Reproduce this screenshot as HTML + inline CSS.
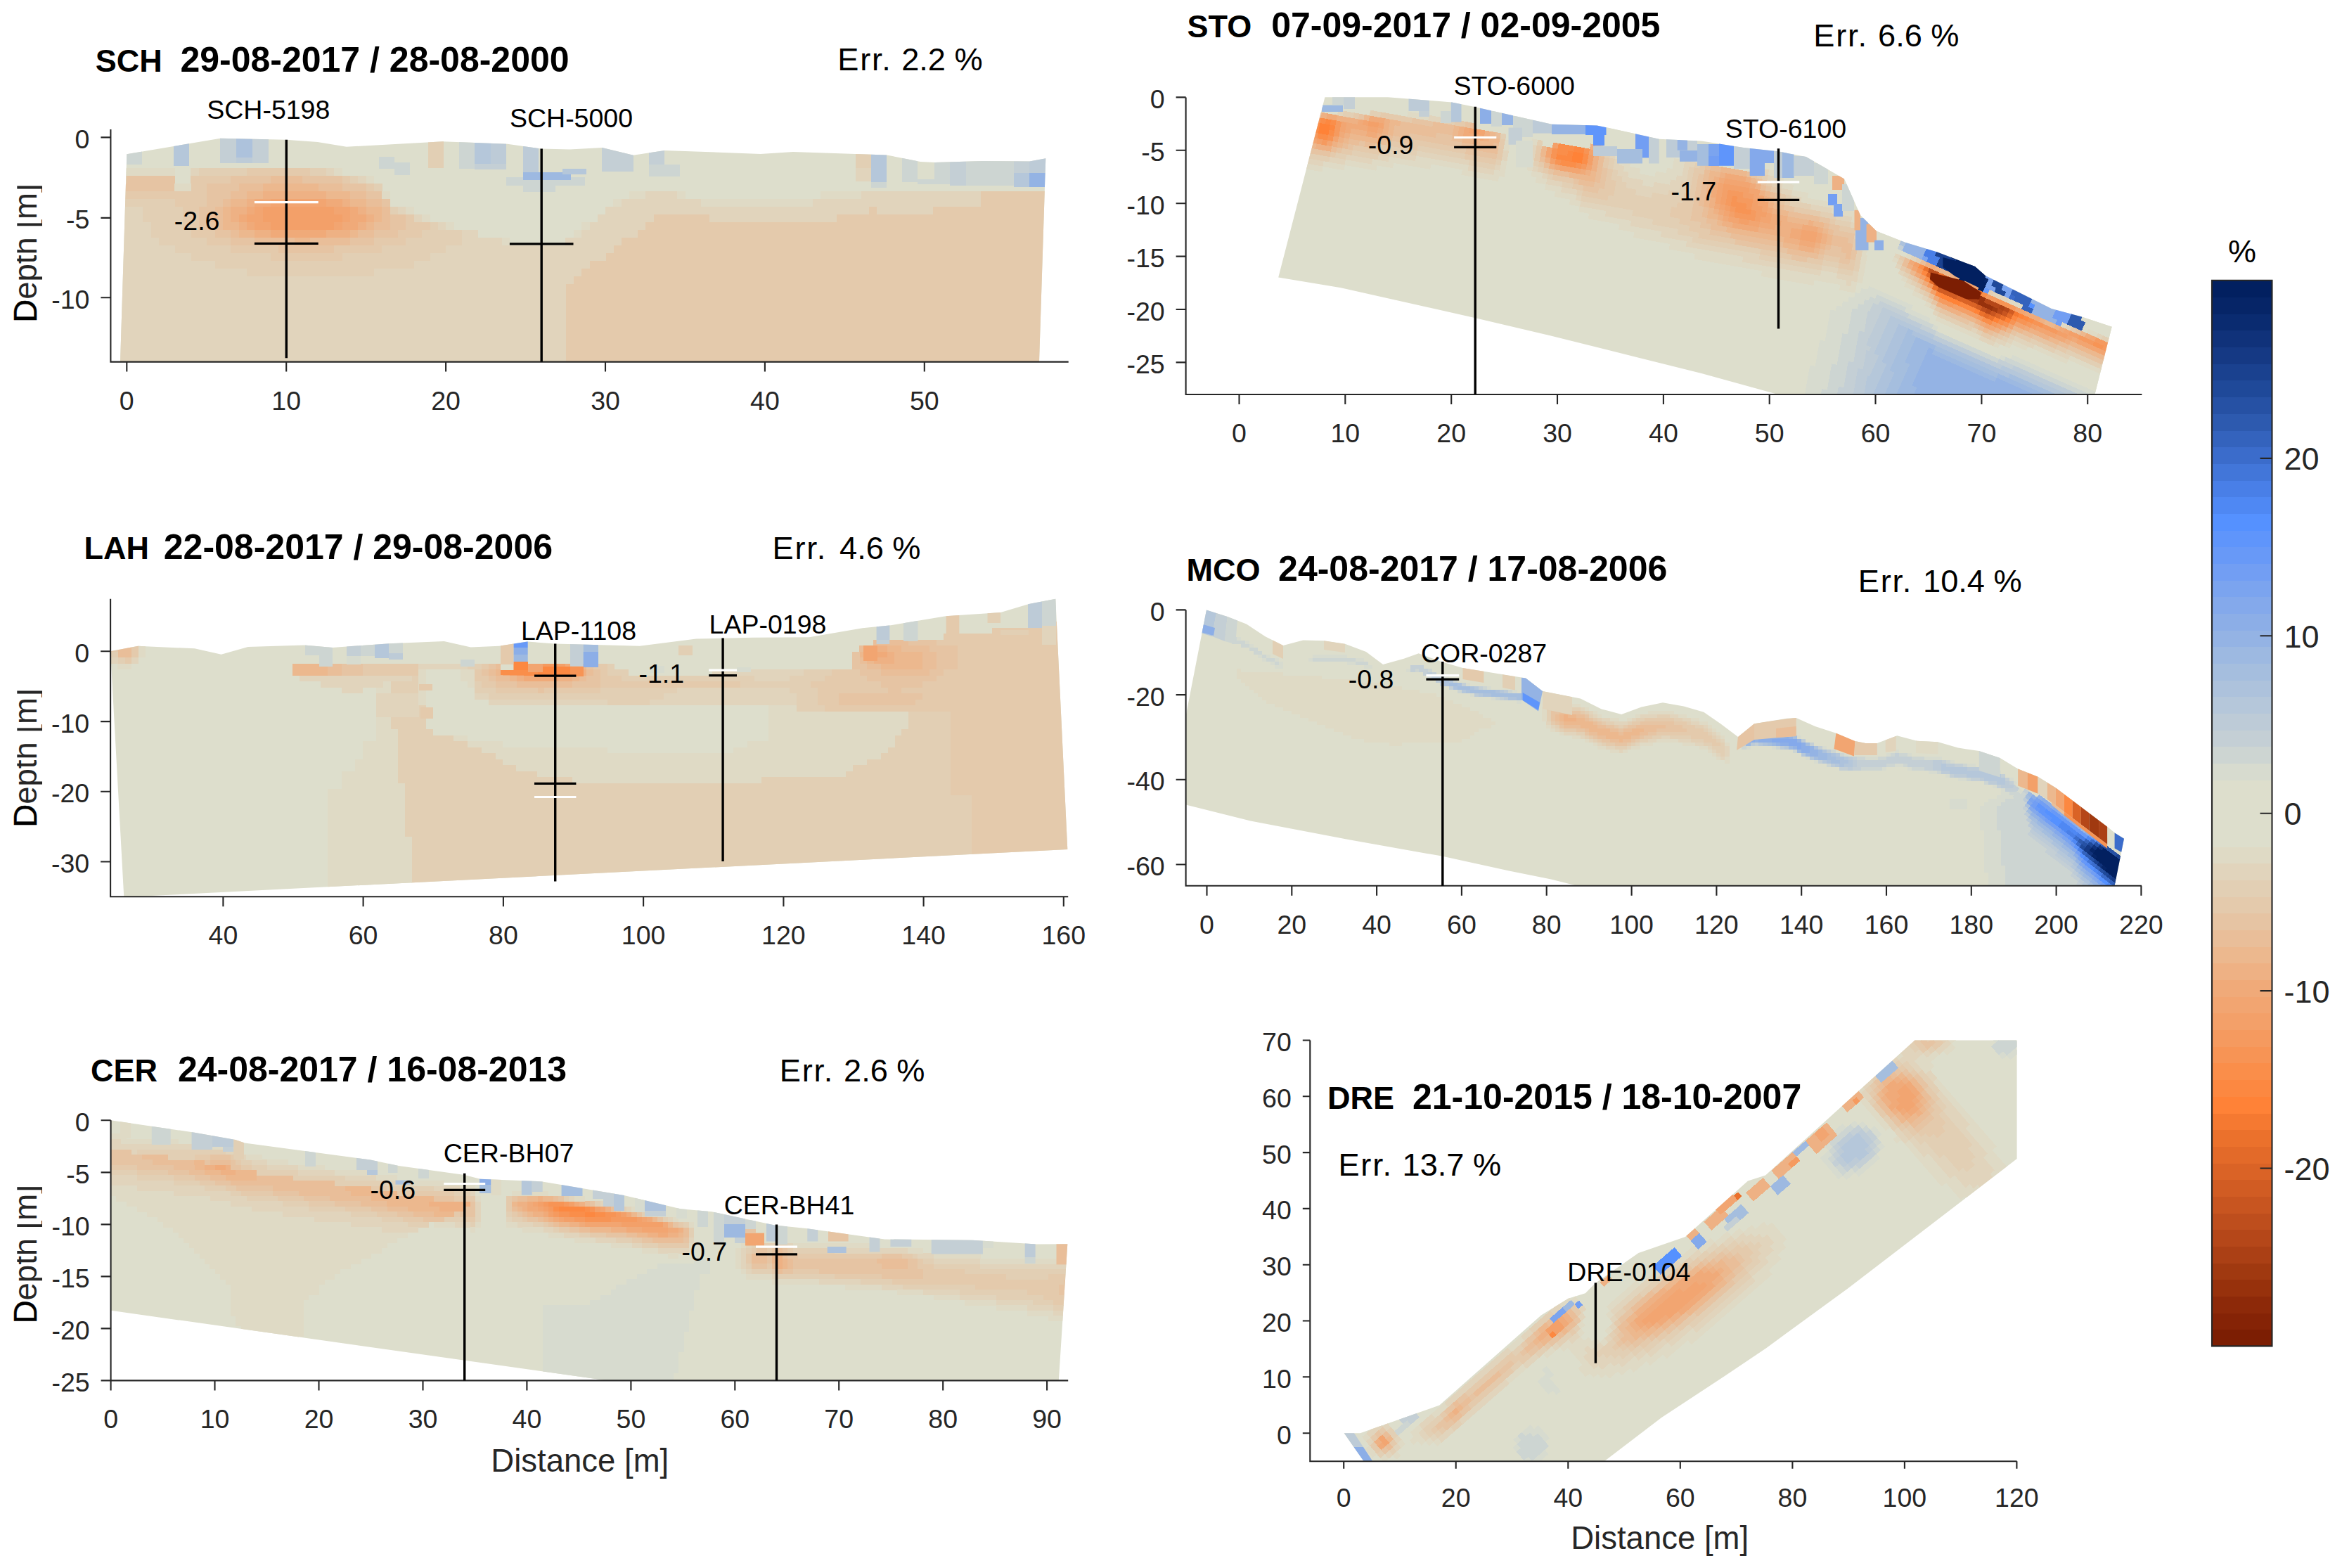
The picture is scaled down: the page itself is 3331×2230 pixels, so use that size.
<!DOCTYPE html>
<html lang="en"><head><meta charset="utf-8"><title>Resistivity change profiles</title>
<style>html,body{margin:0;padding:0;background:#fff}svg{display:block}text{font-family:"Liberation Sans", Arial, Helvetica, sans-serif}</style>
</head><body>
<svg width="3331" height="2230" viewBox="0 0 3331 2230">
<rect width="3331" height="2230" fill="#fff"/>
<defs>
<clipPath id="c0"><polygon points="180.3,219.3 313.5,196.8 407,198.8 451.8,201.9 492.8,208.8 629.5,201.2 721.7,204.7 769.5,211.5 810.5,212.5 856.5,210.1 900.8,220.7 945.2,213.9 1081.8,219 1127.9,215.9 1261.1,220.4 1309,229.9 1329.5,231 1397.8,228.9 1464.4,229.6 1487.3,225.2 1478,514.6 171,514.6"/></clipPath>
<clipPath id="c1"><polygon points="157.1,926.3 196.4,918.8 276.8,922.3 314.7,930.8 352.7,920.1 433,917.4 473.2,921 553.6,915.2 631.7,912.1 669.6,920.5 709.8,918.8 750,912.5 789.3,915.6 909.8,918.8 990.2,908.5 1070.5,906.7 1150.9,906.3 1226.8,893.3 1267,889.3 1345.1,876.3 1423.2,871 1463.4,858.9 1501.3,851.8 1518.3,1208 176.3,1276"/></clipPath>
<clipPath id="c2"><polygon points="157.6,1593.3 276.8,1610.7 334.8,1621 348,1625.4 526.8,1649.6 567,1658 660.7,1671 683,1676.8 771.4,1680.4 887.5,1700 967.9,1719.2 1012.5,1723.2 1101.8,1742.4 1146.4,1746.9 1258,1762.5 1383,1763.8 1474.6,1769.6 1518.3,1769.2 1505.8,1963.4 865,1963.4 157.6,1863.8"/></clipPath>
<clipPath id="c3"><polygon points="1884.4,138.2 1974.1,138.2 2065.1,145.4 2097.3,152.1 2207.1,176.8 2271.4,178.4 2359.7,197.7 2420,200.6 2480,210 2528.8,215.2 2568.8,223 2623.2,254.4 2646,306 2669,328.8 2709,344.5 2755.4,358.5 2809,379 2823.4,391.7 2917.8,439 2960.7,450.4 3003.7,464.7 2979.4,561 2528.8,561 2420,531.1 2205.7,477.5 2097.3,452.1 1907.1,409.2 1818.2,394.5"/></clipPath>
<clipPath id="c4"><polygon points="1715.9,867.6 1745.8,876.9 1772.7,887.4 1799.6,905.3 1825,918.1 1853.4,910.4 1883.2,911.3 1913.1,915.8 1943,927.1 1967,945 1996.8,936.7 2017.7,929.2 2050.6,941.2 2080.5,950.1 2170.2,964.5 2194.1,983 2247.9,993.5 2277.8,1008.4 2306.2,1015.9 2334.6,1005.4 2365,999.3 2394.8,1004.4 2423.2,1012.8 2447.1,1029.2 2472,1048 2495,1029.2 2541.3,1021.7 2554.7,1021.1 2581.6,1033.1 2611.5,1042.7 2638.4,1054 2653.4,1057 2669.8,1057 2698.2,1046.2 2726.6,1053.7 2756.5,1055.2 2784.9,1063.6 2814.8,1068.1 2844.7,1077.9 2870.1,1093.5 2898.5,1104.8 2923.9,1120.4 2997.1,1175.7 3007.6,1184.6 3021,1192.7 3007.6,1259.8 2242.9,1259.8 2206,1250.5 2146.3,1238.6 2050.6,1217.6 1919,1194.3 1778.6,1167.4 1686.6,1144.4 1686.6,1018"/></clipPath>
<clipPath id="c5"><polygon points="1911.5,2038.2 1934.6,2038.2 2047.3,1998.5 2192,1870.4 2230.5,1846.8 2254.8,1839.2 2268.9,1825 2330.4,1782 2397,1759 2486,1679.4 2511,1671.6 2723.4,1479.4 2868.6,1479.4 2868.6,1648.1 2628.1,1832.5 2512.5,1916.9 2453,1957 2363.3,2016 2281.7,2078.2 1939.7,2078.2"/></clipPath>
</defs>
<g clip-path="url(#c0)">
<rect x="169" y="194.8" width="1320.3" height="321.8" fill="#dddecc"/>
<g shape-rendering="crispEdges">
<path fill="#f3a069" d="M373.2 294h102.5v11.4h-102.5zM373.2 305h113.9v11.4h-113.9zM384.6 316h91.2v11.4h-91.2z"/>
<path fill="#f2a571" d="M384.6 283h79.8v11.4h-79.8zM361.9 294h11.7v11.4h-11.7zM475.3 294h23.1v11.4h-23.1zM350.5 305h23.1v11.4h-23.1zM486.7 305h11.7v11.4h-11.7zM361.9 316h23.1v11.4h-23.1zM475.3 316h11.7v11.4h-11.7z"/>
<path fill="#f0aa79" d="M361.9 283h23.1v11.4h-23.1zM464 283h23.1v11.4h-23.1zM350.5 294h11.7v11.4h-11.7zM498 294h11.7v11.4h-11.7zM339.2 305h11.7v11.4h-11.7zM498 305h23.1v11.4h-23.1zM350.5 316h11.7v11.4h-11.7zM486.7 316h23.1v11.4h-23.1zM384.6 327h79.8v11.4h-79.8z"/>
<path fill="#eeb184" d="M373.2 272h91.2v11.4h-91.2zM350.5 283h11.7v11.4h-11.7zM486.7 283h11.7v11.4h-11.7zM327.8 294h23.1v11.4h-23.1zM509.4 294h11.7v11.4h-11.7zM327.8 305h11.7v11.4h-11.7zM520.7 305h11.7v11.4h-11.7zM339.2 316h11.7v11.4h-11.7zM509.4 316h11.7v11.4h-11.7zM361.9 327h23.1v11.4h-23.1zM464 327h34.4v11.4h-34.4z"/>
<path fill="#ecb88e" d="M373.2 261h79.8v11.4h-79.8zM350.5 272h23.1v11.4h-23.1zM464 272h34.4v11.4h-34.4zM327.8 283h23.1v11.4h-23.1zM498 283h23.1v11.4h-23.1zM316.5 294h11.7v11.4h-11.7zM520.7 294h23.1v11.4h-23.1zM316.5 305h11.7v11.4h-11.7zM532 305h11.7v11.4h-11.7zM316.5 316h23.1v11.4h-23.1zM520.7 316h11.7v11.4h-11.7zM339.2 327h23.1v11.4h-23.1zM498 327h11.7v11.4h-11.7zM418.6 338h23.1v11.4h-23.1z"/>
<path fill="#e9be99" d="M384.6 250h45.8v11.4h-45.8zM339.2 261h34.4v11.4h-34.4zM452.6 261h34.4v11.4h-34.4zM327.8 272h23.1v11.4h-23.1zM498 272h23.1v11.4h-23.1zM316.5 283h11.7v11.4h-11.7zM520.7 283h23.1v11.4h-23.1zM305.1 294h11.7v11.4h-11.7zM543.4 294h11.7v11.4h-11.7zM293.8 305h23.1v11.4h-23.1zM543.4 305h11.7v11.4h-11.7zM305.1 316h11.7v11.4h-11.7zM532 316h23.1v11.4h-23.1zM327.8 327h11.7v11.4h-11.7zM509.4 327h23.1v11.4h-23.1zM361.9 338h57.1v11.4h-57.1zM441.3 338h57.1v11.4h-57.1z"/>
<path fill="#e6c4a3" d="M180.3 250h68.5v11.4h-68.5zM327.8 250h57.1v11.4h-57.1zM429.9 250h57.1v11.4h-57.1zM169 261h79.8v11.4h-79.8zM293.8 261h45.8v11.4h-45.8zM486.7 261h34.4v11.4h-34.4zM293.8 272h34.4v11.4h-34.4zM520.7 272h23.1v11.4h-23.1zM293.8 283h23.1v11.4h-23.1zM543.4 283h11.7v11.4h-11.7zM282.4 294h23.1v11.4h-23.1zM282.4 305h11.7v11.4h-11.7zM554.7 305h23.1v11.4h-23.1zM282.4 316h23.1v11.4h-23.1zM554.7 316h23.1v11.4h-23.1zM305.1 327h23.1v11.4h-23.1zM532 327h34.4v11.4h-34.4zM327.8 338h34.4v11.4h-34.4zM498 338h34.4v11.4h-34.4zM395.9 349h79.8v11.4h-79.8z"/>
<path fill="#e4caac" d="M350.5 239h91.2v11.4h-91.2zM169 250h11.7v11.4h-11.7zM271.1 250h57.1v11.4h-57.1zM486.7 250h11.7v11.4h-11.7zM271.1 261h23.1v11.4h-23.1zM520.7 261h11.7v11.4h-11.7zM169 272h125.2v11.4h-125.2zM1394.3 272h102.5v11.4h-102.5zM248.4 283h45.8v11.4h-45.8zM1394.3 283h102.5v11.4h-102.5zM259.8 294h23.1v11.4h-23.1zM1235.4 294h11.7v11.4h-11.7zM1326.2 294h170.6v11.4h-170.6zM259.8 305h23.1v11.4h-23.1zM577.4 305h11.7v11.4h-11.7zM929.1 305h79.8v11.4h-79.8zM1190.1 305h306.7v11.4h-306.7zM259.8 316h23.1v11.4h-23.1zM577.4 316h34.4v11.4h-34.4zM917.8 316h579v11.4h-579zM271.1 327h34.4v11.4h-34.4zM566.1 327h34.4v11.4h-34.4zM906.4 327h590.3v11.4h-590.3zM293.8 338h34.4v11.4h-34.4zM532 338h45.8v11.4h-45.8zM883.7 338h613v11.4h-613zM327.8 349h68.5v11.4h-68.5zM475.3 349h68.5v11.4h-68.5zM872.4 349h624.4v11.4h-624.4zM384.6 360h102.5v11.4h-102.5zM861 360h635.7v11.4h-635.7zM838.4 371h658.4v11.4h-658.4zM827 382h669.8v11.4h-669.8zM815.7 393h681.1v11.4h-681.1zM804.3 404h692.4v11.4h-692.4zM804.3 415h692.4v11.4h-692.4zM804.3 426h692.4v11.4h-692.4zM804.3 437h692.4v11.4h-692.4zM804.3 448h692.4v11.4h-692.4zM804.3 459h692.4v11.4h-692.4zM804.3 470h692.4v11.4h-692.4zM804.3 481h692.4v11.4h-692.4zM804.3 492h692.4v11.4h-692.4zM804.3 503h692.4v11.4h-692.4zM804.3 514h692.4v11.4h-692.4z"/>
<path fill="#e2cfb4" d="M282.4 239h68.5v11.4h-68.5zM441.3 239h23.1v11.4h-23.1zM498 250h11.7v11.4h-11.7zM532 261h11.7v11.4h-11.7zM169 283h79.8v11.4h-79.8zM203 294h57.1v11.4h-57.1zM554.7 294h11.7v11.4h-11.7zM203 305h57.1v11.4h-57.1zM214.4 316h45.8v11.4h-45.8zM611.5 316h11.7v11.4h-11.7zM214.4 327h57.1v11.4h-57.1zM600.1 327h57.1v11.4h-57.1zM225.7 338h68.5v11.4h-68.5zM577.4 338h79.8v11.4h-79.8zM248.4 349h79.8v11.4h-79.8zM543.4 349h91.2v11.4h-91.2zM271.1 360h113.9v11.4h-113.9zM486.7 360h125.2v11.4h-125.2zM305.1 371h284v11.4h-284zM350.5 382h181.9v11.4h-181.9z"/>
<path fill="#e1d4bc" d="M271.1 239h11.7v11.4h-11.7zM464 239h11.7v11.4h-11.7zM509.4 250h11.7v11.4h-11.7zM917.8 272h45.8v11.4h-45.8zM1224.1 272h170.6v11.4h-170.6zM883.7 283h113.9v11.4h-113.9zM1156 283h238.6v11.4h-238.6zM169 294h34.4v11.4h-34.4zM566.1 294h11.7v11.4h-11.7zM861 294h374.8v11.4h-374.8zM1246.8 294h79.8v11.4h-79.8zM169 305h34.4v11.4h-34.4zM588.8 305h11.7v11.4h-11.7zM849.7 305h79.8v11.4h-79.8zM1008.5 305h181.9v11.4h-181.9zM169 316h45.8v11.4h-45.8zM622.8 316h11.7v11.4h-11.7zM838.4 316h79.8v11.4h-79.8zM169 327h45.8v11.4h-45.8zM656.8 327h23.1v11.4h-23.1zM827 327h79.8v11.4h-79.8zM169 338h57.1v11.4h-57.1zM656.8 338h57.1v11.4h-57.1zM804.3 338h79.8v11.4h-79.8zM169 349h79.8v11.4h-79.8zM634.1 349h238.6v11.4h-238.6zM169 360h102.5v11.4h-102.5zM611.5 360h250v11.4h-250zM169 371h136.5v11.4h-136.5zM588.8 371h250v11.4h-250zM169 382h181.9v11.4h-181.9zM532 382h295.4v11.4h-295.4zM169 393h647.1v11.4h-647.1zM169 404h635.7v11.4h-635.7zM169 415h635.7v11.4h-635.7zM169 426h635.7v11.4h-635.7zM169 437h635.7v11.4h-635.7zM169 448h635.7v11.4h-635.7zM169 459h635.7v11.4h-635.7zM169 470h635.7v11.4h-635.7zM169 481h635.7v11.4h-635.7zM169 492h635.7v11.4h-635.7zM169 503h635.7v11.4h-635.7zM169 514h635.7v11.4h-635.7z"/>
<path fill="#dfdac5" d="M169 239h79.8v11.4h-79.8zM475.3 239h11.7v11.4h-11.7zM520.7 250h11.7v11.4h-11.7zM248.4 261h23.1v11.4h-23.1zM543.4 272h11.7v11.4h-11.7zM895.1 272h23.1v11.4h-23.1zM963.2 272h11.7v11.4h-11.7zM1167.4 272h57.1v11.4h-57.1zM872.4 283h11.7v11.4h-11.7zM997.2 283h159.2v11.4h-159.2zM577.4 294h11.7v11.4h-11.7zM600.1 305h11.7v11.4h-11.7zM634.1 316h11.7v11.4h-11.7zM827 316h11.7v11.4h-11.7zM815.7 327h11.7v11.4h-11.7zM713.6 338h11.7v11.4h-11.7z"/>
</g>
<rect x="180" y="215" width="22" height="19" fill="#cdd5d2"/>
<rect x="247" y="200" width="22" height="36" fill="#b5c7da"/>
<rect x="313" y="190" width="23" height="42" fill="#c4cfd5"/>
<rect x="336" y="190" width="23" height="34" fill="#adc2dc"/>
<rect x="336" y="224" width="23" height="8" fill="#bdcbd7"/>
<rect x="359" y="190" width="23" height="42" fill="#c4cfd5"/>
<rect x="539" y="223" width="22" height="17" fill="#cdd5d2"/>
<rect x="561" y="231" width="22" height="18" fill="#cdd5d2"/>
<rect x="609" y="196" width="22" height="43" fill="#e2cfb4"/>
<rect x="653" y="200" width="22" height="40" fill="#cdd5d2"/>
<rect x="675" y="200" width="23" height="33" fill="#b5c7da"/>
<rect x="698" y="200" width="22" height="33" fill="#bdcbd7"/>
<rect x="675" y="233" width="45" height="8" fill="#c4cfd5"/>
<rect x="744" y="205" width="22" height="40" fill="#bdcbd7"/>
<rect x="720" y="252" width="112" height="12" fill="#cdd5d2"/>
<rect x="744" y="245" width="68" height="11" fill="#9db9e1"/>
<rect x="744" y="256" width="46" height="17" fill="#cdd5d2"/>
<rect x="800" y="240" width="34" height="8" fill="#b5c7da"/>
<rect x="856" y="208" width="45" height="36" fill="#c4cfd5"/>
<rect x="923" y="210" width="22" height="24" fill="#c4cfd5"/>
<rect x="923" y="234" width="44" height="17" fill="#cdd5d2"/>
<rect x="1217" y="215" width="22" height="24" fill="#e2cfb4"/>
<rect x="1217" y="239" width="22" height="19" fill="#e1d4bc"/>
<rect x="1239" y="215" width="22" height="44" fill="#b5c7da"/>
<rect x="1239" y="259" width="22" height="8" fill="#cdd5d2"/>
<rect x="1283" y="222" width="22" height="37" fill="#cdd5d2"/>
<rect x="1329" y="226" width="22" height="36" fill="#cdd5d2"/>
<rect x="1351" y="226" width="23" height="38" fill="#c4cfd5"/>
<rect x="1374" y="226" width="68" height="38" fill="#cdd5d2"/>
<rect x="1305" y="255" width="24" height="7" fill="#cdd5d2"/>
<rect x="1442" y="224" width="22" height="22" fill="#c4cfd5"/>
<rect x="1464" y="220" width="24" height="26" fill="#bdcbd7"/>
<rect x="1442" y="246" width="22" height="20" fill="#b5c7da"/>
<rect x="1464" y="246" width="24" height="20" fill="#94b3e4"/>
</g>
<path d="M157.4 184L157.4 514.6L1519.7 514.6M180.3 514.6v14M407.2 514.6v14M634.1 514.6v14M861 514.6v14M1087.9 514.6v14M1314.8 514.6v14M157.4 195.4h-14M157.4 309.9h-14M157.4 423.3h-14" stroke="#262626" stroke-width="2.1" fill="none" stroke-linecap="butt"/>
<text x="180.3" y="582.6" font-size="37.5" text-anchor="middle" fill="#262626">0</text>
<text x="407.2" y="582.6" font-size="37.5" text-anchor="middle" fill="#262626">10</text>
<text x="634.1" y="582.6" font-size="37.5" text-anchor="middle" fill="#262626">20</text>
<text x="861" y="582.6" font-size="37.5" text-anchor="middle" fill="#262626">30</text>
<text x="1087.9" y="582.6" font-size="37.5" text-anchor="middle" fill="#262626">40</text>
<text x="1314.8" y="582.6" font-size="37.5" text-anchor="middle" fill="#262626">50</text>
<text x="127.4" y="210.9" font-size="37.5" text-anchor="end" fill="#262626">0</text>
<text x="127.4" y="325.4" font-size="37.5" text-anchor="end" fill="#262626">-5</text>
<text x="127.4" y="438.8" font-size="37.5" text-anchor="end" fill="#262626">-10</text>
<path d="M407.3 198.8L407.3 509.3" stroke="#000" stroke-width="3.4" fill="none"/>
<path d="M361.9 287.7L452.7 287.7" stroke="#fff" stroke-width="3.2" fill="none"/>
<path d="M361.9 346.4L452.7 346.4" stroke="#000" stroke-width="3.2" fill="none"/>
<path d="M770.2 211.5L770.2 514.6" stroke="#000" stroke-width="3.4" fill="none"/>
<path d="M724.9 346.8L815.5 346.8" stroke="#000" stroke-width="3.2" fill="none"/>
<text x="381.8" y="169.2" font-size="37.5" text-anchor="middle" fill="#000">SCH-5198</text>
<text x="812.5" y="180.8" font-size="37.5" text-anchor="middle" fill="#000">SCH-5000</text>
<text x="247.8" y="326.6" font-size="37.5" text-anchor="start" fill="#000">-2.6</text>
<text y="101.5" font-weight="bold" fill="#000"><tspan x="135.7" font-size="45">SCH </tspan><tspan x="256.4" font-size="50">29-08-2017 / 28-08-2000</tspan></text>
<text y="100.3" font-size="45.2" fill="#000"><tspan x="1191.2" letter-spacing="1.8">Err. </tspan><tspan x="1282.2">2.2 %</tspan></text>
<text transform="translate(51.5 360) rotate(-90)" font-size="45.5" text-anchor="middle" fill="#262626"><tspan fill="#000" stroke="#000" stroke-width="0.4">D</tspan>epth [m]</text>
<rect x="0" y="195" width="24.3" height="230" fill="#fff"/>
<rect x="60" y="195" width="5" height="230" fill="#fff"/>
<g clip-path="url(#c1)">
<rect x="155.1" y="849.8" width="1365.2" height="428.2" fill="#dddecc"/>
<g shape-rendering="crispEdges">
<path fill="#fc8841" d="M764.4 952h20.3v8.9h-20.3z"/>
<path fill="#fa8e4a" d="M744.4 952h20.3v8.9h-20.3zM784.3 952h10.4v8.9h-10.4z"/>
<path fill="#f79455" d="M794.2 952h10.4v8.9h-10.4z"/>
<path fill="#f59a5f" d="M754.4 943.5h40.2v8.9h-40.2zM734.5 952h10.4v8.9h-10.4z"/>
<path fill="#f3a069" d="M744.4 943.5h10.4v8.9h-10.4zM794.2 943.5h10.4v8.9h-10.4zM724.5 952h10.4v8.9h-10.4zM804.2 952h10.4v8.9h-10.4z"/>
<path fill="#f2a571" d="M734.5 943.5h10.4v8.9h-10.4zM814.1 952h10.4v8.9h-10.4z"/>
<path fill="#f0aa79" d="M1242.2 926.5h20.3v8.9h-20.3zM724.5 943.5h10.4v8.9h-10.4zM804.2 943.5h10.4v8.9h-10.4zM714.6 952h10.4v8.9h-10.4zM744.4 960.5h50.2v8.9h-50.2z"/>
<path fill="#eeb184" d="M1242.2 918h20.3v8.9h-20.3zM1232.2 926.5h10.4v8.9h-10.4zM1262.1 926.5h10.4v8.9h-10.4zM1242.2 935h30.3v8.9h-30.3zM814.1 943.5h10.4v8.9h-10.4zM824.1 952h10.4v8.9h-10.4zM734.5 960.5h10.4v8.9h-10.4zM794.2 960.5h20.3v8.9h-20.3z"/>
<path fill="#ecb88e" d="M1232.2 918h10.4v8.9h-10.4zM1262.1 918h20.3v8.9h-20.3zM1222.3 926.5h10.4v8.9h-10.4zM1272.1 926.5h40.2v8.9h-40.2zM1232.2 935h10.4v8.9h-10.4zM1272.1 935h40.2v8.9h-40.2zM415.9 943.5h50.2v8.9h-50.2zM714.6 943.5h10.4v8.9h-10.4zM824.1 943.5h10.4v8.9h-10.4zM1252.1 943.5h60.1v8.9h-60.1zM415.9 952h50.2v8.9h-50.2zM704.6 952h10.4v8.9h-10.4zM724.5 960.5h10.4v8.9h-10.4zM814.1 960.5h10.4v8.9h-10.4z"/>
<path fill="#e9be99" d="M1242.2 909.5h50.2v8.9h-50.2zM167.1 918h20.3v8.9h-20.3zM1222.3 918h10.4v8.9h-10.4zM1282 918h40.2v8.9h-40.2zM167.1 926.5h20.3v8.9h-20.3zM1311.9 926.5h20.3v8.9h-20.3zM1222.3 935h10.4v8.9h-10.4zM1311.9 935h20.3v8.9h-20.3zM465.7 943.5h20.3v8.9h-20.3zM704.6 943.5h10.4v8.9h-10.4zM1232.2 943.5h20.3v8.9h-20.3zM1311.9 943.5h20.3v8.9h-20.3zM465.7 952h20.3v8.9h-20.3zM694.7 952h10.4v8.9h-10.4zM834 952h10.4v8.9h-10.4zM1252.1 952h70.1v8.9h-70.1zM704.6 960.5h20.3v8.9h-20.3zM824.1 960.5h10.4v8.9h-10.4zM734.5 969h80v8.9h-80z"/>
<path fill="#e6c4a3" d="M1292 909.5h40.2v8.9h-40.2zM1321.8 918h40.2v8.9h-40.2zM1212.3 926.5h10.4v8.9h-10.4zM1331.8 926.5h30.3v8.9h-30.3zM1212.3 935h10.4v8.9h-10.4zM1331.8 935h30.3v8.9h-30.3zM485.6 943.5h30.3v8.9h-30.3zM694.7 943.5h10.4v8.9h-10.4zM834 943.5h10.4v8.9h-10.4zM1212.3 943.5h20.3v8.9h-20.3zM1331.8 943.5h30.3v8.9h-30.3zM485.6 952h30.3v8.9h-30.3zM684.7 952h10.4v8.9h-10.4zM844 952h10.4v8.9h-10.4zM1222.3 952h30.3v8.9h-30.3zM1321.8 952h20.3v8.9h-20.3zM694.7 960.5h10.4v8.9h-10.4zM834 960.5h20.3v8.9h-20.3zM1232.2 960.5h100v8.9h-100zM704.6 969h30.3v8.9h-30.3zM814.1 969h40.2v8.9h-40.2zM1252.1 969h60.1v8.9h-60.1zM764.4 977.5h10.4v8.9h-10.4zM1262.1 977.5h20.3v8.9h-20.3zM1192.4 986h119.9v8.9h-119.9zM1192.4 994.5h109.9v8.9h-109.9z"/>
<path fill="#e4caac" d="M1481.1 884h40.2v8.9h-40.2zM1411.4 892.5h109.9v8.9h-109.9zM1341.7 901h179.6v8.9h-179.6zM167.1 909.5h20.3v8.9h-20.3zM1331.8 909.5h189.5v8.9h-189.5zM157.1 918h10.4v8.9h-10.4zM187 918h10.4v8.9h-10.4zM1361.7 918h159.7v8.9h-159.7zM187 926.5h10.4v8.9h-10.4zM1361.7 926.5h159.7v8.9h-159.7zM177 935h10.4v8.9h-10.4zM1361.7 935h159.7v8.9h-159.7zM515.5 943.5h80v8.9h-80zM684.7 943.5h10.4v8.9h-10.4zM844 943.5h20.3v8.9h-20.3zM1361.7 943.5h159.7v8.9h-159.7zM515.5 952h80v8.9h-80zM674.8 952h10.4v8.9h-10.4zM854 952h10.4v8.9h-10.4zM1182.5 952h40.2v8.9h-40.2zM1341.7 952h179.6v8.9h-179.6zM674.8 960.5h20.3v8.9h-20.3zM854 960.5h30.3v8.9h-30.3zM1172.5 960.5h60.1v8.9h-60.1zM1331.8 960.5h189.5v8.9h-189.5zM684.7 969h20.3v8.9h-20.3zM854 969h199.5v8.9h-199.5zM1152.6 969h100v8.9h-100zM1311.9 969h209.5v8.9h-209.5zM704.6 977.5h60.1v8.9h-60.1zM774.3 977.5h80v8.9h-80zM1162.6 977.5h100v8.9h-100zM1282 977.5h239.3v8.9h-239.3zM1162.6 986h30.3v8.9h-30.3zM1311.9 986h209.5v8.9h-209.5zM1162.6 994.5h30.3v8.9h-30.3zM1301.9 994.5h219.4v8.9h-219.4zM1172.5 1003h348.8v8.9h-348.8zM1351.7 1011.5h169.6v8.9h-169.6zM1351.7 1020h169.6v8.9h-169.6zM1351.7 1028.5h169.6v8.9h-169.6zM1351.7 1037h169.6v8.9h-169.6zM1351.7 1045.5h169.6v8.9h-169.6zM1351.7 1054h169.6v8.9h-169.6zM1351.7 1062.5h169.6v8.9h-169.6zM1351.7 1071h169.6v8.9h-169.6zM1351.7 1079.5h169.6v8.9h-169.6zM1351.7 1088h169.6v8.9h-169.6zM1351.7 1096.5h169.6v8.9h-169.6zM1351.7 1105h169.6v8.9h-169.6zM1351.7 1113.5h169.6v8.9h-169.6zM1351.7 1122h169.6v8.9h-169.6zM1381.6 1130.5h139.8v8.9h-139.8zM1381.6 1139h139.8v8.9h-139.8zM1381.6 1147.5h139.8v8.9h-139.8zM1381.6 1156h139.8v8.9h-139.8zM1381.6 1164.5h139.8v8.9h-139.8zM1381.6 1173h139.8v8.9h-139.8zM1381.6 1181.5h139.8v8.9h-139.8zM1381.6 1190h139.8v8.9h-139.8zM1381.6 1198.5h139.8v8.9h-139.8zM1381.6 1207h139.8v8.9h-139.8zM1381.6 1215.5h139.8v8.9h-139.8zM1381.6 1224h139.8v8.9h-139.8zM1381.6 1232.5h139.8v8.9h-139.8zM1381.6 1241h139.8v8.9h-139.8zM1381.6 1249.5h139.8v8.9h-139.8zM1381.6 1258h139.8v8.9h-139.8zM1381.6 1266.5h139.8v8.9h-139.8zM1381.6 1275h139.8v8.9h-139.8z"/>
<path fill="#e2cfb4" d="M187 909.5h10.4v8.9h-10.4zM157.1 926.5h10.4v8.9h-10.4zM167.1 935h10.4v8.9h-10.4zM664.8 943.5h20.3v8.9h-20.3zM863.9 943.5h10.4v8.9h-10.4zM863.9 952h30.3v8.9h-30.3zM1142.6 952h40.2v8.9h-40.2zM585.2 960.5h10.4v8.9h-10.4zM883.8 960.5h189.5v8.9h-189.5zM1122.7 960.5h50.2v8.9h-50.2zM555.3 969h40.2v8.9h-40.2zM674.8 969h10.4v8.9h-10.4zM1053 969h100v8.9h-100zM555.3 977.5h40.2v8.9h-40.2zM674.8 977.5h30.3v8.9h-30.3zM854 977.5h109.9v8.9h-109.9zM1122.7 977.5h40.2v8.9h-40.2zM694.7 986h249.3v8.9h-249.3zM1132.7 986h30.3v8.9h-30.3zM863.9 994.5h60.1v8.9h-60.1zM1132.7 994.5h30.3v8.9h-30.3zM595.1 1003h10.4v8.9h-10.4zM1132.7 1003h40.2v8.9h-40.2zM595.1 1011.5h10.4v8.9h-10.4zM1292 1011.5h60.1v8.9h-60.1zM555.3 1020h50.2v8.9h-50.2zM1292 1020h60.1v8.9h-60.1zM555.3 1028.5h50.2v8.9h-50.2zM1292 1028.5h60.1v8.9h-60.1zM565.3 1037h50.2v8.9h-50.2zM1282 1037h70.1v8.9h-70.1zM565.3 1045.5h80v8.9h-80zM1272.1 1045.5h80v8.9h-80zM565.3 1054h100v8.9h-100zM1272.1 1054h80v8.9h-80zM565.3 1062.5h119.9v8.9h-119.9zM1262.1 1062.5h90v8.9h-90zM565.3 1071h139.8v8.9h-139.8zM1252.1 1071h100v8.9h-100zM565.3 1079.5h149.7v8.9h-149.7zM1232.2 1079.5h119.9v8.9h-119.9zM565.3 1088h169.6v8.9h-169.6zM1212.3 1088h139.8v8.9h-139.8zM565.3 1096.5h199.5v8.9h-199.5zM1202.4 1096.5h149.7v8.9h-149.7zM565.3 1105h249.3v8.9h-249.3zM1082.9 1105h269.2v8.9h-269.2zM575.2 1113.5h776.9v8.9h-776.9zM575.2 1122h776.9v8.9h-776.9zM575.2 1130.5h806.8v8.9h-806.8zM575.2 1139h806.8v8.9h-806.8zM575.2 1147.5h806.8v8.9h-806.8zM575.2 1156h806.8v8.9h-806.8zM575.2 1164.5h806.8v8.9h-806.8zM575.2 1173h806.8v8.9h-806.8zM575.2 1181.5h806.8v8.9h-806.8zM585.2 1190h796.8v8.9h-796.8zM585.2 1198.5h796.8v8.9h-796.8zM585.2 1207h796.8v8.9h-796.8zM585.2 1215.5h796.8v8.9h-796.8zM585.2 1224h796.8v8.9h-796.8zM585.2 1232.5h796.8v8.9h-796.8zM585.2 1241h796.8v8.9h-796.8zM585.2 1249.5h796.8v8.9h-796.8zM585.2 1258h796.8v8.9h-796.8zM585.2 1266.5h796.8v8.9h-796.8zM595.1 1275h786.8v8.9h-786.8z"/>
<path fill="#e1d4bc" d="M167.1 901h20.3v8.9h-20.3zM157.1 909.5h10.4v8.9h-10.4zM157.1 935h10.4v8.9h-10.4zM187 935h10.4v8.9h-10.4zM595.1 943.5h70.1v8.9h-70.1zM1013.2 952h129.8v8.9h-129.8zM425.9 960.5h159.7v8.9h-159.7zM1073 960.5h50.2v8.9h-50.2zM455.8 969h90v8.9h-90zM485.6 977.5h30.3v8.9h-30.3zM963.5 977.5h159.7v8.9h-159.7zM535.4 986h60.1v8.9h-60.1zM674.8 986h20.3v8.9h-20.3zM943.5 986h189.5v8.9h-189.5zM535.4 994.5h60.1v8.9h-60.1zM694.7 994.5h169.6v8.9h-169.6zM923.6 994.5h209.5v8.9h-209.5zM535.4 1003h60.1v8.9h-60.1zM535.4 1011.5h60.1v8.9h-60.1z"/>
<path fill="#dfdac5" d="M157.1 901h10.4v8.9h-10.4zM187 901h10.4v8.9h-10.4zM196.9 909.5h10.4v8.9h-10.4zM196.9 918h10.4v8.9h-10.4zM196.9 926.5h10.4v8.9h-10.4zM167.1 943.5h20.3v8.9h-20.3zM595.1 952h10.4v8.9h-10.4zM654.9 952h20.3v8.9h-20.3zM595.1 960.5h10.4v8.9h-10.4zM654.9 960.5h20.3v8.9h-20.3zM545.3 969h10.4v8.9h-10.4zM595.1 969h10.4v8.9h-10.4zM664.8 969h10.4v8.9h-10.4zM535.4 977.5h20.3v8.9h-20.3zM595.1 977.5h10.4v8.9h-10.4zM595.1 986h10.4v8.9h-10.4zM595.1 994.5h10.4v8.9h-10.4zM1092.9 1003h40.2v8.9h-40.2zM1092.9 1011.5h199.5v8.9h-199.5zM535.4 1020h20.3v8.9h-20.3zM1092.9 1020h199.5v8.9h-199.5zM535.4 1028.5h20.3v8.9h-20.3zM1092.9 1028.5h199.5v8.9h-199.5zM535.4 1037h30.3v8.9h-30.3zM1092.9 1037h189.5v8.9h-189.5zM535.4 1045.5h30.3v8.9h-30.3zM644.9 1045.5h20.3v8.9h-20.3zM1092.9 1045.5h179.6v8.9h-179.6zM515.5 1054h50.2v8.9h-50.2zM664.8 1054h50.2v8.9h-50.2zM1063 1054h209.5v8.9h-209.5zM515.5 1062.5h50.2v8.9h-50.2zM684.7 1062.5h179.6v8.9h-179.6zM1043.1 1062.5h219.4v8.9h-219.4zM515.5 1071h50.2v8.9h-50.2zM704.6 1071h547.9v8.9h-547.9zM505.5 1079.5h60.1v8.9h-60.1zM714.6 1079.5h518.1v8.9h-518.1zM505.5 1088h60.1v8.9h-60.1zM734.5 1088h478.2v8.9h-478.2zM485.6 1096.5h80v8.9h-80zM764.4 1096.5h438.4v8.9h-438.4zM485.6 1105h80v8.9h-80zM814.1 1105h269.2v8.9h-269.2zM485.6 1113.5h90v8.9h-90zM465.7 1122h109.9v8.9h-109.9zM465.7 1130.5h109.9v8.9h-109.9zM465.7 1139h109.9v8.9h-109.9zM465.7 1147.5h109.9v8.9h-109.9zM465.7 1156h109.9v8.9h-109.9zM465.7 1164.5h109.9v8.9h-109.9zM465.7 1173h109.9v8.9h-109.9zM465.7 1181.5h109.9v8.9h-109.9zM465.7 1190h119.9v8.9h-119.9zM465.7 1198.5h119.9v8.9h-119.9zM465.7 1207h119.9v8.9h-119.9zM465.7 1215.5h119.9v8.9h-119.9zM465.7 1224h119.9v8.9h-119.9zM465.7 1232.5h119.9v8.9h-119.9zM465.7 1241h119.9v8.9h-119.9zM465.7 1249.5h119.9v8.9h-119.9zM465.7 1258h119.9v8.9h-119.9zM465.7 1266.5h119.9v8.9h-119.9zM465.7 1275h129.8v8.9h-129.8z"/>
</g>
<rect x="434" y="910" width="20" height="22" fill="#cdd5d2"/>
<rect x="454" y="910" width="19" height="38" fill="#cdd5d2"/>
<rect x="493" y="910" width="20" height="23" fill="#c4cfd5"/>
<rect x="513" y="910" width="20" height="23" fill="#cdd5d2"/>
<rect x="533" y="908" width="20" height="28" fill="#b5c7da"/>
<rect x="553" y="908" width="20" height="21" fill="#cdd5d2"/>
<rect x="553" y="929" width="20" height="9" fill="#bdcbd7"/>
<rect x="493" y="933" width="20" height="12" fill="#d7dbcf"/>
<rect x="596" y="973" width="19" height="9" fill="#e4caac"/>
<rect x="598" y="1006" width="18" height="16" fill="#e4caac"/>
<rect x="655" y="938" width="20" height="10" fill="#cdd5d2"/>
<rect x="712" y="910" width="18.6" height="35" fill="#e4caac"/>
<rect x="730.6" y="905" width="20.1" height="16" fill="#6899f7"/>
<rect x="730.6" y="921" width="20.1" height="10" fill="#8caee7"/>
<rect x="730.6" y="931" width="20.1" height="10" fill="#9db9e1"/>
<rect x="811" y="910" width="18.6" height="37.6" fill="#c4cfd5"/>
<rect x="829.6" y="910" width="21.4" height="17" fill="#a5bede"/>
<rect x="829.6" y="927" width="21.4" height="22" fill="#8caee7"/>
<rect x="712" y="945" width="18.6" height="8" fill="#dddecc"/>
<rect x="730.6" y="941" width="20.4" height="15" fill="#fc8841"/>
<rect x="712" y="953" width="39" height="7" fill="#fa8e4a"/>
<rect x="772" y="948" width="39" height="14" fill="#fc8841"/>
<rect x="811" y="948" width="19" height="14" fill="#f79455"/>
<rect x="751" y="944" width="21" height="12" fill="#f2a571"/>
<rect x="925" y="947" width="20" height="10" fill="#d7dbcf"/>
<rect x="1048" y="949" width="20" height="7" fill="#d7dbcf"/>
<rect x="965" y="918" width="20" height="14" fill="#e2cfb4"/>
<rect x="1246.6" y="880" width="18.7" height="30" fill="#bdcbd7"/>
<rect x="1246.6" y="910" width="18.7" height="6" fill="#c4cfd5"/>
<rect x="1285" y="875" width="20.5" height="36.8" fill="#cdd5d2"/>
<rect x="1345.7" y="870" width="18.6" height="44.6" fill="#e4caac"/>
<rect x="1404.5" y="865" width="18.5" height="21" fill="#e2cfb4"/>
<rect x="1462" y="850" width="20" height="43" fill="#bdcbd7"/>
<rect x="1482" y="845" width="20" height="45" fill="#cdd5d2"/>
<rect x="1423" y="896" width="40" height="7" fill="#e2cfb4"/>
<rect x="1482" y="890" width="20" height="27" fill="#e1d4bc"/>
<rect x="1228" y="918" width="20" height="22" fill="#f2a571"/>
</g>
<path d="M157.1 851.8L157.1 1275.2L1519.2 1275.2M317.4 1275.2v14M516.6 1275.2v14M715.9 1275.2v14M915.1 1275.2v14M1114.4 1275.2v14M1313.6 1275.2v14M1512.8 1275.2v14M157.1 926.3h-14M157.1 1026.1h-14M157.1 1125.8h-14M157.1 1225.5h-14" stroke="#262626" stroke-width="2.1" fill="none" stroke-linecap="butt"/>
<text x="317.4" y="1343.2" font-size="37.5" text-anchor="middle" fill="#262626">40</text>
<text x="516.6" y="1343.2" font-size="37.5" text-anchor="middle" fill="#262626">60</text>
<text x="715.9" y="1343.2" font-size="37.5" text-anchor="middle" fill="#262626">80</text>
<text x="915.1" y="1343.2" font-size="37.5" text-anchor="middle" fill="#262626">100</text>
<text x="1114.4" y="1343.2" font-size="37.5" text-anchor="middle" fill="#262626">120</text>
<text x="1313.6" y="1343.2" font-size="37.5" text-anchor="middle" fill="#262626">140</text>
<text x="1512.8" y="1343.2" font-size="37.5" text-anchor="middle" fill="#262626">160</text>
<text x="127.1" y="941.8" font-size="37.5" text-anchor="end" fill="#262626">0</text>
<text x="127.1" y="1041.6" font-size="37.5" text-anchor="end" fill="#262626">-10</text>
<text x="127.1" y="1141.3" font-size="37.5" text-anchor="end" fill="#262626">-20</text>
<text x="127.1" y="1241" font-size="37.5" text-anchor="end" fill="#262626">-30</text>
<path d="M789.7 915.6L789.7 1253.6" stroke="#000" stroke-width="3.4" fill="none"/>
<path d="M760 961.2L819.4 961.2" stroke="#000" stroke-width="3.2" fill="none"/>
<path d="M760 1114.3L819.4 1114.3" stroke="#000" stroke-width="3.2" fill="none"/>
<path d="M760 1133.5L819.4 1133.5" stroke="#fff" stroke-width="3.2" fill="none"/>
<path d="M1028.1 907.6L1028.1 1225" stroke="#000" stroke-width="3.4" fill="none"/>
<path d="M1008.2 953.1L1048 953.1" stroke="#fff" stroke-width="3.2" fill="none"/>
<path d="M1008.2 960.7L1048 960.7" stroke="#000" stroke-width="3.2" fill="none"/>
<text x="823" y="909.8" font-size="37.5" text-anchor="middle" fill="#000">LAP-1108</text>
<text x="1092" y="900.5" font-size="37.5" text-anchor="middle" fill="#000">LAP-0198</text>
<text x="908.5" y="971.4" font-size="37.5" text-anchor="start" fill="#000">-1.1</text>
<text y="794.6" font-weight="bold" fill="#000"><tspan x="119.6" font-size="45">LAH </tspan><tspan x="232.8" font-size="50">22-08-2017 / 29-08-2006</tspan></text>
<text y="794.6" font-size="45.2" fill="#000"><tspan x="1098.5" letter-spacing="1.8">Err. </tspan><tspan x="1194">4.6 %</tspan></text>
<text transform="translate(51.5 1078) rotate(-90)" font-size="45.5" text-anchor="middle" fill="#262626"><tspan fill="#000" stroke="#000" stroke-width="0.4">D</tspan>epth [m]</text>
<rect x="0" y="913" width="24.3" height="230" fill="#fff"/>
<rect x="60" y="913" width="5" height="230" fill="#fff"/>
<g clip-path="url(#c2)">
<rect x="155.6" y="1591.3" width="1364.7" height="374.1" fill="#dddecc"/>
<g shape-rendering="crispEdges">
<path fill="#fc8841" d="M794.4 1715.8h37.4v7.8h-37.4zM831.5 1723.2h15.2v7.8h-15.2z"/>
<path fill="#fa8e4a" d="M787 1715.8h7.8v7.8h-7.8zM831.5 1715.8h7.8v7.8h-7.8zM809.2 1723.2h22.6v7.8h-22.6zM846.3 1723.2h15.2v7.8h-15.2z"/>
<path fill="#f79455" d="M779.6 1708.4h22.6v7.8h-22.6zM838.9 1715.8h7.8v7.8h-7.8zM794.4 1723.2h15.2v7.8h-15.2zM861.1 1723.2h15.2v7.8h-15.2zM831.5 1730.6h37.4v7.8h-37.4z"/>
<path fill="#f59a5f" d="M772.2 1708.4h7.8v7.8h-7.8zM801.8 1708.4h7.8v7.8h-7.8zM779.6 1715.8h7.8v7.8h-7.8zM787 1723.2h7.8v7.8h-7.8zM875.9 1723.2h7.8v7.8h-7.8zM816.6 1730.6h15.2v7.8h-15.2zM868.5 1730.6h37.4v7.8h-37.4z"/>
<path fill="#f3a069" d="M764.8 1708.4h7.8v7.8h-7.8zM809.2 1708.4h7.8v7.8h-7.8zM772.2 1715.8h7.8v7.8h-7.8zM846.3 1715.8h7.8v7.8h-7.8zM779.6 1723.2h7.8v7.8h-7.8zM883.3 1723.2h7.8v7.8h-7.8zM801.8 1730.6h15.2v7.8h-15.2zM905.5 1730.6h7.8v7.8h-7.8zM883.3 1738h59.6v7.8h-59.6z"/>
<path fill="#f2a571" d="M757.4 1708.4h7.8v7.8h-7.8zM764.8 1715.8h7.8v7.8h-7.8zM853.7 1715.8h7.8v7.8h-7.8zM794.4 1730.6h7.8v7.8h-7.8zM912.9 1730.6h7.8v7.8h-7.8zM831.5 1738h52.2v7.8h-52.2zM912.9 1745.4h37.4v7.8h-37.4z"/>
<path fill="#f0aa79" d="M305.7 1656.6h15.2v7.8h-15.2zM750 1708.4h7.8v7.8h-7.8zM816.6 1708.4h7.8v7.8h-7.8zM750 1715.8h15.2v7.8h-15.2zM772.2 1723.2h7.8v7.8h-7.8zM890.7 1723.2h7.8v7.8h-7.8zM787 1730.6h7.8v7.8h-7.8zM920.3 1730.6h7.8v7.8h-7.8zM824.1 1738h7.8v7.8h-7.8zM942.5 1738h7.8v7.8h-7.8zM890.7 1745.4h22.6v7.8h-22.6zM949.9 1745.4h15.2v7.8h-15.2zM935.1 1752.8h15.2v7.8h-15.2z"/>
<path fill="#eeb184" d="M290.9 1656.6h15.2v7.8h-15.2zM320.5 1656.6h7.8v7.8h-7.8zM313.1 1664h22.6v7.8h-22.6zM764.8 1701h7.8v7.8h-7.8zM609.3 1708.4h59.6v7.8h-59.6zM735.2 1708.4h15.2v7.8h-15.2zM824.1 1708.4h7.8v7.8h-7.8zM624.1 1715.8h37.4v7.8h-37.4zM742.6 1715.8h7.8v7.8h-7.8zM861.1 1715.8h7.8v7.8h-7.8zM757.4 1723.2h15.2v7.8h-15.2zM779.6 1730.6h7.8v7.8h-7.8zM809.2 1738h15.2v7.8h-15.2zM868.5 1745.4h22.6v7.8h-22.6zM964.7 1745.4h7.8v7.8h-7.8zM920.3 1752.8h15.2v7.8h-15.2zM949.9 1752.8h15.2v7.8h-15.2zM1105.4 1782.4h7.8v7.8h-7.8zM1105.4 1789.8h7.8v7.8h-7.8zM1105.4 1797.2h7.8v7.8h-7.8z"/>
<path fill="#ecb88e" d="M276.1 1649.2h15.2v7.8h-15.2zM276.1 1656.6h15.2v7.8h-15.2zM290.9 1664h22.6v7.8h-22.6zM335.3 1664h30v7.8h-30zM320.5 1671.4h44.8v7.8h-44.8zM490.8 1686.2h37.4v7.8h-37.4zM498.2 1693.6h67v7.8h-67zM527.9 1701h89.3v7.8h-89.3zM750 1701h15.2v7.8h-15.2zM772.2 1701h15.2v7.8h-15.2zM550.1 1708.4h59.6v7.8h-59.6zM727.8 1708.4h7.8v7.8h-7.8zM579.7 1715.8h44.8v7.8h-44.8zM735.2 1715.8h7.8v7.8h-7.8zM616.7 1723.2h30v7.8h-30zM750 1723.2h7.8v7.8h-7.8zM898.1 1723.2h7.8v7.8h-7.8zM772.2 1730.6h7.8v7.8h-7.8zM927.7 1730.6h7.8v7.8h-7.8zM794.4 1738h15.2v7.8h-15.2zM949.9 1738h7.8v7.8h-7.8zM838.9 1745.4h30v7.8h-30zM905.5 1752.8h15.2v7.8h-15.2zM964.7 1752.8h7.8v7.8h-7.8zM1098 1782.4h7.8v7.8h-7.8zM1098 1789.8h7.8v7.8h-7.8zM1112.8 1789.8h7.8v7.8h-7.8zM1112.8 1797.2h7.8v7.8h-7.8z"/>
<path fill="#e9be99" d="M202 1641.8h37.4v7.8h-37.4zM216.8 1649.2h59.6v7.8h-59.6zM298.3 1649.2h30v7.8h-30zM246.5 1656.6h30v7.8h-30zM268.7 1664h22.6v7.8h-22.6zM298.3 1671.4h22.6v7.8h-22.6zM364.9 1671.4h52.2v7.8h-52.2zM327.9 1678.8h148.5v7.8h-148.5zM387.2 1686.2h104.1v7.8h-104.1zM424.2 1693.6h74.5v7.8h-74.5zM468.6 1701h59.6v7.8h-59.6zM735.2 1701h15.2v7.8h-15.2zM787 1701h7.8v7.8h-7.8zM513 1708.4h37.4v7.8h-37.4zM831.5 1708.4h7.8v7.8h-7.8zM550.1 1715.8h30v7.8h-30zM727.8 1715.8h7.8v7.8h-7.8zM868.5 1715.8h7.8v7.8h-7.8zM587.1 1723.2h30v7.8h-30zM742.6 1723.2h7.8v7.8h-7.8zM764.8 1730.6h7.8v7.8h-7.8zM787 1738h7.8v7.8h-7.8zM824.1 1745.4h15.2v7.8h-15.2zM972.2 1745.4h7.8v7.8h-7.8zM890.7 1752.8h15.2v7.8h-15.2zM972.2 1752.8h7.8v7.8h-7.8zM927.7 1760.2h44.8v7.8h-44.8zM1105.4 1775h7.8v7.8h-7.8zM1068.4 1782.4h22.6v7.8h-22.6zM1112.8 1782.4h7.8v7.8h-7.8zM1068.4 1789.8h22.6v7.8h-22.6zM1120.2 1789.8h7.8v7.8h-7.8zM1246.1 1789.8h44.8v7.8h-44.8zM1098 1797.2h7.8v7.8h-7.8zM1120.2 1797.2h7.8v7.8h-7.8zM1253.5 1797.2h37.4v7.8h-37.4zM1105.4 1804.6h7.8v7.8h-7.8z"/>
<path fill="#e6c4a3" d="M157.6 1634.4h30v7.8h-30zM157.6 1641.8h44.8v7.8h-44.8zM298.3 1641.8h30v7.8h-30zM157.6 1649.2h59.6v7.8h-59.6zM290.9 1649.2h7.8v7.8h-7.8zM327.9 1649.2h7.8v7.8h-7.8zM194.6 1656.6h52.2v7.8h-52.2zM327.9 1656.6h15.2v7.8h-15.2zM239.1 1664h30v7.8h-30zM276.1 1671.4h22.6v7.8h-22.6zM305.7 1678.8h22.6v7.8h-22.6zM335.3 1686.2h52.2v7.8h-52.2zM387.2 1693.6h37.4v7.8h-37.4zM431.6 1701h37.4v7.8h-37.4zM616.7 1701h30v7.8h-30zM727.8 1701h7.8v7.8h-7.8zM794.4 1701h7.8v7.8h-7.8zM476 1708.4h37.4v7.8h-37.4zM668.5 1708.4h7.8v7.8h-7.8zM838.9 1708.4h7.8v7.8h-7.8zM527.9 1715.8h22.6v7.8h-22.6zM661.1 1715.8h15.2v7.8h-15.2zM875.9 1715.8h7.8v7.8h-7.8zM564.9 1723.2h22.6v7.8h-22.6zM653.7 1723.2h22.6v7.8h-22.6zM735.2 1723.2h7.8v7.8h-7.8zM905.5 1723.2h7.8v7.8h-7.8zM601.9 1730.6h30v7.8h-30zM750 1730.6h15.2v7.8h-15.2zM935.1 1730.6h7.8v7.8h-7.8zM779.6 1738h7.8v7.8h-7.8zM957.3 1738h7.8v7.8h-7.8zM809.2 1745.4h15.2v7.8h-15.2zM861.1 1752.8h30v7.8h-30zM912.9 1760.2h15.2v7.8h-15.2zM972.2 1760.2h7.8v7.8h-7.8zM1075.8 1775h15.2v7.8h-15.2zM1098 1775h7.8v7.8h-7.8zM1112.8 1775h7.8v7.8h-7.8zM1090.6 1782.4h7.8v7.8h-7.8zM1120.2 1782.4h15.2v7.8h-15.2zM1253.5 1782.4h30v7.8h-30zM1090.6 1789.8h7.8v7.8h-7.8zM1127.7 1789.8h118.9v7.8h-118.9zM1290.6 1789.8h15.2v7.8h-15.2zM1068.4 1797.2h22.6v7.8h-22.6zM1127.7 1797.2h126.3v7.8h-126.3zM1290.6 1797.2h15.2v7.8h-15.2zM1112.8 1804.6h15.2v7.8h-15.2zM1164.7 1804.6h148.5v7.8h-148.5zM1253.5 1812h59.6v7.8h-59.6zM1512.7 1819.4h7.8v7.8h-7.8zM1505.3 1826.8h15.2v7.8h-15.2zM1505.3 1834.2h15.2v7.8h-15.2zM1512.7 1841.6h7.8v7.8h-7.8z"/>
<path fill="#e4caac" d="M276.1 1641.8h22.6v7.8h-22.6zM327.9 1641.8h7.8v7.8h-7.8zM335.3 1649.2h7.8v7.8h-7.8zM157.6 1656.6h37.4v7.8h-37.4zM342.7 1656.6h15.2v7.8h-15.2zM194.6 1664h44.8v7.8h-44.8zM246.5 1671.4h30v7.8h-30zM283.5 1678.8h22.6v7.8h-22.6zM320.5 1686.2h15.2v7.8h-15.2zM527.9 1686.2h22.6v7.8h-22.6zM342.7 1693.6h44.8v7.8h-44.8zM564.9 1693.6h81.9v7.8h-81.9zM394.6 1701h37.4v7.8h-37.4zM646.3 1701h30v7.8h-30zM720.4 1701h7.8v7.8h-7.8zM439 1708.4h37.4v7.8h-37.4zM720.4 1708.4h7.8v7.8h-7.8zM490.8 1715.8h37.4v7.8h-37.4zM720.4 1715.8h7.8v7.8h-7.8zM535.3 1723.2h30v7.8h-30zM646.3 1723.2h7.8v7.8h-7.8zM727.8 1723.2h7.8v7.8h-7.8zM572.3 1730.6h30v7.8h-30zM661.1 1730.6h15.2v7.8h-15.2zM742.6 1730.6h7.8v7.8h-7.8zM772.2 1738h7.8v7.8h-7.8zM964.7 1738h7.8v7.8h-7.8zM794.4 1745.4h15.2v7.8h-15.2zM838.9 1752.8h22.6v7.8h-22.6zM898.1 1760.2h15.2v7.8h-15.2zM935.1 1767.6h44.8v7.8h-44.8zM1068.4 1775h7.8v7.8h-7.8zM1090.6 1775h7.8v7.8h-7.8zM1120.2 1775h7.8v7.8h-7.8zM1061 1782.4h7.8v7.8h-7.8zM1135.1 1782.4h118.9v7.8h-118.9zM1283.2 1782.4h15.2v7.8h-15.2zM1061 1789.8h7.8v7.8h-7.8zM1305.4 1789.8h7.8v7.8h-7.8zM1090.6 1797.2h7.8v7.8h-7.8zM1305.4 1797.2h22.6v7.8h-22.6zM1098 1804.6h7.8v7.8h-7.8zM1127.7 1804.6h37.4v7.8h-37.4zM1312.8 1804.6h59.6v7.8h-59.6zM1186.9 1812h67v7.8h-67zM1312.8 1812h118.9v7.8h-118.9zM1490.5 1812h30v7.8h-30zM1268.3 1819.4h244.8v7.8h-244.8zM1386.8 1826.8h118.9v7.8h-118.9zM1460.9 1834.2h44.8v7.8h-44.8zM1483.1 1841.6h30v7.8h-30zM1497.9 1849h22.6v7.8h-22.6z"/>
<path fill="#e2cfb4" d="M194.6 1634.4h126.3v7.8h-126.3zM239.1 1641.8h37.4v7.8h-37.4zM335.3 1641.8h7.8v7.8h-7.8zM342.7 1649.2h15.2v7.8h-15.2zM357.5 1656.6h22.6v7.8h-22.6zM157.6 1664h37.4v7.8h-37.4zM364.9 1664h59.6v7.8h-59.6zM194.6 1671.4h52.2v7.8h-52.2zM416.8 1671.4h74.5v7.8h-74.5zM246.5 1678.8h37.4v7.8h-37.4zM476 1678.8h74.5v7.8h-74.5zM290.9 1686.2h30v7.8h-30zM550.1 1686.2h67v7.8h-67zM327.9 1693.6h15.2v7.8h-15.2zM646.3 1693.6h22.6v7.8h-22.6zM350.1 1701h44.8v7.8h-44.8zM801.8 1701h7.8v7.8h-7.8zM402 1708.4h37.4v7.8h-37.4zM846.3 1708.4h7.8v7.8h-7.8zM439 1715.8h52.2v7.8h-52.2zM883.3 1715.8h7.8v7.8h-7.8zM498.2 1723.2h37.4v7.8h-37.4zM720.4 1723.2h7.8v7.8h-7.8zM912.9 1723.2h7.8v7.8h-7.8zM542.7 1730.6h30v7.8h-30zM631.5 1730.6h30v7.8h-30zM727.8 1730.6h15.2v7.8h-15.2zM942.5 1730.6h7.8v7.8h-7.8zM579.7 1738h30v7.8h-30zM668.5 1738h7.8v7.8h-7.8zM757.4 1738h15.2v7.8h-15.2zM972.2 1738h7.8v7.8h-7.8zM787 1745.4h7.8v7.8h-7.8zM979.6 1745.4h7.8v7.8h-7.8zM824.1 1752.8h15.2v7.8h-15.2zM979.6 1752.8h7.8v7.8h-7.8zM875.9 1760.2h22.6v7.8h-22.6zM912.9 1767.6h22.6v7.8h-22.6zM1068.4 1767.6h52.2v7.8h-52.2zM1061 1775h7.8v7.8h-7.8zM1127.7 1775h59.6v7.8h-59.6zM1298 1782.4h7.8v7.8h-7.8zM1312.8 1789.8h15.2v7.8h-15.2zM1061 1797.2h7.8v7.8h-7.8zM1327.6 1797.2h67v7.8h-67zM1068.4 1804.6h30v7.8h-30zM1372 1804.6h148.5v7.8h-148.5zM1105.4 1812h81.9v7.8h-81.9zM1431.3 1812h59.6v7.8h-59.6zM1223.9 1819.4h44.8v7.8h-44.8zM1283.2 1826.8h104.1v7.8h-104.1zM1364.6 1834.2h96.7v7.8h-96.7zM1416.5 1841.6h67v7.8h-67zM1468.3 1849h30v7.8h-30zM1497.9 1856.4h22.6v7.8h-22.6z"/>
<path fill="#e1d4bc" d="M157.6 1619.6h15.2v7.8h-15.2zM157.6 1627h118.9v7.8h-118.9zM187.2 1634.4h7.8v7.8h-7.8zM320.5 1634.4h15.2v7.8h-15.2zM342.7 1641.8h7.8v7.8h-7.8zM357.5 1649.2h22.6v7.8h-22.6zM379.8 1656.6h44.8v7.8h-44.8zM424.2 1664h52.2v7.8h-52.2zM157.6 1671.4h37.4v7.8h-37.4zM490.8 1671.4h44.8v7.8h-44.8zM157.6 1678.8h89.3v7.8h-89.3zM550.1 1678.8h37.4v7.8h-37.4zM194.6 1686.2h96.7v7.8h-96.7zM616.7 1686.2h37.4v7.8h-37.4zM246.5 1693.6h81.9v7.8h-81.9zM668.5 1693.6h7.8v7.8h-7.8zM298.3 1701h52.2v7.8h-52.2zM809.2 1701h7.8v7.8h-7.8zM327.9 1708.4h74.5v7.8h-74.5zM676 1708.4h7.8v7.8h-7.8zM853.7 1708.4h7.8v7.8h-7.8zM357.5 1715.8h81.9v7.8h-81.9zM676 1715.8h7.8v7.8h-7.8zM890.7 1715.8h7.8v7.8h-7.8zM402 1723.2h96.7v7.8h-96.7zM676 1723.2h7.8v7.8h-7.8zM920.3 1723.2h7.8v7.8h-7.8zM446.4 1730.6h96.7v7.8h-96.7zM676 1730.6h7.8v7.8h-7.8zM720.4 1730.6h7.8v7.8h-7.8zM949.9 1730.6h7.8v7.8h-7.8zM498.2 1738h81.9v7.8h-81.9zM646.3 1738h22.6v7.8h-22.6zM735.2 1738h22.6v7.8h-22.6zM542.7 1745.4h52.2v7.8h-52.2zM772.2 1745.4h15.2v7.8h-15.2zM801.8 1752.8h22.6v7.8h-22.6zM846.3 1760.2h30v7.8h-30zM979.6 1760.2h7.8v7.8h-7.8zM898.1 1767.6h15.2v7.8h-15.2zM1061 1767.6h7.8v7.8h-7.8zM1120.2 1767.6h7.8v7.8h-7.8zM935.1 1775h44.8v7.8h-44.8zM1053.6 1775h7.8v7.8h-7.8zM1186.9 1775h104.1v7.8h-104.1zM1053.6 1782.4h7.8v7.8h-7.8zM1305.4 1782.4h22.6v7.8h-22.6zM1053.6 1789.8h7.8v7.8h-7.8zM1327.6 1789.8h67v7.8h-67zM1053.6 1797.2h7.8v7.8h-7.8zM1394.2 1797.2h126.3v7.8h-126.3zM1061 1804.6h7.8v7.8h-7.8zM1098 1812h7.8v7.8h-7.8zM1164.7 1819.4h59.6v7.8h-59.6zM1253.5 1826.8h30v7.8h-30zM1312.8 1834.2h52.2v7.8h-52.2zM1364.6 1841.6h52.2v7.8h-52.2zM1416.5 1849h52.2v7.8h-52.2zM1460.9 1856.4h37.4v7.8h-37.4zM1497.9 1863.8h22.6v7.8h-22.6z"/>
<path fill="#dfdac5" d="M157.6 1612.2h22.6v7.8h-22.6zM172.4 1619.6h81.9v7.8h-81.9zM276.1 1627h44.8v7.8h-44.8zM335.3 1634.4h7.8v7.8h-7.8zM350.1 1641.8h22.6v7.8h-22.6zM379.8 1649.2h30v7.8h-30zM424.2 1656.6h37.4v7.8h-37.4zM476 1664h52.2v7.8h-52.2zM535.3 1671.4h30v7.8h-30zM587.1 1678.8h44.8v7.8h-44.8zM157.6 1686.2h37.4v7.8h-37.4zM653.7 1686.2h22.6v7.8h-22.6zM157.6 1693.6h89.3v7.8h-89.3zM727.8 1693.6h52.2v7.8h-52.2zM165 1701h133.7v7.8h-133.7zM676 1701h7.8v7.8h-7.8zM816.6 1701h15.2v7.8h-15.2zM179.8 1708.4h148.5v7.8h-148.5zM861.1 1708.4h7.8v7.8h-7.8zM194.6 1715.8h163.3v7.8h-163.3zM898.1 1715.8h7.8v7.8h-7.8zM209.4 1723.2h192.9v7.8h-192.9zM927.7 1723.2h7.8v7.8h-7.8zM224.2 1730.6h222.6v7.8h-222.6zM957.3 1730.6h7.8v7.8h-7.8zM231.6 1738h267v7.8h-267zM616.7 1738h30v7.8h-30zM676 1738h7.8v7.8h-7.8zM720.4 1738h15.2v7.8h-15.2zM979.6 1738h7.8v7.8h-7.8zM246.5 1745.4h296.6v7.8h-296.6zM668.5 1745.4h7.8v7.8h-7.8zM742.6 1745.4h30v7.8h-30zM253.9 1752.8h326.2v7.8h-326.2zM779.6 1752.8h22.6v7.8h-22.6zM261.3 1760.2h304v7.8h-304zM816.6 1760.2h30v7.8h-30zM268.7 1767.6h281.8v7.8h-281.8zM868.5 1767.6h30v7.8h-30zM979.6 1767.6h7.8v7.8h-7.8zM1053.6 1767.6h7.8v7.8h-7.8zM1127.7 1767.6h111.5v7.8h-111.5zM276.1 1775h267v7.8h-267zM912.9 1775h22.6v7.8h-22.6zM979.6 1775h7.8v7.8h-7.8zM1046.2 1775h7.8v7.8h-7.8zM1290.6 1775h22.6v7.8h-22.6zM283.5 1782.4h244.8v7.8h-244.8zM949.9 1782.4h15.2v7.8h-15.2zM1046.2 1782.4h7.8v7.8h-7.8zM1327.6 1782.4h67v7.8h-67zM290.9 1789.8h222.6v7.8h-222.6zM1046.2 1789.8h7.8v7.8h-7.8zM1394.2 1789.8h126.3v7.8h-126.3zM298.3 1797.2h200.3v7.8h-200.3zM1046.2 1797.2h7.8v7.8h-7.8zM305.7 1804.6h178.1v7.8h-178.1zM1053.6 1804.6h7.8v7.8h-7.8zM313.1 1812h163.3v7.8h-163.3zM1061 1812h37.4v7.8h-37.4zM320.5 1819.4h141.1v7.8h-141.1zM1098 1819.4h67v7.8h-67zM327.9 1826.8h126.3v7.8h-126.3zM1201.7 1826.8h52.2v7.8h-52.2zM327.9 1834.2h126.3v7.8h-126.3zM1275.8 1834.2h37.4v7.8h-37.4zM327.9 1841.6h111.5v7.8h-111.5zM1327.6 1841.6h37.4v7.8h-37.4zM327.9 1849h104.1v7.8h-104.1zM1372 1849h44.8v7.8h-44.8zM327.9 1856.4h104.1v7.8h-104.1zM1416.5 1856.4h44.8v7.8h-44.8zM327.9 1863.8h104.1v7.8h-104.1zM1460.9 1863.8h37.4v7.8h-37.4zM335.3 1871.2h96.7v7.8h-96.7zM1490.5 1871.2h30v7.8h-30zM335.3 1878.6h96.7v7.8h-96.7zM342.7 1886h89.3v7.8h-89.3zM342.7 1893.4h89.3v7.8h-89.3zM342.7 1900.8h81.9v7.8h-81.9zM342.7 1908.2h81.9v7.8h-81.9zM342.7 1915.6h81.9v7.8h-81.9zM342.7 1923h81.9v7.8h-81.9zM342.7 1930.4h81.9v7.8h-81.9zM342.7 1937.8h81.9v7.8h-81.9zM342.7 1945.2h81.9v7.8h-81.9zM342.7 1952.6h81.9v7.8h-81.9zM342.7 1960h81.9v7.8h-81.9z"/>
<path fill="#d7dbcf" d="M987 1789.8h22.6v7.8h-22.6zM935.1 1797.2h74.5v7.8h-74.5zM920.3 1804.6h89.3v7.8h-89.3zM905.5 1812h89.3v7.8h-89.3zM890.7 1819.4h104.1v7.8h-104.1zM875.9 1826.8h118.9v7.8h-118.9zM868.5 1834.2h118.9v7.8h-118.9zM853.7 1841.6h133.7v7.8h-133.7zM838.9 1849h148.5v7.8h-148.5zM772.2 1856.4h215.1v7.8h-215.1zM772.2 1863.8h207.7v7.8h-207.7zM772.2 1871.2h207.7v7.8h-207.7zM772.2 1878.6h207.7v7.8h-207.7zM772.2 1886h207.7v7.8h-207.7zM772.2 1893.4h200.3v7.8h-200.3zM772.2 1900.8h200.3v7.8h-200.3zM772.2 1908.2h200.3v7.8h-200.3zM772.2 1915.6h200.3v7.8h-200.3zM772.2 1923h192.9v7.8h-192.9zM772.2 1930.4h192.9v7.8h-192.9zM772.2 1937.8h192.9v7.8h-192.9zM772.2 1945.2h192.9v7.8h-192.9zM772.2 1952.6h185.5v7.8h-185.5zM772.2 1960h185.5v7.8h-185.5z"/>
</g>
<rect x="171" y="1590" width="15" height="29" fill="#dfdac5"/>
<rect x="215.8" y="1595" width="26.9" height="33" fill="#cdd5d2"/>
<rect x="272.6" y="1600" width="29.4" height="35" fill="#c4cfd5"/>
<rect x="302" y="1605" width="30.3" height="26" fill="#bdcbd7"/>
<rect x="317" y="1631" width="15.3" height="7" fill="#c4cfd5"/>
<rect x="332.3" y="1615" width="14.7" height="34" fill="#e2cfb4"/>
<rect x="434" y="1630" width="15" height="29" fill="#cdd5d2"/>
<rect x="507" y="1640" width="30" height="24" fill="#c4cfd5"/>
<rect x="522" y="1664" width="15" height="7" fill="#b5c7da"/>
<rect x="552" y="1650" width="13.5" height="18" fill="#cdd5d2"/>
<rect x="595" y="1655" width="15" height="21" fill="#cdd5d2"/>
<rect x="562.5" y="1678.6" width="20.9" height="6" fill="#adc2dc"/>
<rect x="682" y="1673" width="16.5" height="12" fill="#8caee7"/>
<rect x="682" y="1685" width="16.5" height="12" fill="#a5bede"/>
<rect x="698.5" y="1677" width="14.5" height="23" fill="#dfdac5"/>
<rect x="741.8" y="1675" width="14.9" height="24.6" fill="#b5c7da"/>
<rect x="756.7" y="1675" width="15" height="20" fill="#c4cfd5"/>
<rect x="798.6" y="1680" width="29.9" height="21" fill="#a5bede"/>
<rect x="843" y="1690" width="15" height="15" fill="#c4cfd5"/>
<rect x="858" y="1692" width="15" height="24" fill="#c4cfd5"/>
<rect x="873" y="1695" width="15" height="27" fill="#b5c7da"/>
<rect x="903" y="1700" width="14" height="24" fill="#d7dbcf"/>
<rect x="917" y="1703" width="30" height="19" fill="#adc2dc"/>
<rect x="917" y="1722" width="30" height="8" fill="#c4cfd5"/>
<rect x="962" y="1715" width="15" height="18" fill="#d7dbcf"/>
<rect x="992" y="1718" width="15" height="27" fill="#cdd5d2"/>
<rect x="1015" y="1722" width="15" height="46" fill="#cdd5d2"/>
<rect x="1030" y="1726" width="30" height="15" fill="#c4cfd5"/>
<rect x="1030" y="1741" width="30" height="19" fill="#9db9e1"/>
<rect x="1045" y="1760" width="15" height="8" fill="#c4cfd5"/>
<rect x="1060" y="1735" width="15" height="18" fill="#cdd5d2"/>
<rect x="1090" y="1738" width="15" height="27.5" fill="#bdcbd7"/>
<rect x="1105" y="1742" width="15" height="28" fill="#cdd5d2"/>
<rect x="1060" y="1753.6" width="27" height="17.9" fill="#f2a571"/>
<rect x="1060" y="1748" width="15" height="5.6" fill="#e6c4a3"/>
<rect x="1148.3" y="1745" width="15" height="20.5" fill="#c4cfd5"/>
<rect x="1178" y="1750" width="28.6" height="15.5" fill="#e6c4a3"/>
<rect x="1176.7" y="1773" width="26.9" height="9" fill="#adc2dc"/>
<rect x="1236.5" y="1758" width="14.9" height="22.5" fill="#c4cfd5"/>
<rect x="1266.4" y="1760" width="29.9" height="13" fill="#c4cfd5"/>
<rect x="1324.7" y="1760" width="29.3" height="23.5" fill="#c4cfd5"/>
<rect x="1354" y="1760" width="43.9" height="23.5" fill="#c4cfd5"/>
<rect x="1397.9" y="1760" width="15.1" height="15" fill="#d7dbcf"/>
<rect x="1457.7" y="1765" width="14.9" height="23" fill="#bdcbd7"/>
<rect x="1457.7" y="1788" width="14.9" height="9" fill="#cdd5d2"/>
<rect x="1502.5" y="1765" width="17.5" height="33.4" fill="#e9be99"/>
</g>
<path d="M157.6 1593.3L157.6 1963.4L1519.2 1963.4M157.6 1963.4v14M305.5 1963.4v14M453.5 1963.4v14M601.5 1963.4v14M749.4 1963.4v14M897.4 1963.4v14M1045.3 1963.4v14M1193.2 1963.4v14M1341.2 1963.4v14M1489.1 1963.4v14M157.6 1593.3h-14M157.6 1667.4h-14M157.6 1741.4h-14M157.6 1815.4h-14M157.6 1889.4h-14M157.6 1963.4h-14" stroke="#262626" stroke-width="2.1" fill="none" stroke-linecap="butt"/>
<text x="157.6" y="2031.4" font-size="37.5" text-anchor="middle" fill="#262626">0</text>
<text x="305.5" y="2031.4" font-size="37.5" text-anchor="middle" fill="#262626">10</text>
<text x="453.5" y="2031.4" font-size="37.5" text-anchor="middle" fill="#262626">20</text>
<text x="601.5" y="2031.4" font-size="37.5" text-anchor="middle" fill="#262626">30</text>
<text x="749.4" y="2031.4" font-size="37.5" text-anchor="middle" fill="#262626">40</text>
<text x="897.4" y="2031.4" font-size="37.5" text-anchor="middle" fill="#262626">50</text>
<text x="1045.3" y="2031.4" font-size="37.5" text-anchor="middle" fill="#262626">60</text>
<text x="1193.2" y="2031.4" font-size="37.5" text-anchor="middle" fill="#262626">70</text>
<text x="1341.2" y="2031.4" font-size="37.5" text-anchor="middle" fill="#262626">80</text>
<text x="1489.1" y="2031.4" font-size="37.5" text-anchor="middle" fill="#262626">90</text>
<text x="127.6" y="1608.8" font-size="37.5" text-anchor="end" fill="#262626">0</text>
<text x="127.6" y="1682.9" font-size="37.5" text-anchor="end" fill="#262626">-5</text>
<text x="127.6" y="1756.9" font-size="37.5" text-anchor="end" fill="#262626">-10</text>
<text x="127.6" y="1830.9" font-size="37.5" text-anchor="end" fill="#262626">-15</text>
<text x="127.6" y="1904.9" font-size="37.5" text-anchor="end" fill="#262626">-20</text>
<text x="127.6" y="1978.9" font-size="37.5" text-anchor="end" fill="#262626">-25</text>
<path d="M660.7 1668.8L660.7 1963.4" stroke="#000" stroke-width="3.4" fill="none"/>
<path d="M631.2 1683.5L690.2 1683.5" stroke="#fff" stroke-width="3.2" fill="none"/>
<path d="M631.2 1692.4L690.2 1692.4" stroke="#000" stroke-width="3.2" fill="none"/>
<path d="M1104.5 1741.5L1104.5 1963.4" stroke="#000" stroke-width="3.4" fill="none"/>
<path d="M1075 1773.2L1134 1773.2" stroke="#fff" stroke-width="3.2" fill="none"/>
<path d="M1075 1783.9L1134 1783.9" stroke="#000" stroke-width="3.2" fill="none"/>
<text x="723.5" y="1653" font-size="37.5" text-anchor="middle" fill="#000">CER-BH07</text>
<text x="1122.5" y="1726.8" font-size="37.5" text-anchor="middle" fill="#000">CER-BH41</text>
<text x="526.5" y="1705.4" font-size="37.5" text-anchor="start" fill="#000">-0.6</text>
<text x="969.5" y="1792.9" font-size="37.5" text-anchor="start" fill="#000">-0.7</text>
<text x="824.8" y="2092.9" font-size="45.5" text-anchor="middle" fill="#262626">Distance [m]</text>
<text y="1538" font-weight="bold" fill="#000"><tspan x="129" font-size="45">CER </tspan><tspan x="252.9" font-size="50">24-08-2017 / 16-08-2013</tspan></text>
<text y="1538" font-size="45.2" fill="#000"><tspan x="1108.7" letter-spacing="1.8">Err. </tspan><tspan x="1200">2.6 %</tspan></text>
<text transform="translate(51.5 1783.7) rotate(-90)" font-size="45.5" text-anchor="middle" fill="#262626"><tspan fill="#000" stroke="#000" stroke-width="0.4">D</tspan>epth [m]</text>
<rect x="0" y="1619" width="24.3" height="230" fill="#fff"/>
<rect x="60" y="1619" width="5" height="230" fill="#fff"/>
<g clip-path="url(#c3)">
<rect x="1816.2" y="136.2" width="1189.5" height="426.8" fill="#dddecc"/>
<g transform="translate(2100 150) rotate(10)" shape-rendering="crispEdges">
<path fill="#ff8237" d="M146.7 40.4h15.5v7.9h-15.5zM146.7 47.9h15.5v7.9h-15.5zM-215.2 63h15.5v7.9h-15.5zM-215.2 70.5h15.5v7.9h-15.5z"/>
<path fill="#fc8841" d="M146.7 32.8h15.5v7.9h-15.5zM139.1 40.4h7.9v7.9h-7.9zM124.1 47.9h23v7.9h-23zM-207.7 55.4h7.9v7.9h-7.9zM-200.2 63h7.9v7.9h-7.9z"/>
<path fill="#fa8e4a" d="M124.1 32.8h23v7.9h-23zM124.1 40.4h15.5v7.9h-15.5zM161.8 40.4h7.9v7.9h-7.9zM161.8 47.9h7.9v7.9h-7.9zM-215.2 55.4h7.9v7.9h-7.9zM-200.2 55.4h7.9v7.9h-7.9zM131.6 55.4h23v7.9h-23zM-222.8 63h7.9v7.9h-7.9zM-222.8 70.5h7.9v7.9h-7.9zM-200.2 70.5h7.9v7.9h-7.9zM-215.2 78.1h15.5v7.9h-15.5z"/>
<path fill="#f79455" d="M161.8 32.8h7.9v7.9h-7.9zM116.5 40.4h7.9v7.9h-7.9zM116.5 47.9h7.9v7.9h-7.9zM124.1 55.4h7.9v7.9h-7.9zM154.2 55.4h7.9v7.9h-7.9zM380.4 63h7.9v7.9h-7.9zM380.4 70.5h23v7.9h-23zM-200.2 78.1h7.9v7.9h-7.9zM388 78.1h23v7.9h-23z"/>
<path fill="#f59a5f" d="M-222.8 55.4h7.9v7.9h-7.9zM-192.6 55.4h7.9v7.9h-7.9zM161.8 55.4h7.9v7.9h-7.9zM372.9 55.4h23v7.9h-23zM-230.3 63h7.9v7.9h-7.9zM-192.6 63h7.9v7.9h-7.9zM372.9 63h7.9v7.9h-7.9zM388 63h23v7.9h-23zM-230.3 70.5h7.9v7.9h-7.9zM-192.6 70.5h7.9v7.9h-7.9zM372.9 70.5h7.9v7.9h-7.9zM403 70.5h7.9v7.9h-7.9zM-222.8 78.1h7.9v7.9h-7.9zM380.4 78.1h7.9v7.9h-7.9zM410.6 78.1h7.9v7.9h-7.9zM-207.7 85.6h7.9v7.9h-7.9zM388 85.6h30.6v7.9h-30.6z"/>
<path fill="#f3a069" d="M3.4 32.8h7.9v7.9h-7.9zM116.5 32.8h7.9v7.9h-7.9zM169.3 40.4h7.9v7.9h-7.9zM-147.4 47.9h15.5v7.9h-15.5zM169.3 47.9h7.9v7.9h-7.9zM365.3 47.9h38.1v7.9h-38.1zM116.5 55.4h7.9v7.9h-7.9zM365.3 55.4h7.9v7.9h-7.9zM395.5 55.4h15.5v7.9h-15.5zM365.3 63h7.9v7.9h-7.9zM410.6 63h7.9v7.9h-7.9zM365.3 70.5h7.9v7.9h-7.9zM410.6 70.5h15.5v7.9h-15.5zM372.9 78.1h7.9v7.9h-7.9zM418.1 78.1h15.5v7.9h-15.5zM-215.2 85.6h7.9v7.9h-7.9zM380.4 85.6h7.9v7.9h-7.9zM418.1 85.6h7.9v7.9h-7.9zM395.5 93.1h15.5v7.9h-15.5z"/>
<path fill="#f2a571" d="M-4.1 32.8h7.9v7.9h-7.9zM11 32.8h7.9v7.9h-7.9zM169.3 32.8h7.9v7.9h-7.9zM109 40.4h7.9v7.9h-7.9zM365.3 40.4h38.1v7.9h-38.1zM-154.9 47.9h7.9v7.9h-7.9zM-132.3 47.9h7.9v7.9h-7.9zM109 47.9h7.9v7.9h-7.9zM357.8 47.9h7.9v7.9h-7.9zM403 47.9h15.5v7.9h-15.5zM-230.3 55.4h7.9v7.9h-7.9zM-185.1 55.4h7.9v7.9h-7.9zM-147.4 55.4h15.5v7.9h-15.5zM169.3 55.4h7.9v7.9h-7.9zM357.8 55.4h7.9v7.9h-7.9zM410.6 55.4h15.5v7.9h-15.5zM-245.4 63h15.5v7.9h-15.5zM-185.1 63h7.9v7.9h-7.9zM131.6 63h30.6v7.9h-30.6zM357.8 63h7.9v7.9h-7.9zM418.1 63h15.5v7.9h-15.5zM-237.9 70.5h7.9v7.9h-7.9zM357.8 70.5h7.9v7.9h-7.9zM425.7 70.5h7.9v7.9h-7.9zM-230.3 78.1h7.9v7.9h-7.9zM-192.6 78.1h7.9v7.9h-7.9zM365.3 78.1h7.9v7.9h-7.9zM433.2 78.1h7.9v7.9h-7.9zM-222.8 85.6h7.9v7.9h-7.9zM-200.2 85.6h7.9v7.9h-7.9zM372.9 85.6h7.9v7.9h-7.9zM425.7 85.6h15.5v7.9h-15.5zM380.4 93.1h15.5v7.9h-15.5zM410.6 93.1h15.5v7.9h-15.5zM486 93.1h23v7.9h-23zM486 100.7h23v7.9h-23z"/>
<path fill="#f0aa79" d="M-11.7 32.8h7.9v7.9h-7.9zM365.3 32.8h30.6v7.9h-30.6zM-147.4 40.4h23v7.9h-23zM-11.7 40.4h30.6v7.9h-30.6zM357.8 40.4h7.9v7.9h-7.9zM403 40.4h7.9v7.9h-7.9zM-207.7 47.9h15.5v7.9h-15.5zM-162.5 47.9h7.9v7.9h-7.9zM350.3 47.9h7.9v7.9h-7.9zM-177.5 55.4h30.6v7.9h-30.6zM-132.3 55.4h7.9v7.9h-7.9zM350.3 55.4h7.9v7.9h-7.9zM-252.9 63h7.9v7.9h-7.9zM-177.5 63h7.9v7.9h-7.9zM-147.4 63h15.5v7.9h-15.5zM124.1 63h7.9v7.9h-7.9zM161.8 63h7.9v7.9h-7.9zM350.3 63h7.9v7.9h-7.9zM-283.1 70.5h45.6v7.9h-45.6zM-185.1 70.5h7.9v7.9h-7.9zM433.2 70.5h7.9v7.9h-7.9zM-283.1 78.1h15.5v7.9h-15.5zM-245.4 78.1h15.5v7.9h-15.5zM357.8 78.1h7.9v7.9h-7.9zM440.7 78.1h7.9v7.9h-7.9zM-230.3 85.6h7.9v7.9h-7.9zM365.3 85.6h7.9v7.9h-7.9zM440.7 85.6h15.5v7.9h-15.5zM486 85.6h23v7.9h-23zM372.9 93.1h7.9v7.9h-7.9zM425.7 93.1h23v7.9h-23zM470.9 93.1h15.5v7.9h-15.5zM508.6 93.1h7.9v7.9h-7.9zM388 100.7h38.1v7.9h-38.1zM470.9 100.7h15.5v7.9h-15.5zM508.6 100.7h7.9v7.9h-7.9zM486 108.2h23v7.9h-23z"/>
<path fill="#eeb184" d="M169.3 25.3h7.9v7.9h-7.9zM-19.2 32.8h7.9v7.9h-7.9zM18.5 32.8h7.9v7.9h-7.9zM176.8 32.8h7.9v7.9h-7.9zM357.8 32.8h7.9v7.9h-7.9zM395.5 32.8h7.9v7.9h-7.9zM-124.8 40.4h7.9v7.9h-7.9zM-19.2 40.4h7.9v7.9h-7.9zM18.5 40.4h7.9v7.9h-7.9zM176.8 40.4h7.9v7.9h-7.9zM350.3 40.4h7.9v7.9h-7.9zM410.6 40.4h7.9v7.9h-7.9zM-215.2 47.9h7.9v7.9h-7.9zM-192.6 47.9h30.6v7.9h-30.6zM-124.8 47.9h7.9v7.9h-7.9zM3.4 47.9h7.9v7.9h-7.9zM176.8 47.9h7.9v7.9h-7.9zM418.1 47.9h7.9v7.9h-7.9zM-237.9 55.4h7.9v7.9h-7.9zM-124.8 55.4h7.9v7.9h-7.9zM109 55.4h7.9v7.9h-7.9zM176.8 55.4h7.9v7.9h-7.9zM425.7 55.4h7.9v7.9h-7.9zM-268 63h15.5v7.9h-15.5zM-170 63h23v7.9h-23zM-132.3 63h7.9v7.9h-7.9zM116.5 63h7.9v7.9h-7.9zM169.3 63h7.9v7.9h-7.9zM433.2 63h7.9v7.9h-7.9zM-177.5 70.5h7.9v7.9h-7.9zM350.3 70.5h7.9v7.9h-7.9zM440.7 70.5h7.9v7.9h-7.9zM-268 78.1h23v7.9h-23zM-185.1 78.1h7.9v7.9h-7.9zM350.3 78.1h7.9v7.9h-7.9zM448.3 78.1h15.5v7.9h-15.5zM493.5 78.1h7.9v7.9h-7.9zM-283.1 85.6h30.6v7.9h-30.6zM-245.4 85.6h15.5v7.9h-15.5zM-192.6 85.6h7.9v7.9h-7.9zM357.8 85.6h7.9v7.9h-7.9zM455.8 85.6h30.6v7.9h-30.6zM508.6 85.6h7.9v7.9h-7.9zM-215.2 93.1h23v7.9h-23zM365.3 93.1h7.9v7.9h-7.9zM448.3 93.1h23v7.9h-23zM516.1 93.1h7.9v7.9h-7.9zM372.9 100.7h15.5v7.9h-15.5zM425.7 100.7h45.6v7.9h-45.6zM516.1 100.7h7.9v7.9h-7.9zM463.4 108.2h23v7.9h-23zM508.6 108.2h7.9v7.9h-7.9zM486 115.8h23v7.9h-23z"/>
<path fill="#ecb88e" d="M357.8 25.3h38.1v7.9h-38.1zM-26.7 32.8h7.9v7.9h-7.9zM26 32.8h7.9v7.9h-7.9zM342.7 32.8h15.5v7.9h-15.5zM403 32.8h7.9v7.9h-7.9zM-154.9 40.4h7.9v7.9h-7.9zM-117.2 40.4h15.5v7.9h-15.5zM-26.7 40.4h7.9v7.9h-7.9zM26 40.4h15.5v7.9h-15.5zM101.4 40.4h7.9v7.9h-7.9zM342.7 40.4h7.9v7.9h-7.9zM-117.2 47.9h7.9v7.9h-7.9zM-11.7 47.9h15.5v7.9h-15.5zM11 47.9h23v7.9h-23zM101.4 47.9h7.9v7.9h-7.9zM342.7 47.9h7.9v7.9h-7.9zM425.7 47.9h7.9v7.9h-7.9zM-117.2 55.4h7.9v7.9h-7.9zM342.7 55.4h7.9v7.9h-7.9zM433.2 55.4h7.9v7.9h-7.9zM-275.6 63h7.9v7.9h-7.9zM-124.8 63h7.9v7.9h-7.9zM176.8 63h7.9v7.9h-7.9zM342.7 63h7.9v7.9h-7.9zM440.7 63h7.9v7.9h-7.9zM-170 70.5h45.6v7.9h-45.6zM146.7 70.5h38.1v7.9h-38.1zM342.7 70.5h7.9v7.9h-7.9zM448.3 70.5h15.5v7.9h-15.5zM-177.5 78.1h7.9v7.9h-7.9zM342.7 78.1h7.9v7.9h-7.9zM463.4 78.1h30.6v7.9h-30.6zM501.1 78.1h15.5v7.9h-15.5zM-252.9 85.6h7.9v7.9h-7.9zM-185.1 85.6h7.9v7.9h-7.9zM350.3 85.6h7.9v7.9h-7.9zM516.1 85.6h7.9v7.9h-7.9zM-283.1 93.1h23v7.9h-23zM-230.3 93.1h15.5v7.9h-15.5zM350.3 93.1h15.5v7.9h-15.5zM523.7 93.1h7.9v7.9h-7.9zM365.3 100.7h7.9v7.9h-7.9zM523.7 100.7h7.9v7.9h-7.9zM380.4 108.2h83.3v7.9h-83.3zM516.1 108.2h7.9v7.9h-7.9zM463.4 115.8h23v7.9h-23zM508.6 115.8h7.9v7.9h-7.9z"/>
<path fill="#e9be99" d="M-4.1 25.3h7.9v7.9h-7.9zM176.8 25.3h7.9v7.9h-7.9zM342.7 25.3h15.5v7.9h-15.5zM395.5 25.3h7.9v7.9h-7.9zM-56.9 32.8h30.6v7.9h-30.6zM33.6 32.8h7.9v7.9h-7.9zM335.2 32.8h7.9v7.9h-7.9zM410.6 32.8h7.9v7.9h-7.9zM-102.1 40.4h75.8v7.9h-75.8zM184.4 40.4h7.9v7.9h-7.9zM335.2 40.4h7.9v7.9h-7.9zM418.1 40.4h7.9v7.9h-7.9zM-222.8 47.9h7.9v7.9h-7.9zM-109.7 47.9h60.7v7.9h-60.7zM-26.7 47.9h15.5v7.9h-15.5zM33.6 47.9h7.9v7.9h-7.9zM184.4 47.9h7.9v7.9h-7.9zM335.2 47.9h7.9v7.9h-7.9zM433.2 47.9h7.9v7.9h-7.9zM-245.4 55.4h7.9v7.9h-7.9zM-109.7 55.4h23v7.9h-23zM-11.7 55.4h53.2v7.9h-53.2zM101.4 55.4h7.9v7.9h-7.9zM184.4 55.4h7.9v7.9h-7.9zM335.2 55.4h7.9v7.9h-7.9zM440.7 55.4h7.9v7.9h-7.9zM-283.1 63h7.9v7.9h-7.9zM-117.2 63h7.9v7.9h-7.9zM109 63h7.9v7.9h-7.9zM184.4 63h7.9v7.9h-7.9zM335.2 63h7.9v7.9h-7.9zM448.3 63h7.9v7.9h-7.9zM-124.8 70.5h7.9v7.9h-7.9zM124.1 70.5h23v7.9h-23zM184.4 70.5h7.9v7.9h-7.9zM335.2 70.5h7.9v7.9h-7.9zM463.4 70.5h45.6v7.9h-45.6zM-170 78.1h15.5v7.9h-15.5zM-147.4 78.1h15.5v7.9h-15.5zM161.8 78.1h23v7.9h-23zM335.2 78.1h7.9v7.9h-7.9zM516.1 78.1h7.9v7.9h-7.9zM-177.5 85.6h7.9v7.9h-7.9zM342.7 85.6h7.9v7.9h-7.9zM523.7 85.6h7.9v7.9h-7.9zM-260.5 93.1h30.6v7.9h-30.6zM-192.6 93.1h7.9v7.9h-7.9zM342.7 93.1h7.9v7.9h-7.9zM531.2 93.1h23v7.9h-23zM350.3 100.7h15.5v7.9h-15.5zM531.2 100.7h30.6v7.9h-30.6zM357.8 108.2h23v7.9h-23zM523.7 108.2h7.9v7.9h-7.9zM546.3 108.2h15.5v7.9h-15.5zM388 115.8h75.8v7.9h-75.8zM516.1 115.8h7.9v7.9h-7.9zM553.8 115.8h7.9v7.9h-7.9zM470.9 123.3h45.6v7.9h-45.6z"/>
<path fill="#e6c4a3" d="M-11.7 25.3h7.9v7.9h-7.9zM335.2 25.3h7.9v7.9h-7.9zM403 25.3h7.9v7.9h-7.9zM-87.1 32.8h30.6v7.9h-30.6zM184.4 32.8h7.9v7.9h-7.9zM418.1 32.8h7.9v7.9h-7.9zM-162.5 40.4h7.9v7.9h-7.9zM327.6 40.4h7.9v7.9h-7.9zM425.7 40.4h7.9v7.9h-7.9zM-49.4 47.9h23v7.9h-23zM327.6 47.9h7.9v7.9h-7.9zM440.7 47.9h7.9v7.9h-7.9zM-252.9 55.4h7.9v7.9h-7.9zM-87.1 55.4h75.8v7.9h-75.8zM191.9 55.4h7.9v7.9h-7.9zM327.6 55.4h7.9v7.9h-7.9zM448.3 55.4h7.9v7.9h-7.9zM-109.7 63h30.6v7.9h-30.6zM-4.1 63h45.6v7.9h-45.6zM191.9 63h7.9v7.9h-7.9zM327.6 63h7.9v7.9h-7.9zM455.8 63h15.5v7.9h-15.5zM-117.2 70.5h7.9v7.9h-7.9zM116.5 70.5h7.9v7.9h-7.9zM191.9 70.5h7.9v7.9h-7.9zM327.6 70.5h7.9v7.9h-7.9zM508.6 70.5h15.5v7.9h-15.5zM-154.9 78.1h7.9v7.9h-7.9zM-132.3 78.1h7.9v7.9h-7.9zM154.2 78.1h7.9v7.9h-7.9zM184.4 78.1h15.5v7.9h-15.5zM327.6 78.1h7.9v7.9h-7.9zM523.7 78.1h15.5v7.9h-15.5zM-170 85.6h7.9v7.9h-7.9zM169.3 85.6h23v7.9h-23zM327.6 85.6h15.5v7.9h-15.5zM531.2 85.6h30.6v7.9h-30.6zM-185.1 93.1h7.9v7.9h-7.9zM327.6 93.1h15.5v7.9h-15.5zM553.8 93.1h7.9v7.9h-7.9zM-275.6 100.7h83.3v7.9h-83.3zM327.6 100.7h23v7.9h-23zM342.7 108.2h15.5v7.9h-15.5zM531.2 108.2h15.5v7.9h-15.5zM561.4 108.2h7.9v7.9h-7.9zM357.8 115.8h30.6v7.9h-30.6zM523.7 115.8h30.6v7.9h-30.6zM561.4 115.8h7.9v7.9h-7.9zM395.5 123.3h75.8v7.9h-75.8zM516.1 123.3h7.9v7.9h-7.9zM546.3 123.3h15.5v7.9h-15.5zM478.4 130.8h23v7.9h-23z"/>
<path fill="#e4caac" d="M-26.7 25.3h15.5v7.9h-15.5zM184.4 25.3h7.9v7.9h-7.9zM327.6 25.3h7.9v7.9h-7.9zM410.6 25.3h7.9v7.9h-7.9zM-132.3 32.8h45.6v7.9h-45.6zM320.1 32.8h15.5v7.9h-15.5zM425.7 32.8h7.9v7.9h-7.9zM-170 40.4h7.9v7.9h-7.9zM41.1 40.4h7.9v7.9h-7.9zM93.9 40.4h7.9v7.9h-7.9zM191.9 40.4h7.9v7.9h-7.9zM320.1 40.4h7.9v7.9h-7.9zM433.2 40.4h7.9v7.9h-7.9zM-230.3 47.9h7.9v7.9h-7.9zM41.1 47.9h7.9v7.9h-7.9zM93.9 47.9h7.9v7.9h-7.9zM191.9 47.9h7.9v7.9h-7.9zM320.1 47.9h7.9v7.9h-7.9zM448.3 47.9h7.9v7.9h-7.9zM41.1 55.4h7.9v7.9h-7.9zM93.9 55.4h7.9v7.9h-7.9zM199.5 55.4h7.9v7.9h-7.9zM320.1 55.4h7.9v7.9h-7.9zM455.8 55.4h7.9v7.9h-7.9zM-79.5 63h75.8v7.9h-75.8zM41.1 63h7.9v7.9h-7.9zM101.4 63h7.9v7.9h-7.9zM199.5 63h7.9v7.9h-7.9zM320.1 63h7.9v7.9h-7.9zM470.9 63h38.1v7.9h-38.1zM-109.7 70.5h38.1v7.9h-38.1zM-4.1 70.5h45.6v7.9h-45.6zM109 70.5h7.9v7.9h-7.9zM199.5 70.5h15.5v7.9h-15.5zM312.6 70.5h15.5v7.9h-15.5zM523.7 70.5h7.9v7.9h-7.9zM-124.8 78.1h15.5v7.9h-15.5zM124.1 78.1h30.6v7.9h-30.6zM199.5 78.1h15.5v7.9h-15.5zM312.6 78.1h15.5v7.9h-15.5zM538.8 78.1h23v7.9h-23zM-162.5 85.6h38.1v7.9h-38.1zM154.2 85.6h15.5v7.9h-15.5zM191.9 85.6h23v7.9h-23zM305 85.6h23v7.9h-23zM-177.5 93.1h15.5v7.9h-15.5zM169.3 93.1h38.1v7.9h-38.1zM297.5 93.1h30.6v7.9h-30.6zM561.4 93.1h7.9v7.9h-7.9zM-192.6 100.7h7.9v7.9h-7.9zM297.5 100.7h30.6v7.9h-30.6zM561.4 100.7h7.9v7.9h-7.9zM-275.6 108.2h30.6v7.9h-30.6zM312.6 108.2h30.6v7.9h-30.6zM327.6 115.8h30.6v7.9h-30.6zM342.7 123.3h53.2v7.9h-53.2zM523.7 123.3h23v7.9h-23zM561.4 123.3h7.9v7.9h-7.9zM433.2 130.8h45.6v7.9h-45.6zM501.1 130.8h23v7.9h-23zM546.3 130.8h23v7.9h-23z"/>
<path fill="#e2cfb4" d="M403 17.7h7.9v7.9h-7.9zM-41.8 25.3h15.5v7.9h-15.5zM320.1 25.3h7.9v7.9h-7.9zM418.1 25.3h7.9v7.9h-7.9zM-147.4 32.8h15.5v7.9h-15.5zM41.1 32.8h7.9v7.9h-7.9zM93.9 32.8h7.9v7.9h-7.9zM191.9 32.8h7.9v7.9h-7.9zM312.6 32.8h7.9v7.9h-7.9zM433.2 32.8h7.9v7.9h-7.9zM-185.1 40.4h15.5v7.9h-15.5zM199.5 40.4h7.9v7.9h-7.9zM312.6 40.4h7.9v7.9h-7.9zM440.7 40.4h7.9v7.9h-7.9zM199.5 47.9h7.9v7.9h-7.9zM312.6 47.9h7.9v7.9h-7.9zM455.8 47.9h7.9v7.9h-7.9zM-268 55.4h15.5v7.9h-15.5zM207 55.4h7.9v7.9h-7.9zM305 55.4h15.5v7.9h-15.5zM463.4 55.4h30.6v7.9h-30.6zM93.9 63h7.9v7.9h-7.9zM207 63h15.5v7.9h-15.5zM305 63h15.5v7.9h-15.5zM508.6 63h23v7.9h-23zM-72 70.5h68.3v7.9h-68.3zM41.1 70.5h7.9v7.9h-7.9zM101.4 70.5h7.9v7.9h-7.9zM214.5 70.5h15.5v7.9h-15.5zM289.9 70.5h23v7.9h-23zM531.2 70.5h23v7.9h-23zM-109.7 78.1h38.1v7.9h-38.1zM3.4 78.1h38.1v7.9h-38.1zM116.5 78.1h7.9v7.9h-7.9zM214.5 78.1h30.6v7.9h-30.6zM267.3 78.1h45.6v7.9h-45.6zM-124.8 85.6h15.5v7.9h-15.5zM139.1 85.6h15.5v7.9h-15.5zM214.5 85.6h90.9v7.9h-90.9zM561.4 85.6h7.9v7.9h-7.9zM-162.5 93.1h38.1v7.9h-38.1zM161.8 93.1h7.9v7.9h-7.9zM207 93.1h90.9v7.9h-90.9zM-185.1 100.7h15.5v7.9h-15.5zM169.3 100.7h128.6v7.9h-128.6zM-245.4 108.2h53.2v7.9h-53.2zM244.7 108.2h68.3v7.9h-68.3zM568.9 108.2h7.9v7.9h-7.9zM-275.6 115.8h23v7.9h-23zM274.9 115.8h53.2v7.9h-53.2zM568.9 115.8h7.9v7.9h-7.9zM312.6 123.3h30.6v7.9h-30.6zM568.9 123.3h7.9v7.9h-7.9zM335.2 130.8h98.4v7.9h-98.4zM523.7 130.8h23v7.9h-23zM568.9 130.8h7.9v7.9h-7.9zM433.2 138.4h90.9v7.9h-90.9zM546.3 138.4h23v7.9h-23z"/>
<path fill="#e1d4bc" d="M410.6 17.7h15.5v7.9h-15.5zM-64.4 25.3h23v7.9h-23zM191.9 25.3h7.9v7.9h-7.9zM305 25.3h15.5v7.9h-15.5zM425.7 25.3h15.5v7.9h-15.5zM199.5 32.8h7.9v7.9h-7.9zM305 32.8h7.9v7.9h-7.9zM440.7 32.8h7.9v7.9h-7.9zM-192.6 40.4h7.9v7.9h-7.9zM86.4 40.4h7.9v7.9h-7.9zM207 40.4h7.9v7.9h-7.9zM305 40.4h7.9v7.9h-7.9zM448.3 40.4h15.5v7.9h-15.5zM-237.9 47.9h7.9v7.9h-7.9zM86.4 47.9h7.9v7.9h-7.9zM207 47.9h15.5v7.9h-15.5zM297.5 47.9h15.5v7.9h-15.5zM463.4 47.9h15.5v7.9h-15.5zM-275.6 55.4h7.9v7.9h-7.9zM48.7 55.4h7.9v7.9h-7.9zM86.4 55.4h7.9v7.9h-7.9zM214.5 55.4h15.5v7.9h-15.5zM289.9 55.4h15.5v7.9h-15.5zM493.5 55.4h30.6v7.9h-30.6zM48.7 63h7.9v7.9h-7.9zM222.1 63h30.6v7.9h-30.6zM267.3 63h38.1v7.9h-38.1zM531.2 63h23v7.9h-23zM93.9 70.5h7.9v7.9h-7.9zM229.6 70.5h60.7v7.9h-60.7zM553.8 70.5h7.9v7.9h-7.9zM-72 78.1h75.8v7.9h-75.8zM41.1 78.1h7.9v7.9h-7.9zM109 78.1h7.9v7.9h-7.9zM244.7 78.1h23v7.9h-23zM561.4 78.1h7.9v7.9h-7.9zM-109.7 85.6h38.1v7.9h-38.1zM3.4 85.6h38.1v7.9h-38.1zM116.5 85.6h23v7.9h-23zM-124.8 93.1h15.5v7.9h-15.5zM139.1 93.1h23v7.9h-23zM568.9 93.1h7.9v7.9h-7.9zM-170 100.7h38.1v7.9h-38.1zM161.8 100.7h7.9v7.9h-7.9zM568.9 100.7h7.9v7.9h-7.9zM-192.6 108.2h23v7.9h-23zM169.3 108.2h75.8v7.9h-75.8zM-252.9 115.8h53.2v7.9h-53.2zM207 115.8h68.3v7.9h-68.3zM-275.6 123.3h15.5v7.9h-15.5zM244.7 123.3h68.3v7.9h-68.3zM289.9 130.8h45.6v7.9h-45.6zM327.6 138.4h106v7.9h-106zM523.7 138.4h23v7.9h-23zM568.9 138.4h7.9v7.9h-7.9zM410.6 145.9h113.5v7.9h-113.5zM546.3 145.9h30.6v7.9h-30.6zM561.4 153.5h7.9v7.9h-7.9z"/>
<path fill="#dfdac5" d="M425.7 17.7h15.5v7.9h-15.5zM-94.6 25.3h30.6v7.9h-30.6zM199.5 25.3h7.9v7.9h-7.9zM289.9 25.3h15.5v7.9h-15.5zM440.7 25.3h7.9v7.9h-7.9zM86.4 32.8h7.9v7.9h-7.9zM207 32.8h7.9v7.9h-7.9zM289.9 32.8h15.5v7.9h-15.5zM448.3 32.8h15.5v7.9h-15.5zM48.7 40.4h7.9v7.9h-7.9zM78.8 40.4h7.9v7.9h-7.9zM214.5 40.4h15.5v7.9h-15.5zM282.4 40.4h23v7.9h-23zM463.4 40.4h23v7.9h-23zM48.7 47.9h7.9v7.9h-7.9zM78.8 47.9h7.9v7.9h-7.9zM222.1 47.9h23v7.9h-23zM267.3 47.9h30.6v7.9h-30.6zM478.4 47.9h45.6v7.9h-45.6zM78.8 55.4h7.9v7.9h-7.9zM229.6 55.4h60.7v7.9h-60.7zM523.7 55.4h38.1v7.9h-38.1zM86.4 63h7.9v7.9h-7.9zM252.2 63h15.5v7.9h-15.5zM553.8 63h7.9v7.9h-7.9zM48.7 70.5h7.9v7.9h-7.9zM86.4 70.5h7.9v7.9h-7.9zM561.4 70.5h7.9v7.9h-7.9zM48.7 78.1h7.9v7.9h-7.9zM93.9 78.1h15.5v7.9h-15.5zM568.9 78.1h7.9v7.9h-7.9zM-72 85.6h75.8v7.9h-75.8zM41.1 85.6h15.5v7.9h-15.5zM101.4 85.6h15.5v7.9h-15.5zM568.9 85.6h7.9v7.9h-7.9zM-109.7 93.1h60.7v7.9h-60.7zM-4.1 93.1h53.2v7.9h-53.2zM116.5 93.1h23v7.9h-23zM-132.3 100.7h30.6v7.9h-30.6zM131.6 100.7h30.6v7.9h-30.6zM576.5 100.7h7.9v7.9h-7.9zM-170 108.2h45.6v7.9h-45.6zM154.2 108.2h15.5v7.9h-15.5zM576.5 108.2h7.9v7.9h-7.9zM-200.2 115.8h30.6v7.9h-30.6zM169.3 115.8h38.1v7.9h-38.1zM576.5 115.8h7.9v7.9h-7.9zM-260.5 123.3h60.7v7.9h-60.7zM184.4 123.3h60.7v7.9h-60.7zM576.5 123.3h7.9v7.9h-7.9zM-275.6 130.8h23v7.9h-23zM229.6 130.8h60.7v7.9h-60.7zM576.5 130.8h7.9v7.9h-7.9zM252.2 138.4h75.8v7.9h-75.8zM576.5 138.4h7.9v7.9h-7.9zM305 145.9h106v7.9h-106zM523.7 145.9h23v7.9h-23zM576.5 145.9h7.9v7.9h-7.9zM342.7 153.5h219.1v7.9h-219.1zM568.9 153.5h7.9v7.9h-7.9zM440.7 161h75.8v7.9h-75.8zM553.8 161h23v7.9h-23z"/>
<path fill="#d7dbcf" d="M584 161h15.5v7.9h-15.5zM576.5 168.5h23v7.9h-23zM568.9 176.1h23v7.9h-23zM561.4 183.6h23v7.9h-23zM553.8 191.2h23v7.9h-23zM546.3 198.7h30.6v7.9h-30.6zM546.3 206.2h30.6v7.9h-30.6zM546.3 213.8h30.6v7.9h-30.6zM546.3 221.3h30.6v7.9h-30.6zM546.3 228.9h23v7.9h-23zM546.3 236.4h23v7.9h-23zM538.8 243.9h30.6v7.9h-30.6zM538.8 251.5h30.6v7.9h-30.6zM538.8 259h30.6v7.9h-30.6zM538.8 266.6h30.6v7.9h-30.6zM538.8 274.1h23v7.9h-23zM531.2 281.6h30.6v7.9h-30.6zM531.2 289.2h30.6v7.9h-30.6zM531.2 296.7h30.6v7.9h-30.6zM531.2 304.3h30.6v7.9h-30.6zM531.2 311.8h23v7.9h-23zM531.2 319.3h23v7.9h-23zM531.2 326.9h15.5v7.9h-15.5z"/>
<path fill="#cdd5d2" d="M599.1 168.5h7.9v7.9h-7.9zM591.5 176.1h15.5v7.9h-15.5zM584 183.6h15.5v7.9h-15.5zM576.5 191.2h23v7.9h-23zM576.5 198.7h23v7.9h-23zM576.5 206.2h23v7.9h-23zM576.5 213.8h23v7.9h-23zM576.5 221.3h15.5v7.9h-15.5zM568.9 228.9h23v7.9h-23zM568.9 236.4h23v7.9h-23zM568.9 243.9h23v7.9h-23zM568.9 251.5h23v7.9h-23zM568.9 259h23v7.9h-23zM568.9 266.6h15.5v7.9h-15.5zM561.4 274.1h23v7.9h-23zM561.4 281.6h23v7.9h-23zM561.4 289.2h23v7.9h-23zM561.4 296.7h23v7.9h-23zM561.4 304.3h15.5v7.9h-15.5zM553.8 311.8h23v7.9h-23zM553.8 319.3h23v7.9h-23z"/>
<path fill="#c4cfd5" d="M599.1 183.6h7.9v7.9h-7.9zM599.1 191.2h7.9v7.9h-7.9zM599.1 198.7h7.9v7.9h-7.9zM599.1 206.2h7.9v7.9h-7.9zM599.1 213.8h15.5v7.9h-15.5zM591.5 221.3h23v7.9h-23zM591.5 228.9h15.5v7.9h-15.5zM591.5 236.4h15.5v7.9h-15.5zM591.5 243.9h15.5v7.9h-15.5zM591.5 251.5h15.5v7.9h-15.5zM591.5 259h15.5v7.9h-15.5zM584 266.6h23v7.9h-23zM584 274.1h15.5v7.9h-15.5zM584 281.6h15.5v7.9h-15.5zM584 289.2h15.5v7.9h-15.5zM584 296.7h15.5v7.9h-15.5zM576.5 304.3h23v7.9h-23zM576.5 311.8h23v7.9h-23zM576.5 319.3h15.5v7.9h-15.5z"/>
<path fill="#bdcbd7" d="M606.6 228.9h7.9v7.9h-7.9zM606.6 236.4h7.9v7.9h-7.9zM606.6 243.9h7.9v7.9h-7.9zM606.6 251.5h7.9v7.9h-7.9zM606.6 259h15.5v7.9h-15.5zM606.6 266.6h15.5v7.9h-15.5zM599.1 274.1h15.5v7.9h-15.5zM599.1 281.6h15.5v7.9h-15.5zM599.1 289.2h15.5v7.9h-15.5zM599.1 296.7h15.5v7.9h-15.5zM599.1 304.3h15.5v7.9h-15.5zM599.1 311.8h15.5v7.9h-15.5z"/>
<path fill="#b5c7da" d="M614.2 274.1h7.9v7.9h-7.9zM614.2 281.6h7.9v7.9h-7.9zM614.2 289.2h7.9v7.9h-7.9zM614.2 296.7h15.5v7.9h-15.5zM614.2 304.3h15.5v7.9h-15.5zM614.2 311.8h15.5v7.9h-15.5z"/>
</g>
<g transform="translate(2709 344.5) rotate(24)" shape-rendering="crispEdges">
<path fill="#8d2909" d="M84.7 25.4h45.6v6.9h-45.6z"/>
<path fill="#97310c" d="M62.1 25.4h23v6.9h-23zM130 25.4h7.9v6.9h-7.9zM130 31.9h23v6.9h-23z"/>
<path fill="#a03910" d="M152.6 31.9h7.9v6.9h-7.9z"/>
<path fill="#ab4015" d="M54.6 25.4h7.9v6.9h-7.9zM160.1 25.4h7.9v6.9h-7.9zM69.7 31.9h60.7v6.9h-60.7z"/>
<path fill="#b54719" d="M114.9 18.9h7.9v6.9h-7.9zM137.5 25.4h23v6.9h-23zM167.7 25.4h7.9v6.9h-7.9zM62.1 31.9h7.9v6.9h-7.9zM160.1 31.9h7.9v6.9h-7.9zM145.1 38.4h7.9v6.9h-7.9z"/>
<path fill="#be4e1d" d="M47 18.9h15.5v6.9h-15.5zM107.4 18.9h7.9v6.9h-7.9zM137.5 38.4h7.9v6.9h-7.9z"/>
<path fill="#c85520" d="M99.8 18.9h7.9v6.9h-7.9zM167.7 31.9h7.9v6.9h-7.9zM152.6 38.4h7.9v6.9h-7.9z"/>
<path fill="#d15c23" d="M84.7 18.9h15.5v6.9h-15.5zM175.2 25.4h7.9v6.9h-7.9zM69.7 38.4h30.6v6.9h-30.6zM130 38.4h7.9v6.9h-7.9z"/>
<path fill="#da6326" d="M77.2 18.9h7.9v6.9h-7.9zM99.8 38.4h30.6v6.9h-30.6zM160.1 38.4h7.9v6.9h-7.9z"/>
<path fill="#e36a29" d="M69.7 18.9h7.9v6.9h-7.9zM122.4 18.9h7.9v6.9h-7.9zM47 25.4h7.9v6.9h-7.9zM54.6 31.9h7.9v6.9h-7.9zM175.2 31.9h7.9v6.9h-7.9zM145.1 44.9h7.9v6.9h-7.9z"/>
<path fill="#eb712c" d="M39.5 18.9h7.9v6.9h-7.9zM62.1 18.9h7.9v6.9h-7.9zM62.1 38.4h7.9v6.9h-7.9zM167.7 38.4h7.9v6.9h-7.9zM137.5 44.9h7.9v6.9h-7.9zM152.6 44.9h7.9v6.9h-7.9z"/>
<path fill="#f57931" d="M182.8 25.4h7.9v6.9h-7.9z"/>
<path fill="#ff8237" d="M190.3 25.4h7.9v6.9h-7.9zM175.2 38.4h7.9v6.9h-7.9zM77.2 44.9h30.6v6.9h-30.6zM130 44.9h7.9v6.9h-7.9zM160.1 44.9h7.9v6.9h-7.9z"/>
<path fill="#fc8841" d="M39.5 25.4h7.9v6.9h-7.9zM197.8 25.4h7.9v6.9h-7.9zM182.8 31.9h7.9v6.9h-7.9zM69.7 44.9h7.9v6.9h-7.9zM107.4 44.9h23v6.9h-23z"/>
<path fill="#fa8e4a" d="M32 18.9h7.9v6.9h-7.9zM130 18.9h7.9v6.9h-7.9zM205.4 25.4h7.9v6.9h-7.9zM47 31.9h7.9v6.9h-7.9zM167.7 44.9h7.9v6.9h-7.9zM145.1 51.4h15.5v6.9h-15.5z"/>
<path fill="#f79455" d="M152.6 18.9h23v6.9h-23zM303.4 18.9h15.5v6.9h-15.5zM212.9 25.4h15.5v6.9h-15.5zM190.3 31.9h15.5v6.9h-15.5zM182.8 38.4h7.9v6.9h-7.9zM175.2 44.9h7.9v6.9h-7.9z"/>
<path fill="#f59a5f" d="M303.4 12.4h38.1v6.9h-38.1zM137.5 18.9h15.5v6.9h-15.5zM175.2 18.9h7.9v6.9h-7.9zM280.8 18.9h23v6.9h-23zM318.5 18.9h7.9v6.9h-7.9zM32 25.4h7.9v6.9h-7.9zM228 25.4h23v6.9h-23zM205.4 31.9h7.9v6.9h-7.9zM54.6 38.4h7.9v6.9h-7.9zM77.2 51.4h23v6.9h-23zM137.5 51.4h7.9v6.9h-7.9zM160.1 51.4h7.9v6.9h-7.9z"/>
<path fill="#f3a069" d="M107.4 12.4h7.9v6.9h-7.9zM24.4 18.9h7.9v6.9h-7.9zM265.7 18.9h15.5v6.9h-15.5zM326 18.9h7.9v6.9h-7.9zM250.6 25.4h15.5v6.9h-15.5zM39.5 31.9h7.9v6.9h-7.9zM212.9 31.9h7.9v6.9h-7.9zM62.1 44.9h7.9v6.9h-7.9zM99.8 51.4h38.1v6.9h-38.1zM167.7 51.4h7.9v6.9h-7.9z"/>
<path fill="#f2a571" d="M333.6 5.9h7.9v6.9h-7.9zM99.8 12.4h7.9v6.9h-7.9zM114.9 12.4h7.9v6.9h-7.9zM295.9 12.4h7.9v6.9h-7.9zM182.8 18.9h15.5v6.9h-15.5zM258.2 18.9h7.9v6.9h-7.9zM333.6 18.9h7.9v6.9h-7.9zM24.4 25.4h7.9v6.9h-7.9zM265.7 25.4h7.9v6.9h-7.9zM280.8 25.4h45.6v6.9h-45.6zM220.5 31.9h30.6v6.9h-30.6zM190.3 38.4h15.5v6.9h-15.5zM182.8 44.9h7.9v6.9h-7.9zM152.6 57.9h7.9v6.9h-7.9z"/>
<path fill="#f0aa79" d="M47 12.4h7.9v6.9h-7.9zM84.7 12.4h7.9v6.9h-7.9zM288.3 12.4h7.9v6.9h-7.9zM16.9 18.9h7.9v6.9h-7.9zM197.8 18.9h23v6.9h-23zM250.6 18.9h7.9v6.9h-7.9zM341.1 18.9h7.9v6.9h-7.9zM273.2 25.4h7.9v6.9h-7.9zM326 25.4h7.9v6.9h-7.9zM32 31.9h7.9v6.9h-7.9zM250.6 31.9h15.5v6.9h-15.5zM47 38.4h7.9v6.9h-7.9zM205.4 38.4h7.9v6.9h-7.9zM69.7 51.4h7.9v6.9h-7.9zM175.2 51.4h7.9v6.9h-7.9zM145.1 57.9h7.9v6.9h-7.9zM160.1 57.9h7.9v6.9h-7.9z"/>
<path fill="#eeb184" d="M39.5 12.4h7.9v6.9h-7.9zM54.6 12.4h7.9v6.9h-7.9zM77.2 12.4h7.9v6.9h-7.9zM220.5 18.9h7.9v6.9h-7.9zM243.1 18.9h7.9v6.9h-7.9zM16.9 25.4h7.9v6.9h-7.9zM333.6 25.4h7.9v6.9h-7.9zM265.7 31.9h7.9v6.9h-7.9zM212.9 38.4h30.6v6.9h-30.6zM77.2 57.9h38.1v6.9h-38.1zM137.5 57.9h7.9v6.9h-7.9zM167.7 57.9h7.9v6.9h-7.9z"/>
<path fill="#ecb88e" d="M62.1 12.4h15.5v6.9h-15.5zM280.8 12.4h7.9v6.9h-7.9zM228 18.9h15.5v6.9h-15.5zM341.1 25.4h7.9v6.9h-7.9zM24.4 31.9h7.9v6.9h-7.9zM273.2 31.9h53.2v6.9h-53.2zM39.5 38.4h7.9v6.9h-7.9zM243.1 38.4h15.5v6.9h-15.5zM54.6 44.9h7.9v6.9h-7.9zM190.3 44.9h15.5v6.9h-15.5zM182.8 51.4h7.9v6.9h-7.9zM114.9 57.9h23v6.9h-23zM152.6 64.4h7.9v6.9h-7.9z"/>
<path fill="#e9be99" d="M32 12.4h7.9v6.9h-7.9zM9.3 18.9h7.9v6.9h-7.9zM9.3 25.4h7.9v6.9h-7.9zM326 31.9h15.5v6.9h-15.5zM258.2 38.4h15.5v6.9h-15.5zM47 44.9h7.9v6.9h-7.9zM205.4 44.9h15.5v6.9h-15.5zM62.1 51.4h7.9v6.9h-7.9zM175.2 57.9h7.9v6.9h-7.9zM145.1 64.4h7.9v6.9h-7.9zM160.1 64.4h7.9v6.9h-7.9z"/>
<path fill="#e6c4a3" d="M326 5.9h7.9v6.9h-7.9zM273.2 12.4h7.9v6.9h-7.9zM16.9 31.9h7.9v6.9h-7.9zM341.1 31.9h7.9v6.9h-7.9zM32 38.4h7.9v6.9h-7.9zM273.2 38.4h53.2v6.9h-53.2zM220.5 44.9h38.1v6.9h-38.1zM190.3 51.4h7.9v6.9h-7.9zM69.7 57.9h7.9v6.9h-7.9zM182.8 57.9h7.9v6.9h-7.9zM84.7 64.4h45.6v6.9h-45.6zM137.5 64.4h7.9v6.9h-7.9zM167.7 64.4h7.9v6.9h-7.9z"/>
<path fill="#e4caac" d="M265.7 12.4h7.9v6.9h-7.9zM1.8 18.9h7.9v6.9h-7.9zM9.3 31.9h7.9v6.9h-7.9zM348.6 31.9h7.9v6.9h-7.9zM24.4 38.4h7.9v6.9h-7.9zM326 38.4h15.5v6.9h-15.5zM39.5 44.9h7.9v6.9h-7.9zM258.2 44.9h15.5v6.9h-15.5zM54.6 51.4h7.9v6.9h-7.9zM197.8 51.4h23v6.9h-23zM77.2 64.4h7.9v6.9h-7.9zM130 64.4h7.9v6.9h-7.9zM175.2 64.4h7.9v6.9h-7.9zM152.6 70.9h15.5v6.9h-15.5z"/>
<path fill="#e2cfb4" d="M310.9 5.9h15.5v6.9h-15.5zM24.4 12.4h7.9v6.9h-7.9zM137.5 12.4h7.9v6.9h-7.9zM1.8 25.4h7.9v6.9h-7.9zM16.9 38.4h7.9v6.9h-7.9zM341.1 38.4h7.9v6.9h-7.9zM32 44.9h7.9v6.9h-7.9zM273.2 44.9h53.2v6.9h-53.2zM47 51.4h7.9v6.9h-7.9zM220.5 51.4h38.1v6.9h-38.1zM62.1 57.9h7.9v6.9h-7.9zM190.3 57.9h7.9v6.9h-7.9zM182.8 64.4h7.9v6.9h-7.9zM84.7 70.9h53.2v6.9h-53.2zM145.1 70.9h7.9v6.9h-7.9zM167.7 70.9h7.9v6.9h-7.9z"/>
<path fill="#e1d4bc" d="M333.6 -0.6h7.9v6.9h-7.9zM303.4 5.9h7.9v6.9h-7.9zM16.9 12.4h7.9v6.9h-7.9zM145.1 12.4h23v6.9h-23zM258.2 12.4h7.9v6.9h-7.9zM-5.7 18.9h7.9v6.9h-7.9zM1.8 31.9h7.9v6.9h-7.9zM9.3 38.4h7.9v6.9h-7.9zM348.6 38.4h7.9v6.9h-7.9zM24.4 44.9h7.9v6.9h-7.9zM326 44.9h23v6.9h-23zM39.5 51.4h7.9v6.9h-7.9zM258.2 51.4h23v6.9h-23zM54.6 57.9h7.9v6.9h-7.9zM197.8 57.9h30.6v6.9h-30.6zM69.7 64.4h7.9v6.9h-7.9zM190.3 64.4h7.9v6.9h-7.9zM77.2 70.9h7.9v6.9h-7.9zM137.5 70.9h7.9v6.9h-7.9zM175.2 70.9h15.5v6.9h-15.5zM152.6 77.4h23v6.9h-23z"/>
<path fill="#dfdac5" d="M288.3 5.9h15.5v6.9h-15.5zM9.3 12.4h7.9v6.9h-7.9zM167.7 12.4h23v6.9h-23zM250.6 12.4h7.9v6.9h-7.9zM-5.7 25.4h7.9v6.9h-7.9zM16.9 44.9h7.9v6.9h-7.9zM348.6 44.9h7.9v6.9h-7.9zM24.4 51.4h15.5v6.9h-15.5zM280.8 51.4h68.3v6.9h-68.3zM39.5 57.9h15.5v6.9h-15.5zM228 57.9h53.2v6.9h-53.2zM62.1 64.4h7.9v6.9h-7.9zM197.8 64.4h23v6.9h-23zM190.3 70.9h7.9v6.9h-7.9zM84.7 77.4h68.3v6.9h-68.3zM175.2 77.4h7.9v6.9h-7.9z"/>
<path fill="#dddecc" d="M-58.5 -0.6h7.9v6.9h-7.9zM326 -0.6h7.9v6.9h-7.9zM280.8 5.9h7.9v6.9h-7.9zM-51 12.4h7.9v6.9h-7.9zM-5.7 12.4h15.5v6.9h-15.5zM-51 18.9h15.5v6.9h-15.5zM-43.4 25.4h15.5v6.9h-15.5zM-43.4 31.9h15.5v6.9h-15.5zM-5.7 31.9h7.9v6.9h-7.9zM-35.9 38.4h7.9v6.9h-7.9zM1.8 38.4h7.9v6.9h-7.9zM-35.9 44.9h15.5v6.9h-15.5zM1.8 44.9h15.5v6.9h-15.5zM-35.9 51.4h15.5v6.9h-15.5zM9.3 51.4h15.5v6.9h-15.5zM348.6 51.4h15.5v6.9h-15.5zM-28.4 57.9h7.9v6.9h-7.9zM24.4 57.9h15.5v6.9h-15.5zM280.8 57.9h75.8v6.9h-75.8zM-28.4 64.4h7.9v6.9h-7.9zM39.5 64.4h23v6.9h-23zM220.5 64.4h83.3v6.9h-83.3zM-28.4 70.9h7.9v6.9h-7.9zM54.6 70.9h23v6.9h-23zM197.8 70.9h68.3v6.9h-68.3zM182.8 77.4h7.9v6.9h-7.9zM160.1 83.9h15.5v6.9h-15.5z"/>
<path fill="#dddecc" d="M235.5 -163.1h30.6v6.9h-30.6zM220.5 -156.6h45.6v6.9h-45.6zM212.9 -150.1h60.7v6.9h-60.7zM212.9 -143.6h60.7v6.9h-60.7zM220.5 -137.1h60.7v6.9h-60.7zM220.5 -130.6h60.7v6.9h-60.7zM220.5 -124.1h60.7v6.9h-60.7zM228 -117.6h60.7v6.9h-60.7zM228 -111.1h60.7v6.9h-60.7zM235.5 -104.6h60.7v6.9h-60.7zM235.5 -98.1h60.7v6.9h-60.7zM235.5 -91.6h60.7v6.9h-60.7zM243.1 -85.1h60.7v6.9h-60.7zM243.1 -78.6h60.7v6.9h-60.7zM243.1 -72.1h60.7v6.9h-60.7zM250.6 -65.6h60.7v6.9h-60.7zM250.6 -59.1h60.7v6.9h-60.7zM258.2 -52.6h60.7v6.9h-60.7zM258.2 -46.1h60.7v6.9h-60.7zM-43.4 -39.6h15.5v6.9h-15.5zM258.2 -39.6h60.7v6.9h-60.7zM-58.5 -33.1h38.1v6.9h-38.1zM265.7 -33.1h60.7v6.9h-60.7zM-66.1 -26.6h45.6v6.9h-45.6zM265.7 -26.6h60.7v6.9h-60.7zM-66.1 -20.1h45.6v6.9h-45.6zM265.7 -20.1h68.3v6.9h-68.3zM-66.1 -13.6h53.2v6.9h-53.2zM273.2 -13.6h60.7v6.9h-60.7zM-58.5 -7.1h45.6v6.9h-45.6zM273.2 -7.1h60.7v6.9h-60.7zM-51 -0.6h45.6v6.9h-45.6zM280.8 -0.6h45.6v6.9h-45.6zM-51 5.9h45.6v6.9h-45.6zM-43.4 12.4h38.1v6.9h-38.1zM-35.9 18.9h30.6v6.9h-30.6zM-28.4 25.4h23v6.9h-23zM-28.4 31.9h23v6.9h-23zM-28.4 38.4h30.6v6.9h-30.6zM-20.8 44.9h23v6.9h-23zM-20.8 51.4h30.6v6.9h-30.6zM-20.8 57.9h45.6v6.9h-45.6zM356.2 57.9h7.9v6.9h-7.9zM-20.8 64.4h60.7v6.9h-60.7zM303.4 64.4h68.3v6.9h-68.3zM-20.8 70.9h75.8v6.9h-75.8zM265.7 70.9h106v6.9h-106zM77.2 77.4h7.9v6.9h-7.9zM190.3 77.4h7.9v6.9h-7.9zM318.5 77.4h53.2v6.9h-53.2zM92.3 83.9h68.3v6.9h-68.3zM175.2 83.9h7.9v6.9h-7.9zM348.6 83.9h7.9v6.9h-7.9z"/>
<path fill="#dddecc" d="M-81.1 -163.1h317.1v6.9h-317.1zM265.7 -163.1h106v6.9h-106zM-81.1 -156.6h302v6.9h-302zM265.7 -156.6h106v6.9h-106zM-81.1 -150.1h286.9v6.9h-286.9zM273.2 -150.1h98.4v6.9h-98.4zM-81.1 -143.6h271.8v6.9h-271.8zM273.2 -143.6h98.4v6.9h-98.4zM-81.1 -137.1h256.8v6.9h-256.8zM280.8 -137.1h90.9v6.9h-90.9zM-81.1 -130.6h241.7v6.9h-241.7zM280.8 -130.6h90.9v6.9h-90.9zM-81.1 -124.1h226.6v6.9h-226.6zM280.8 -124.1h90.9v6.9h-90.9zM-81.1 -117.6h211.5v6.9h-211.5zM288.3 -117.6h83.3v6.9h-83.3zM-81.1 -111.1h196.4v6.9h-196.4zM288.3 -111.1h83.3v6.9h-83.3zM-81.1 -104.6h181.4v6.9h-181.4zM295.9 -104.6h75.8v6.9h-75.8zM-81.1 -98.1h166.3v6.9h-166.3zM295.9 -98.1h75.8v6.9h-75.8zM-81.1 -91.6h151.2v6.9h-151.2zM295.9 -91.6h75.8v6.9h-75.8zM-81.1 -85.1h143.7v6.9h-143.7zM303.4 -85.1h68.3v6.9h-68.3zM-81.1 -78.6h128.6v6.9h-128.6zM303.4 -78.6h68.3v6.9h-68.3zM-81.1 -72.1h113.5v6.9h-113.5zM303.4 -72.1h68.3v6.9h-68.3zM-81.1 -65.6h98.4v6.9h-98.4zM310.9 -65.6h60.7v6.9h-60.7zM-81.1 -59.1h83.3v6.9h-83.3zM310.9 -59.1h60.7v6.9h-60.7zM-81.1 -52.6h68.3v6.9h-68.3zM318.5 -52.6h53.2v6.9h-53.2zM-73.6 -46.1h45.6v6.9h-45.6zM318.5 -46.1h53.2v6.9h-53.2zM-73.6 -39.6h30.6v6.9h-30.6zM318.5 -39.6h53.2v6.9h-53.2zM-73.6 -33.1h15.5v6.9h-15.5zM326 -33.1h45.6v6.9h-45.6zM326 -26.6h45.6v6.9h-45.6zM-20.8 -20.1h7.9v6.9h-7.9zM333.6 -20.1h38.1v6.9h-38.1zM333.6 -13.6h38.1v6.9h-38.1zM333.6 -7.1h38.1v6.9h-38.1zM341.1 -0.6h30.6v6.9h-30.6zM341.1 5.9h30.6v6.9h-30.6zM341.1 12.4h30.6v6.9h-30.6zM348.6 18.9h23v6.9h-23zM348.6 25.4h23v6.9h-23zM356.2 31.9h15.5v6.9h-15.5zM356.2 38.4h15.5v6.9h-15.5zM356.2 44.9h15.5v6.9h-15.5zM363.7 51.4h7.9v6.9h-7.9zM363.7 57.9h7.9v6.9h-7.9zM69.7 77.4h7.9v6.9h-7.9zM197.8 77.4h7.9v6.9h-7.9zM84.7 83.9h7.9v6.9h-7.9zM182.8 83.9h15.5v6.9h-15.5zM356.2 83.9h15.5v6.9h-15.5zM160.1 90.4h15.5v6.9h-15.5zM341.1 90.4h30.6v6.9h-30.6zM326 96.9h45.6v6.9h-45.6zM310.9 103.4h60.7v6.9h-60.7zM295.9 109.9h75.8v6.9h-75.8zM280.8 116.4h90.9v6.9h-90.9zM273.2 122.9h98.4v6.9h-98.4zM258.2 129.4h113.5v6.9h-113.5zM243.1 135.9h128.6v6.9h-128.6zM228 142.4h143.7v6.9h-143.7zM212.9 148.9h158.7v6.9h-158.7zM197.8 155.4h173.8v6.9h-173.8zM182.8 161.9h188.9v6.9h-188.9zM167.7 168.4h204v6.9h-204zM152.6 174.9h219.1v6.9h-219.1zM137.5 181.4h234.1v6.9h-234.1zM122.4 187.9h249.2v6.9h-249.2zM107.4 194.4h264.3v6.9h-264.3zM92.3 200.9h279.4v6.9h-279.4zM77.2 207.4h294.5v6.9h-294.5zM62.1 213.9h309.5v6.9h-309.5zM47 220.4h324.6v6.9h-324.6zM47 226.9h324.6v6.9h-324.6z"/>
<path fill="#dddecc" d="M228 -104.6h7.9v6.9h-7.9zM-28.4 -39.6h7.9v6.9h-7.9zM47 77.4h23v6.9h-23zM205.4 77.4h113.5v6.9h-113.5zM77.2 83.9h7.9v6.9h-7.9zM197.8 83.9h7.9v6.9h-7.9zM92.3 90.4h68.3v6.9h-68.3zM175.2 90.4h15.5v6.9h-15.5z"/>
<path fill="#d7dbcf" d="M-13.3 -7.1h7.9v6.9h-7.9zM-20.8 77.4h68.3v6.9h-68.3zM-20.8 83.9h15.5v6.9h-15.5zM39.5 83.9h38.1v6.9h-38.1zM205.4 83.9h143.7v6.9h-143.7zM84.7 90.4h7.9v6.9h-7.9zM190.3 90.4h7.9v6.9h-7.9zM333.6 90.4h7.9v6.9h-7.9z"/>
<path fill="#cdd5d2" d="M-20.8 -26.6h7.9v6.9h-7.9zM-5.7 83.9h45.6v6.9h-45.6zM-13.3 90.4h15.5v6.9h-15.5zM47 90.4h38.1v6.9h-38.1zM197.8 90.4h136.1v6.9h-136.1zM-13.3 96.9h7.9v6.9h-7.9zM92.3 96.9h98.4v6.9h-98.4zM-13.3 103.4h7.9v6.9h-7.9z"/>
<path fill="#c4cfd5" d="M-28.4 -46.1h7.9v6.9h-7.9zM-5.7 5.9h7.9v6.9h-7.9zM1.8 90.4h45.6v6.9h-45.6zM-5.7 96.9h15.5v6.9h-15.5zM69.7 96.9h23v6.9h-23zM190.3 96.9h23v6.9h-23zM318.5 96.9h7.9v6.9h-7.9zM-5.7 103.4h15.5v6.9h-15.5zM-5.7 109.9h15.5v6.9h-15.5zM-5.7 116.4h15.5v6.9h-15.5zM1.8 122.9h7.9v6.9h-7.9zM1.8 129.4h7.9v6.9h-7.9zM1.8 135.9h7.9v6.9h-7.9zM9.3 155.4h7.9v6.9h-7.9z"/>
<path fill="#bdcbd7" d="M-13.3 -13.6h7.9v6.9h-7.9zM9.3 96.9h60.7v6.9h-60.7zM212.9 96.9h106v6.9h-106zM9.3 103.4h15.5v6.9h-15.5zM92.3 103.4h106v6.9h-106zM9.3 109.9h15.5v6.9h-15.5zM9.3 116.4h15.5v6.9h-15.5zM9.3 122.9h15.5v6.9h-15.5zM9.3 129.4h15.5v6.9h-15.5zM9.3 135.9h15.5v6.9h-15.5zM9.3 142.4h15.5v6.9h-15.5zM9.3 148.9h15.5v6.9h-15.5zM16.9 155.4h7.9v6.9h-7.9zM16.9 161.9h15.5v6.9h-15.5zM16.9 168.4h15.5v6.9h-15.5zM24.4 174.9h7.9v6.9h-7.9zM24.4 181.4h7.9v6.9h-7.9zM24.4 187.9h7.9v6.9h-7.9z"/>
<path fill="#b5c7da" d="M-20.8 -33.1h7.9v6.9h-7.9zM24.4 103.4h68.3v6.9h-68.3zM197.8 103.4h113.5v6.9h-113.5zM24.4 109.9h15.5v6.9h-15.5zM24.4 116.4h15.5v6.9h-15.5zM24.4 122.9h15.5v6.9h-15.5zM24.4 129.4h15.5v6.9h-15.5zM24.4 135.9h15.5v6.9h-15.5zM24.4 142.4h15.5v6.9h-15.5zM24.4 148.9h15.5v6.9h-15.5zM24.4 155.4h15.5v6.9h-15.5zM32 161.9h7.9v6.9h-7.9zM32 168.4h15.5v6.9h-15.5zM32 174.9h15.5v6.9h-15.5zM32 181.4h15.5v6.9h-15.5zM32 187.9h15.5v6.9h-15.5zM32 194.4h15.5v6.9h-15.5zM32 200.9h15.5v6.9h-15.5zM39.5 207.4h7.9v6.9h-7.9zM39.5 213.9h7.9v6.9h-7.9zM39.5 220.4h7.9v6.9h-7.9z"/>
<path fill="#adc2dc" d="M-5.7 -0.6h7.9v6.9h-7.9zM39.5 109.9h15.5v6.9h-15.5zM62.1 109.9h151.2v6.9h-151.2zM39.5 116.4h15.5v6.9h-15.5zM39.5 122.9h15.5v6.9h-15.5zM39.5 129.4h15.5v6.9h-15.5zM39.5 135.9h15.5v6.9h-15.5zM39.5 142.4h15.5v6.9h-15.5zM39.5 148.9h15.5v6.9h-15.5zM39.5 155.4h15.5v6.9h-15.5zM39.5 161.9h15.5v6.9h-15.5zM47 168.4h7.9v6.9h-7.9zM47 174.9h15.5v6.9h-15.5zM47 181.4h15.5v6.9h-15.5zM47 187.9h15.5v6.9h-15.5zM47 194.4h15.5v6.9h-15.5zM47 200.9h15.5v6.9h-15.5zM47 207.4h15.5v6.9h-15.5zM47 213.9h15.5v6.9h-15.5z"/>
<path fill="#a5bede" d="M-13.3 -20.1h7.9v6.9h-7.9zM54.6 109.9h7.9v6.9h-7.9zM212.9 109.9h83.3v6.9h-83.3zM54.6 116.4h15.5v6.9h-15.5zM99.8 116.4h98.4v6.9h-98.4zM54.6 122.9h15.5v6.9h-15.5zM54.6 129.4h15.5v6.9h-15.5zM54.6 135.9h15.5v6.9h-15.5zM54.6 142.4h15.5v6.9h-15.5zM54.6 148.9h15.5v6.9h-15.5zM54.6 155.4h23v6.9h-23zM54.6 161.9h23v6.9h-23zM54.6 168.4h23v6.9h-23zM62.1 174.9h15.5v6.9h-15.5zM62.1 181.4h15.5v6.9h-15.5zM62.1 187.9h15.5v6.9h-15.5zM62.1 194.4h15.5v6.9h-15.5zM62.1 200.9h15.5v6.9h-15.5zM62.1 207.4h15.5v6.9h-15.5z"/>
<path fill="#9db9e1" d="M-20.8 -39.6h7.9v6.9h-7.9zM69.7 116.4h30.6v6.9h-30.6zM197.8 116.4h83.3v6.9h-83.3zM69.7 122.9h23v6.9h-23zM99.8 122.9h98.4v6.9h-98.4zM69.7 129.4h23v6.9h-23zM69.7 135.9h23v6.9h-23zM69.7 142.4h23v6.9h-23zM69.7 148.9h23v6.9h-23zM77.2 155.4h15.5v6.9h-15.5zM77.2 161.9h15.5v6.9h-15.5zM77.2 168.4h15.5v6.9h-15.5zM77.2 174.9h15.5v6.9h-15.5zM77.2 181.4h23v6.9h-23zM77.2 187.9h23v6.9h-23zM77.2 194.4h23v6.9h-23zM77.2 200.9h15.5v6.9h-15.5z"/>
<path fill="#94b3e4" d="M160.1 -130.6h15.5v6.9h-15.5zM145.1 -124.1h38.1v6.9h-38.1zM145.1 -117.6h38.1v6.9h-38.1zM152.6 -111.1h30.6v6.9h-30.6zM152.6 -104.6h38.1v6.9h-38.1zM152.6 -98.1h38.1v6.9h-38.1zM160.1 -91.6h38.1v6.9h-38.1zM160.1 -85.1h38.1v6.9h-38.1zM167.7 -78.6h30.6v6.9h-30.6zM167.7 -72.1h38.1v6.9h-38.1zM167.7 -65.6h38.1v6.9h-38.1zM1.8 -59.1h7.9v6.9h-7.9zM175.2 -59.1h38.1v6.9h-38.1zM-13.3 -52.6h23v6.9h-23zM175.2 -52.6h38.1v6.9h-38.1zM-20.8 -46.1h30.6v6.9h-30.6zM182.8 -46.1h30.6v6.9h-30.6zM-13.3 -39.6h30.6v6.9h-30.6zM182.8 -39.6h38.1v6.9h-38.1zM-13.3 -33.1h30.6v6.9h-30.6zM182.8 -33.1h38.1v6.9h-38.1zM-13.3 -26.6h30.6v6.9h-30.6zM190.3 -26.6h30.6v6.9h-30.6zM-5.7 -20.1h30.6v6.9h-30.6zM190.3 -20.1h38.1v6.9h-38.1zM-5.7 -13.6h30.6v6.9h-30.6zM190.3 -13.6h38.1v6.9h-38.1zM-5.7 -7.1h38.1v6.9h-38.1zM197.8 -7.1h38.1v6.9h-38.1zM1.8 -0.6h30.6v6.9h-30.6zM197.8 -0.6h38.1v6.9h-38.1zM1.8 5.9h30.6v6.9h-30.6zM205.4 5.9h30.6v6.9h-30.6zM205.4 12.4h38.1v6.9h-38.1zM92.3 122.9h7.9v6.9h-7.9zM197.8 122.9h75.8v6.9h-75.8zM92.3 129.4h166.3v6.9h-166.3zM92.3 135.9h151.2v6.9h-151.2zM92.3 142.4h136.1v6.9h-136.1zM92.3 148.9h121v6.9h-121zM92.3 155.4h106v6.9h-106zM92.3 161.9h90.9v6.9h-90.9zM92.3 168.4h75.8v6.9h-75.8zM92.3 174.9h60.7v6.9h-60.7zM99.8 181.4h38.1v6.9h-38.1zM99.8 187.9h23v6.9h-23zM99.8 194.4h7.9v6.9h-7.9z"/>
<path fill="#8caee7" d="M182.8 -111.1h7.9v6.9h-7.9zM175.2 -46.1h7.9v6.9h-7.9zM16.9 -26.6h7.9v6.9h-7.9z"/>
<path fill="#84a9eb" d="M250.6 -52.6h7.9v6.9h-7.9zM220.5 -26.6h7.9v6.9h-7.9z"/>
<path fill="#7ba4ef" d="M107.4 -104.6h15.5v6.9h-15.5zM84.7 -98.1h7.9v6.9h-7.9zM114.9 -98.1h7.9v6.9h-7.9zM84.7 -91.6h15.5v6.9h-15.5zM114.9 -91.6h15.5v6.9h-15.5zM92.3 -85.1h7.9v6.9h-7.9zM114.9 -85.1h15.5v6.9h-15.5zM92.3 -78.6h15.5v6.9h-15.5zM122.4 -78.6h7.9v6.9h-7.9zM99.8 -72.1h7.9v6.9h-7.9zM122.4 -72.1h15.5v6.9h-15.5zM99.8 -65.6h7.9v6.9h-7.9zM130 -65.6h7.9v6.9h-7.9zM99.8 -59.1h15.5v6.9h-15.5zM130 -59.1h15.5v6.9h-15.5zM107.4 -52.6h7.9v6.9h-7.9zM130 -52.6h15.5v6.9h-15.5zM107.4 -46.1h15.5v6.9h-15.5zM137.5 -46.1h7.9v6.9h-7.9zM107.4 -39.6h15.5v6.9h-15.5zM137.5 -39.6h15.5v6.9h-15.5zM114.9 -33.1h7.9v6.9h-7.9zM137.5 -33.1h15.5v6.9h-15.5zM114.9 -26.6h15.5v6.9h-15.5zM145.1 -26.6h7.9v6.9h-7.9zM122.4 -20.1h7.9v6.9h-7.9zM145.1 -20.1h15.5v6.9h-15.5zM122.4 -13.6h7.9v6.9h-7.9zM152.6 -13.6h7.9v6.9h-7.9zM122.4 -7.1h15.5v6.9h-15.5zM152.6 -7.1h15.5v6.9h-15.5zM130 -0.6h7.9v6.9h-7.9zM152.6 -0.6h15.5v6.9h-15.5zM32 5.9h7.9v6.9h-7.9zM130 5.9h15.5v6.9h-15.5zM160.1 5.9h7.9v6.9h-7.9z"/>
<path fill="#729ef3" d="M175.2 -137.1h23v6.9h-23zM212.9 -137.1h7.9v6.9h-7.9zM175.2 -130.6h23v6.9h-23zM182.8 -124.1h23v6.9h-23zM182.8 -117.6h23v6.9h-23zM190.3 -111.1h15.5v6.9h-15.5zM190.3 -104.6h23v6.9h-23zM190.3 -98.1h23v6.9h-23zM197.8 -91.6h23v6.9h-23zM197.8 -85.1h23v6.9h-23zM197.8 -78.6h23v6.9h-23zM205.4 -72.1h23v6.9h-23zM205.4 -65.6h23v6.9h-23zM212.9 -59.1h15.5v6.9h-15.5zM212.9 -52.6h23v6.9h-23zM9.3 -46.1h7.9v6.9h-7.9zM212.9 -46.1h23v6.9h-23zM220.5 -39.6h23v6.9h-23zM220.5 -33.1h23v6.9h-23zM228 -26.6h15.5v6.9h-15.5zM228 -20.1h23v6.9h-23zM228 -13.6h23v6.9h-23zM235.5 -7.1h23v6.9h-23zM235.5 -0.6h23v6.9h-23zM235.5 5.9h23v6.9h-23zM243.1 12.4h7.9v6.9h-7.9z"/>
<path fill="#6899f7" d="M130 12.4h7.9v6.9h-7.9z"/>
<path fill="#5f95fb" d="M114.9 -111.1h7.9v6.9h-7.9zM92.3 -72.1h7.9v6.9h-7.9zM152.6 -26.6h7.9v6.9h-7.9zM24.4 -13.6h7.9v6.9h-7.9z"/>
<path fill="#5591ff" d="M92.3 -98.1h7.9v6.9h-7.9zM160.1 -78.6h7.9v6.9h-7.9zM122.4 -65.6h7.9v6.9h-7.9zM197.8 5.9h7.9v6.9h-7.9z"/>
<path fill="#4f88f3" d="M190.3 -143.6h7.9v6.9h-7.9zM228 -59.1h7.9v6.9h-7.9zM130 -13.6h7.9v6.9h-7.9z"/>
<path fill="#497fe7" d="M16.9 -65.6h7.9v6.9h-7.9zM9.3 -59.1h15.5v6.9h-15.5zM9.3 -52.6h23v6.9h-23zM16.9 -46.1h15.5v6.9h-15.5zM16.9 -39.6h15.5v6.9h-15.5zM16.9 -33.1h23v6.9h-23zM24.4 -26.6h15.5v6.9h-15.5zM24.4 -20.1h15.5v6.9h-15.5zM32 -13.6h15.5v6.9h-15.5zM32 -7.1h15.5v6.9h-15.5zM32 -0.6h23v6.9h-23zM39.5 5.9h15.5v6.9h-15.5z"/>
<path fill="#4276d9" d="M130 -78.6h7.9v6.9h-7.9zM39.5 -20.1h7.9v6.9h-7.9zM114.9 -20.1h7.9v6.9h-7.9z"/>
<path fill="#3b6ccb" d="M167.7 5.9h7.9v6.9h-7.9z"/>
<path fill="#3463bd" d="M130 -117.6h15.5v6.9h-15.5zM122.4 -111.1h30.6v6.9h-30.6zM205.4 -111.1h7.9v6.9h-7.9zM122.4 -104.6h30.6v6.9h-30.6zM122.4 -98.1h30.6v6.9h-30.6zM130 -91.6h30.6v6.9h-30.6zM130 -85.1h30.6v6.9h-30.6zM137.5 -78.6h23v6.9h-23zM137.5 -72.1h30.6v6.9h-30.6zM137.5 -65.6h30.6v6.9h-30.6zM145.1 -59.1h30.6v6.9h-30.6zM145.1 -52.6h30.6v6.9h-30.6zM145.1 -46.1h30.6v6.9h-30.6zM152.6 -39.6h30.6v6.9h-30.6zM152.6 -33.1h30.6v6.9h-30.6zM160.1 -26.6h30.6v6.9h-30.6zM160.1 -20.1h30.6v6.9h-30.6zM160.1 -13.6h30.6v6.9h-30.6zM167.7 -7.1h30.6v6.9h-30.6zM167.7 -0.6h30.6v6.9h-30.6zM175.2 5.9h23v6.9h-23zM190.3 12.4h15.5v6.9h-15.5z"/>
<path fill="#2d5aaf" d="M205.4 -150.1h7.9v6.9h-7.9zM197.8 -143.6h15.5v6.9h-15.5zM197.8 -137.1h15.5v6.9h-15.5zM197.8 -130.6h23v6.9h-23zM205.4 -124.1h15.5v6.9h-15.5zM205.4 -117.6h23v6.9h-23zM212.9 -111.1h15.5v6.9h-15.5zM212.9 -104.6h15.5v6.9h-15.5zM212.9 -98.1h23v6.9h-23zM220.5 -91.6h15.5v6.9h-15.5zM220.5 -85.1h23v6.9h-23zM220.5 -78.6h23v6.9h-23zM228 -72.1h15.5v6.9h-15.5zM228 -65.6h23v6.9h-23zM235.5 -59.1h15.5v6.9h-15.5zM235.5 -52.6h15.5v6.9h-15.5zM235.5 -46.1h23v6.9h-23zM243.1 -39.6h15.5v6.9h-15.5zM243.1 -33.1h23v6.9h-23zM243.1 -26.6h23v6.9h-23zM250.6 -20.1h15.5v6.9h-15.5zM145.1 -13.6h7.9v6.9h-7.9zM250.6 -13.6h23v6.9h-23zM258.2 -7.1h15.5v6.9h-15.5zM258.2 -0.6h23v6.9h-23zM258.2 5.9h23v6.9h-23z"/>
<path fill="#2651a4" d="M107.4 -98.1h7.9v6.9h-7.9zM107.4 -65.6h7.9v6.9h-7.9zM32 -39.6h7.9v6.9h-7.9z"/>
<path fill="#1f4999" d="M99.8 -104.6h7.9v6.9h-7.9zM99.8 -98.1h7.9v6.9h-7.9zM99.8 -91.6h15.5v6.9h-15.5zM99.8 -85.1h15.5v6.9h-15.5zM107.4 -78.6h15.5v6.9h-15.5zM107.4 -72.1h15.5v6.9h-15.5zM114.9 -65.6h7.9v6.9h-7.9zM114.9 -59.1h15.5v6.9h-15.5zM99.8 -52.6h7.9v6.9h-7.9zM114.9 -52.6h15.5v6.9h-15.5zM122.4 -46.1h15.5v6.9h-15.5zM122.4 -39.6h15.5v6.9h-15.5zM122.4 -33.1h15.5v6.9h-15.5zM130 -26.6h15.5v6.9h-15.5zM130 -20.1h15.5v6.9h-15.5zM137.5 -13.6h7.9v6.9h-7.9zM137.5 -7.1h15.5v6.9h-15.5zM137.5 -0.6h15.5v6.9h-15.5zM145.1 5.9h15.5v6.9h-15.5z"/>
<path fill="#1a418f" d="M32 -72.1h15.5v6.9h-15.5zM24.4 -65.6h23v6.9h-23zM24.4 -59.1h23v6.9h-23zM32 -52.6h23v6.9h-23zM32 -46.1h23v6.9h-23zM39.5 -39.6h23v6.9h-23zM39.5 -33.1h23v6.9h-23zM39.5 -26.6h23v6.9h-23zM47 -20.1h23v6.9h-23zM47 -13.6h23v6.9h-23zM47 -7.1h30.6v6.9h-30.6zM54.6 -0.6h23v6.9h-23zM54.6 5.9h23v6.9h-23z"/>
<path fill="#153984" d="M47 -59.1h7.9v6.9h-7.9z"/>
<path fill="#10327a" d="M62.1 -26.6h7.9v6.9h-7.9z"/>
<path fill="#0a2b70" d="M77.2 5.9h7.9v6.9h-7.9z"/>
<path fill="#062567" d="M84.7 -85.1h7.9v6.9h-7.9zM122.4 -0.6h7.9v6.9h-7.9z"/>
<path fill="#022060" d="M69.7 -91.6h15.5v6.9h-15.5zM62.1 -85.1h23v6.9h-23zM47 -78.6h45.6v6.9h-45.6zM47 -72.1h45.6v6.9h-45.6zM47 -65.6h53.2v6.9h-53.2zM54.6 -59.1h45.6v6.9h-45.6zM54.6 -52.6h45.6v6.9h-45.6zM54.6 -46.1h53.2v6.9h-53.2zM62.1 -39.6h45.6v6.9h-45.6zM62.1 -33.1h53.2v6.9h-53.2zM69.7 -26.6h45.6v6.9h-45.6zM69.7 -20.1h45.6v6.9h-45.6zM69.7 -13.6h53.2v6.9h-53.2zM77.2 -7.1h45.6v6.9h-45.6zM77.2 -0.6h45.6v6.9h-45.6zM84.7 5.9h45.6v6.9h-45.6zM92.3 12.4h7.9v6.9h-7.9zM122.4 12.4h7.9v6.9h-7.9z"/>
</g>
<rect x="1880" y="149.5" width="30" height="9.5" fill="#9db9e1"/>
<rect x="1911" y="138" width="16" height="17" fill="#c4cfd5"/>
<rect x="1895" y="138" width="16" height="11.5" fill="#cdd5d2"/>
<rect x="2003.5" y="138" width="29.5" height="20" fill="#bdcbd7"/>
<rect x="2018" y="158" width="15" height="8" fill="#c4cfd5"/>
<rect x="2063.8" y="143" width="14.7" height="30.6" fill="#b5c7da"/>
<rect x="2049" y="158" width="15" height="17" fill="#cdd5d2"/>
<rect x="2105" y="152" width="16" height="24" fill="#8caee7"/>
<rect x="2121" y="158" width="15" height="22" fill="#cdd5d2"/>
<rect x="2136" y="160" width="16" height="18" fill="#94b3e4"/>
<rect x="2152" y="165" width="28" height="30" fill="#cdd5d2"/>
<rect x="2145.5" y="181.6" width="19.5" height="24.1" fill="#c4cfd5"/>
<rect x="2156" y="200" width="24" height="38" fill="#d7dbcf"/>
<rect x="2180" y="170" width="27" height="19.6" fill="#bdcbd7"/>
<rect x="2207" y="175" width="48" height="16" fill="#94b3e4"/>
<rect x="2255" y="175" width="29.7" height="17" fill="#5f95fb"/>
<rect x="2266" y="192" width="16" height="15" fill="#5f95fb"/>
<rect x="2284.7" y="180" width="41.3" height="20" fill="#dddecc"/>
<rect x="2326" y="186" width="19" height="38.4" fill="#729ef3"/>
<rect x="2345" y="192" width="14.7" height="40.5" fill="#c4cfd5"/>
<rect x="2266" y="208" width="34" height="14" fill="#bdcbd7"/>
<rect x="2300" y="212" width="36" height="20.5" fill="#a5bede"/>
<rect x="2370" y="198" width="19" height="26" fill="#bdcbd7"/>
<rect x="2389" y="213.7" width="31" height="16.1" fill="#94b3e4"/>
<rect x="2385.7" y="199" width="14.3" height="14.7" fill="#94b3e4"/>
<rect x="2400" y="200" width="14" height="13" fill="#c4cfd5"/>
<rect x="2414" y="205" width="16" height="30.8" fill="#a5bede"/>
<rect x="2430" y="205" width="15" height="17" fill="#7ba4ef"/>
<rect x="2445" y="203" width="21" height="32.8" fill="#5f95fb"/>
<rect x="2430" y="222" width="15" height="14" fill="#729ef3"/>
<rect x="2466" y="206" width="22.7" height="34" fill="#c4cfd5"/>
<rect x="2488.7" y="209" width="34.3" height="23" fill="#84a9eb"/>
<rect x="2488.7" y="232" width="21.3" height="18" fill="#84a9eb"/>
<rect x="2523" y="214" width="11.5" height="39" fill="#c4cfd5"/>
<rect x="2534.5" y="216" width="17.1" height="37" fill="#9db9e1"/>
<rect x="2551.6" y="222" width="28.4" height="28" fill="#c4cfd5"/>
<rect x="2580" y="232" width="20" height="30" fill="#cdd5d2"/>
<rect x="2600" y="276" width="13" height="16" fill="#729ef3"/>
<rect x="2608" y="290" width="13" height="18" fill="#7ba4ef"/>
<rect x="2606" y="250" width="17" height="20" fill="#eeb184"/>
<rect x="2639" y="310" width="18.5" height="46" fill="#94b3e4"/>
<rect x="2637.5" y="298.8" width="8.5" height="28.6" fill="#eeb184"/>
<rect x="2654.6" y="318.8" width="14.4" height="25.7" fill="#eeb184"/>
<rect x="2666" y="341.7" width="13" height="14.3" fill="#8caee7"/>
<rect x="2620" y="262" width="17" height="38" fill="#cdd5d2"/>
<polygon points="2763.4,366 2809,378 2824.4,391.7 2819,411.3 2780.5,392.7 2763.4,380" fill="#022060"/>
<polygon points="2746,387.4 2792,398.9 2817.7,416 2814.8,425.6 2797.7,425.6 2757.6,408.5 2744.8,397" fill="#7c1e03"/>
</g>
<path d="M1686.6 138.4L1686.6 561L3046.4 561M1762.5 561v14M1913.3 561v14M2064.2 561v14M2215 561v14M2365.9 561v14M2516.7 561v14M2667.5 561v14M2818.4 561v14M2969.2 561v14M1686.6 138.4h-14M1686.6 213.8h-14M1686.6 289.2h-14M1686.6 364.6h-14M1686.6 440h-14M1686.6 515.4h-14" stroke="#262626" stroke-width="2.1" fill="none" stroke-linecap="butt"/>
<text x="1762.5" y="629" font-size="37.5" text-anchor="middle" fill="#262626">0</text>
<text x="1913.3" y="629" font-size="37.5" text-anchor="middle" fill="#262626">10</text>
<text x="2064.2" y="629" font-size="37.5" text-anchor="middle" fill="#262626">20</text>
<text x="2215" y="629" font-size="37.5" text-anchor="middle" fill="#262626">30</text>
<text x="2365.9" y="629" font-size="37.5" text-anchor="middle" fill="#262626">40</text>
<text x="2516.7" y="629" font-size="37.5" text-anchor="middle" fill="#262626">50</text>
<text x="2667.5" y="629" font-size="37.5" text-anchor="middle" fill="#262626">60</text>
<text x="2818.4" y="629" font-size="37.5" text-anchor="middle" fill="#262626">70</text>
<text x="2969.2" y="629" font-size="37.5" text-anchor="middle" fill="#262626">80</text>
<text x="1656.6" y="153.9" font-size="37.5" text-anchor="end" fill="#262626">0</text>
<text x="1656.6" y="229.3" font-size="37.5" text-anchor="end" fill="#262626">-5</text>
<text x="1656.6" y="304.7" font-size="37.5" text-anchor="end" fill="#262626">-10</text>
<text x="1656.6" y="380.1" font-size="37.5" text-anchor="end" fill="#262626">-15</text>
<text x="1656.6" y="455.5" font-size="37.5" text-anchor="end" fill="#262626">-20</text>
<text x="1656.6" y="530.9" font-size="37.5" text-anchor="end" fill="#262626">-25</text>
<path d="M2098.2 151.8L2098.2 561" stroke="#000" stroke-width="3.4" fill="none"/>
<path d="M2068.1 195.5L2128.3 195.5" stroke="#fff" stroke-width="3.2" fill="none"/>
<path d="M2068.1 209.4L2128.3 209.4" stroke="#000" stroke-width="3.2" fill="none"/>
<path d="M2529.5 211.2L2529.5 467.4" stroke="#000" stroke-width="3.4" fill="none"/>
<path d="M2499.8 258.9L2559.2 258.9" stroke="#fff" stroke-width="3.2" fill="none"/>
<path d="M2499.8 284.4L2559.2 284.4" stroke="#000" stroke-width="3.2" fill="none"/>
<text x="2153.6" y="135.3" font-size="37.5" text-anchor="middle" fill="#000">STO-6000</text>
<text x="2540" y="195.5" font-size="37.5" text-anchor="middle" fill="#000">STO-6100</text>
<text x="1945.8" y="218.8" font-size="37.5" text-anchor="start" fill="#000">-0.9</text>
<text x="2376.5" y="284.8" font-size="37.5" text-anchor="start" fill="#000">-1.7</text>
<text y="52.7" font-weight="bold" fill="#000"><tspan x="1688.5" font-size="45">STO </tspan><tspan x="1808.2" font-size="50">07-09-2017 / 02-09-2005</tspan></text>
<text y="66.1" font-size="45.2" fill="#000"><tspan x="2579.3" letter-spacing="1.8">Err. </tspan><tspan x="2671">6.6 %</tspan></text>
<g clip-path="url(#c4)">
<rect x="1684.6" y="865.6" width="1338.4" height="396.2" fill="#dddecc"/>
<g shape-rendering="crispEdges">
<path fill="#eeb184" d="M2223.6 1016h6.4v5.4h-6.4zM2223.6 1021h18.5v5.4h-18.5z"/>
<path fill="#ecb88e" d="M2217.5 1016h6.4v5.4h-6.4zM2229.6 1016h12.5v5.4h-12.5zM2217.5 1021h6.4v5.4h-6.4zM2241.7 1021h12.5v5.4h-12.5zM2223.6 1026h42.7v5.4h-42.7zM2247.7 1031h24.6v5.4h-24.6zM2259.8 1036h30.6v5.4h-30.6zM2320.2 1036h18.5v5.4h-18.5zM2271.9 1041h30.6v5.4h-30.6zM2308.1 1041h24.6v5.4h-24.6zM2284 1046h36.6v5.4h-36.6zM2302.1 1051h6.4v5.4h-6.4z"/>
<path fill="#e9be99" d="M2217.5 1011h18.5v5.4h-18.5zM2211.5 1016h6.4v5.4h-6.4zM2241.7 1016h12.5v5.4h-12.5zM2211.5 1021h6.4v5.4h-6.4zM2253.8 1021h6.4v5.4h-6.4zM2217.5 1026h6.4v5.4h-6.4zM2265.8 1026h6.4v5.4h-6.4zM2223.6 1031h24.6v5.4h-24.6zM2271.9 1031h12.5v5.4h-12.5zM2326.2 1031h42.7v5.4h-42.7zM2253.8 1036h6.4v5.4h-6.4zM2290 1036h12.5v5.4h-12.5zM2308.1 1036h12.5v5.4h-12.5zM2338.3 1036h18.5v5.4h-18.5zM2259.8 1041h12.5v5.4h-12.5zM2302.1 1041h6.4v5.4h-6.4zM2332.3 1041h12.5v5.4h-12.5zM2271.9 1046h12.5v5.4h-12.5zM2320.2 1046h12.5v5.4h-12.5zM2290 1051h12.5v5.4h-12.5zM2308.1 1051h12.5v5.4h-12.5z"/>
<path fill="#e6c4a3" d="M2205.4 1011h12.5v5.4h-12.5zM2235.6 1011h12.5v5.4h-12.5zM2205.4 1016h6.4v5.4h-6.4zM2253.8 1016h6.4v5.4h-6.4zM2205.4 1021h6.4v5.4h-6.4zM2259.8 1021h6.4v5.4h-6.4zM2211.5 1026h6.4v5.4h-6.4zM2271.9 1026h6.4v5.4h-6.4zM2332.3 1026h48.7v5.4h-48.7zM2217.5 1031h6.4v5.4h-6.4zM2284 1031h12.5v5.4h-12.5zM2314.2 1031h12.5v5.4h-12.5zM2368.5 1031h24.6v5.4h-24.6zM2241.7 1036h12.5v5.4h-12.5zM2302.1 1036h6.4v5.4h-6.4zM2356.4 1036h42.7v5.4h-42.7zM2253.8 1041h6.4v5.4h-6.4zM2344.4 1041h12.5v5.4h-12.5zM2265.8 1046h6.4v5.4h-6.4zM2332.3 1046h6.4v5.4h-6.4zM2277.9 1051h12.5v5.4h-12.5zM2320.2 1051h6.4v5.4h-6.4zM2296 1056h18.5v5.4h-18.5z"/>
<path fill="#e4caac" d="M2205.4 1006h30.6v5.4h-30.6zM2247.7 1011h6.4v5.4h-6.4zM2265.8 1021h6.4v5.4h-6.4zM2338.3 1021h42.7v5.4h-42.7zM2205.4 1026h6.4v5.4h-6.4zM2277.9 1026h6.4v5.4h-6.4zM2320.2 1026h12.5v5.4h-12.5zM2380.6 1026h18.5v5.4h-18.5zM2296 1031h6.4v5.4h-6.4zM2308.1 1031h6.4v5.4h-6.4zM2392.7 1031h18.5v5.4h-18.5zM2223.6 1036h18.5v5.4h-18.5zM2398.7 1036h24.6v5.4h-24.6zM2356.4 1041h72.9v5.4h-72.9zM2259.8 1046h6.4v5.4h-6.4zM2338.3 1046h12.5v5.4h-12.5zM2404.8 1046h30.6v5.4h-30.6zM2271.9 1051h6.4v5.4h-6.4zM2326.2 1051h6.4v5.4h-6.4zM2422.9 1051h18.5v5.4h-18.5zM2284 1056h12.5v5.4h-12.5zM2314.2 1056h6.4v5.4h-6.4zM2435 1056h12.5v5.4h-12.5z"/>
<path fill="#e2cfb4" d="M2217.5 1001h6.4v5.4h-6.4zM2199.4 1006h6.4v5.4h-6.4zM2235.6 1006h12.5v5.4h-12.5zM2199.4 1011h6.4v5.4h-6.4zM2253.8 1011h6.4v5.4h-6.4zM2199.4 1016h6.4v5.4h-6.4zM2259.8 1016h6.4v5.4h-6.4zM2356.4 1016h18.5v5.4h-18.5zM2199.4 1021h6.4v5.4h-6.4zM2271.9 1021h6.4v5.4h-6.4zM2326.2 1021h12.5v5.4h-12.5zM2380.6 1021h12.5v5.4h-12.5zM2284 1026h12.5v5.4h-12.5zM2314.2 1026h6.4v5.4h-6.4zM2398.7 1026h6.4v5.4h-6.4zM2211.5 1031h6.4v5.4h-6.4zM2302.1 1031h6.4v5.4h-6.4zM2410.8 1031h12.5v5.4h-12.5zM2217.5 1036h6.4v5.4h-6.4zM2422.9 1036h6.4v5.4h-6.4zM2241.7 1041h12.5v5.4h-12.5zM2428.9 1041h6.4v5.4h-6.4zM2253.8 1046h6.4v5.4h-6.4zM2350.4 1046h12.5v5.4h-12.5zM2374.6 1046h30.6v5.4h-30.6zM2435 1046h6.4v5.4h-6.4zM2265.8 1051h6.4v5.4h-6.4zM2332.3 1051h12.5v5.4h-12.5zM2404.8 1051h18.5v5.4h-18.5zM2441 1051h6.4v5.4h-6.4zM2277.9 1056h6.4v5.4h-6.4zM2320.2 1056h6.4v5.4h-6.4zM2422.9 1056h12.5v5.4h-12.5zM2447 1056h6.4v5.4h-6.4zM2296 1061h18.5v5.4h-18.5zM2435 1061h18.5v5.4h-18.5zM2441 1066h12.5v5.4h-12.5zM2447 1071h6.4v5.4h-6.4z"/>
<path fill="#e1d4bc" d="M2199.4 1001h18.5v5.4h-18.5zM2223.6 1001h12.5v5.4h-12.5zM2247.7 1006h6.4v5.4h-6.4zM2259.8 1011h6.4v5.4h-6.4zM2265.8 1016h6.4v5.4h-6.4zM2332.3 1016h24.6v5.4h-24.6zM2374.6 1016h12.5v5.4h-12.5zM2277.9 1021h12.5v5.4h-12.5zM2320.2 1021h6.4v5.4h-6.4zM2392.7 1021h12.5v5.4h-12.5zM2199.4 1026h6.4v5.4h-6.4zM2296 1026h18.5v5.4h-18.5zM2404.8 1026h12.5v5.4h-12.5zM2205.4 1031h6.4v5.4h-6.4zM2422.9 1031h6.4v5.4h-6.4zM2211.5 1036h6.4v5.4h-6.4zM2428.9 1036h6.4v5.4h-6.4zM2223.6 1041h18.5v5.4h-18.5zM2435 1041h6.4v5.4h-6.4zM2247.7 1046h6.4v5.4h-6.4zM2362.5 1046h12.5v5.4h-12.5zM2441 1046h6.4v5.4h-6.4zM2259.8 1051h6.4v5.4h-6.4zM2344.4 1051h12.5v5.4h-12.5zM2386.6 1051h18.5v5.4h-18.5zM2447 1051h6.4v5.4h-6.4zM2271.9 1056h6.4v5.4h-6.4zM2326.2 1056h6.4v5.4h-6.4zM2410.8 1056h12.5v5.4h-12.5zM2284 1061h12.5v5.4h-12.5zM2314.2 1061h6.4v5.4h-6.4zM2428.9 1061h6.4v5.4h-6.4zM2453.1 1061h6.4v5.4h-6.4zM2302.1 1066h6.4v5.4h-6.4zM2435 1066h6.4v5.4h-6.4zM2453.1 1066h6.4v5.4h-6.4zM2441 1071h6.4v5.4h-6.4zM2453.1 1071h6.4v5.4h-6.4zM2447 1076h6.4v5.4h-6.4z"/>
<path fill="#dfdac5" d="M1758.5 951h6.4v5.4h-6.4zM1758.5 956h66.8v5.4h-66.8zM1758.5 961h121.2v5.4h-121.2zM1764.5 966h169.5v5.4h-169.5zM1770.6 971h199.7v5.4h-199.7zM1776.6 976h217.8v5.4h-217.8zM1782.6 981h236v5.4h-236zM1788.7 986h254.1v5.4h-254.1zM1794.7 991h260.1v5.4h-260.1zM1800.8 996h266.2v5.4h-266.2zM2205.4 996h24.6v5.4h-24.6zM1812.8 1001h266.2v5.4h-266.2zM2235.6 1001h12.5v5.4h-12.5zM1824.9 1006h266.2v5.4h-266.2zM2193.4 1006h6.4v5.4h-6.4zM2253.8 1006h6.4v5.4h-6.4zM1837 1011h266.2v5.4h-266.2zM2193.4 1011h6.4v5.4h-6.4zM2265.8 1011h6.4v5.4h-6.4zM2344.4 1011h36.6v5.4h-36.6zM1849.1 1016h260.1v5.4h-260.1zM2193.4 1016h6.4v5.4h-6.4zM2271.9 1016h6.4v5.4h-6.4zM2326.2 1016h6.4v5.4h-6.4zM2386.6 1016h12.5v5.4h-12.5zM1861.2 1021h260.1v5.4h-260.1zM2193.4 1021h6.4v5.4h-6.4zM2290 1021h12.5v5.4h-12.5zM2314.2 1021h6.4v5.4h-6.4zM2404.8 1021h12.5v5.4h-12.5zM1873.2 1026h254.1v5.4h-254.1zM2416.8 1026h12.5v5.4h-12.5zM1885.3 1031h236v5.4h-236zM2199.4 1031h6.4v5.4h-6.4zM2428.9 1031h6.4v5.4h-6.4zM1897.4 1036h205.8v5.4h-205.8zM2205.4 1036h6.4v5.4h-6.4zM2435 1036h6.4v5.4h-6.4zM1909.5 1041h187.6v5.4h-187.6zM2217.5 1041h6.4v5.4h-6.4zM2441 1041h6.4v5.4h-6.4zM1921.6 1046h169.5v5.4h-169.5zM2235.6 1046h12.5v5.4h-12.5zM2447 1046h6.4v5.4h-6.4zM1939.7 1051h139.3v5.4h-139.3zM2253.8 1051h6.4v5.4h-6.4zM2356.4 1051h30.6v5.4h-30.6zM1975.9 1056h18.5v5.4h-18.5zM2265.8 1056h6.4v5.4h-6.4zM2332.3 1056h18.5v5.4h-18.5zM2392.7 1056h18.5v5.4h-18.5zM2453.1 1056h6.4v5.4h-6.4zM2271.9 1061h12.5v5.4h-12.5zM2320.2 1061h12.5v5.4h-12.5zM2416.8 1061h12.5v5.4h-12.5zM2290 1066h12.5v5.4h-12.5zM2308.1 1066h6.4v5.4h-6.4zM2428.9 1066h6.4v5.4h-6.4zM2435 1071h6.4v5.4h-6.4zM2441 1076h6.4v5.4h-6.4zM2453.1 1076h6.4v5.4h-6.4zM2453.1 1081h6.4v5.4h-6.4z"/>
<path fill="#d7dbcf" d="M1758.5 906h6.4v5.4h-6.4zM1770.6 911h6.4v5.4h-6.4zM1776.6 916h6.4v5.4h-6.4zM1788.7 931h6.4v5.4h-6.4zM1800.8 931h6.4v5.4h-6.4zM1867.2 931h48.7v5.4h-48.7zM1794.7 936h6.4v5.4h-6.4zM1812.8 936h6.4v5.4h-6.4zM1861.2 936h6.4v5.4h-6.4zM1927.6 936h12.5v5.4h-12.5zM1806.8 941h6.4v5.4h-6.4zM1818.9 941h6.4v5.4h-6.4zM1915.5 941h12.5v5.4h-12.5zM1812.8 946h12.5v5.4h-12.5zM1939.7 946h12.5v5.4h-12.5zM2000.1 951h6.4v5.4h-6.4zM2054.4 961h6.4v5.4h-6.4zM2084.6 971h6.4v5.4h-6.4zM2114.8 976h6.4v5.4h-6.4zM2151.1 981h6.4v5.4h-6.4zM2090.7 986h6.4v5.4h-6.4zM2120.9 991h6.4v5.4h-6.4zM2157.1 996h6.4v5.4h-6.4zM2555.8 1046h6.4v5.4h-6.4zM2483.3 1061h6.4v5.4h-6.4zM2519.5 1061h6.4v5.4h-6.4zM2592 1061h6.4v5.4h-6.4zM2694.7 1066h6.4v5.4h-6.4zM2622.2 1071h6.4v5.4h-6.4zM2682.6 1071h6.4v5.4h-6.4zM2712.8 1071h6.4v5.4h-6.4zM2567.8 1076h6.4v5.4h-6.4zM2652.4 1076h18.5v5.4h-18.5zM2737 1076h24.6v5.4h-24.6zM2579.9 1081h6.4v5.4h-6.4zM2773.2 1081h6.4v5.4h-6.4zM2694.7 1086h12.5v5.4h-12.5zM2797.4 1086h12.5v5.4h-12.5zM2676.6 1091h6.4v5.4h-6.4zM2712.8 1091h6.4v5.4h-6.4zM2821.5 1091h6.4v5.4h-6.4zM2743 1096h12.5v5.4h-12.5zM2839.6 1096h6.4v5.4h-6.4zM2767.2 1101h6.4v5.4h-6.4zM2785.3 1106h12.5v5.4h-12.5zM2857.8 1106h6.4v5.4h-6.4zM2863.8 1111h6.4v5.4h-6.4zM2833.6 1116h6.4v5.4h-6.4zM2845.7 1121h6.4v5.4h-6.4zM2845.7 1126h12.5v5.4h-12.5zM2839.6 1131h24.6v5.4h-24.6zM2773.2 1136h24.6v5.4h-24.6zM2827.6 1136h24.6v5.4h-24.6zM2773.2 1141h24.6v5.4h-24.6zM2821.5 1141h24.6v5.4h-24.6zM2773.2 1146h24.6v5.4h-24.6zM2815.5 1146h24.6v5.4h-24.6zM2815.5 1151h24.6v5.4h-24.6zM2815.5 1156h24.6v5.4h-24.6zM2815.5 1161h24.6v5.4h-24.6zM2815.5 1166h24.6v5.4h-24.6zM2815.5 1171h24.6v5.4h-24.6zM2815.5 1176h24.6v5.4h-24.6zM2821.5 1181h24.6v5.4h-24.6zM2821.5 1186h24.6v5.4h-24.6zM2821.5 1191h24.6v5.4h-24.6zM2821.5 1196h24.6v5.4h-24.6zM2821.5 1201h24.6v5.4h-24.6zM2821.5 1206h24.6v5.4h-24.6zM2821.5 1211h24.6v5.4h-24.6zM2821.5 1216h24.6v5.4h-24.6zM2821.5 1221h24.6v5.4h-24.6zM2821.5 1226h24.6v5.4h-24.6zM2821.5 1231h30.6v5.4h-30.6zM2821.5 1236h30.6v5.4h-30.6zM2827.6 1241h24.6v5.4h-24.6zM2827.6 1246h24.6v5.4h-24.6zM2827.6 1251h24.6v5.4h-24.6zM2827.6 1256h24.6v5.4h-24.6zM2827.6 1261h24.6v5.4h-24.6z"/>
<path fill="#cdd5d2" d="M1752.4 906h6.4v5.4h-6.4zM1752.4 911h18.5v5.4h-18.5zM1764.5 916h12.5v5.4h-12.5zM1776.6 921h12.5v5.4h-12.5zM1782.6 926h12.5v5.4h-12.5zM1794.7 931h6.4v5.4h-6.4zM1800.8 936h12.5v5.4h-12.5zM1867.2 936h60.8v5.4h-60.8zM1812.8 941h6.4v5.4h-6.4zM1927.6 941h18.5v5.4h-18.5zM2012.2 951h6.4v5.4h-6.4zM2030.3 951h6.4v5.4h-6.4zM2030.3 961h6.4v5.4h-6.4zM2048.4 961h6.4v5.4h-6.4zM2066.5 966h6.4v5.4h-6.4zM2108.8 976h6.4v5.4h-6.4zM2072.6 981h6.4v5.4h-6.4zM2145 981h6.4v5.4h-6.4zM2163.2 986h6.4v5.4h-6.4zM2126.9 991h6.4v5.4h-6.4zM2513.5 1036h6.4v5.4h-6.4zM2543.7 1041h6.4v5.4h-6.4zM2477.2 1061h6.4v5.4h-6.4zM2525.6 1061h6.4v5.4h-6.4zM2549.7 1066h6.4v5.4h-6.4zM2604.1 1066h6.4v5.4h-6.4zM2616.2 1071h6.4v5.4h-6.4zM2688.6 1071h6.4v5.4h-6.4zM2700.7 1071h12.5v5.4h-12.5zM2640.3 1076h12.5v5.4h-12.5zM2670.5 1076h12.5v5.4h-12.5zM2718.8 1076h18.5v5.4h-18.5zM2767.2 1081h6.4v5.4h-6.4zM2598 1086h6.4v5.4h-6.4zM2682.6 1086h12.5v5.4h-12.5zM2706.8 1086h6.4v5.4h-6.4zM2791.3 1086h6.4v5.4h-6.4zM2646.4 1091h30.6v5.4h-30.6zM2718.8 1091h18.5v5.4h-18.5zM2755.1 1096h6.4v5.4h-6.4zM2797.4 1106h6.4v5.4h-6.4zM2821.5 1111h6.4v5.4h-6.4zM2857.8 1126h12.5v5.4h-12.5zM2863.8 1131h6.4v5.4h-6.4zM2851.7 1136h18.5v5.4h-18.5zM2845.7 1141h24.6v5.4h-24.6zM2839.6 1146h30.6v5.4h-30.6zM2839.6 1151h30.6v5.4h-30.6zM2839.6 1156h30.6v5.4h-30.6zM2839.6 1161h30.6v5.4h-30.6zM2839.6 1166h30.6v5.4h-30.6zM2839.6 1171h30.6v5.4h-30.6zM2839.6 1176h30.6v5.4h-30.6zM2845.7 1181h24.6v5.4h-24.6zM2845.7 1186h24.6v5.4h-24.6zM2845.7 1191h24.6v5.4h-24.6zM2845.7 1196h24.6v5.4h-24.6zM2845.7 1201h24.6v5.4h-24.6zM2845.7 1206h24.6v5.4h-24.6zM2845.7 1211h24.6v5.4h-24.6zM2845.7 1216h24.6v5.4h-24.6zM2845.7 1221h24.6v5.4h-24.6zM2845.7 1226h24.6v5.4h-24.6zM2851.7 1231h18.5v5.4h-18.5zM2851.7 1236h18.5v5.4h-18.5zM2851.7 1241h18.5v5.4h-18.5zM2851.7 1246h18.5v5.4h-18.5zM2851.7 1251h18.5v5.4h-18.5zM2851.7 1256h18.5v5.4h-18.5zM2851.7 1261h18.5v5.4h-18.5z"/>
<path fill="#c4cfd5" d="M2006.1 946h18.5v5.4h-18.5zM2006.1 951h6.4v5.4h-6.4zM2018.2 951h12.5v5.4h-12.5zM2024.2 956h6.4v5.4h-6.4zM2036.3 956h6.4v5.4h-6.4zM2048.4 971h6.4v5.4h-6.4zM2078.6 971h6.4v5.4h-6.4zM2060.5 976h6.4v5.4h-6.4zM2102.8 976h6.4v5.4h-6.4zM2133 991h6.4v5.4h-6.4zM2163.2 991h6.4v5.4h-6.4zM2507.4 1036h6.4v5.4h-6.4zM2477.2 1046h6.4v5.4h-6.4zM2477.2 1051h6.4v5.4h-6.4zM2477.2 1056h6.4v5.4h-6.4zM2495.4 1056h6.4v5.4h-6.4zM2573.9 1056h6.4v5.4h-6.4zM2586 1061h6.4v5.4h-6.4zM2694.7 1071h6.4v5.4h-6.4zM2634.3 1076h6.4v5.4h-6.4zM2682.6 1076h36.6v5.4h-36.6zM2586 1081h6.4v5.4h-6.4zM2640.3 1081h109.1v5.4h-109.1zM2761.1 1081h6.4v5.4h-6.4zM2640.3 1086h42.7v5.4h-42.7zM2712.8 1086h36.6v5.4h-36.6zM2779.2 1086h12.5v5.4h-12.5zM2616.2 1091h12.5v5.4h-12.5zM2634.3 1091h12.5v5.4h-12.5zM2737 1091h12.5v5.4h-12.5zM2815.5 1091h6.4v5.4h-6.4zM2833.6 1096h6.4v5.4h-6.4zM2773.2 1101h6.4v5.4h-6.4zM2845.7 1101h6.4v5.4h-6.4zM2803.4 1106h12.5v5.4h-12.5zM2851.7 1106h6.4v5.4h-6.4zM2857.8 1111h6.4v5.4h-6.4zM2839.6 1116h6.4v5.4h-6.4zM2863.8 1116h6.4v5.4h-6.4zM2851.7 1121h18.5v5.4h-18.5z"/>
<path fill="#bdcbd7" d="M2030.3 956h6.4v5.4h-6.4zM2036.3 961h12.5v5.4h-12.5zM2042.4 966h6.4v5.4h-6.4zM2139 981h6.4v5.4h-6.4zM2096.7 986h6.4v5.4h-6.4zM2139 991h6.4v5.4h-6.4zM2489.3 1036h6.4v5.4h-6.4zM2501.4 1036h6.4v5.4h-6.4zM2537.6 1041h6.4v5.4h-6.4zM2561.8 1051h6.4v5.4h-6.4zM2489.3 1056h6.4v5.4h-6.4zM2531.6 1061h6.4v5.4h-6.4zM2598 1066h6.4v5.4h-6.4zM2628.2 1076h6.4v5.4h-6.4zM2634.3 1081h6.4v5.4h-6.4zM2749 1081h12.5v5.4h-12.5zM2604.1 1086h6.4v5.4h-6.4zM2634.3 1086h6.4v5.4h-6.4zM2749 1086h12.5v5.4h-12.5zM2767.2 1086h12.5v5.4h-12.5zM2628.2 1091h6.4v5.4h-6.4zM2749 1091h12.5v5.4h-12.5zM2797.4 1091h18.5v5.4h-18.5zM2761.1 1096h12.5v5.4h-12.5zM2827.6 1096h6.4v5.4h-6.4zM2779.2 1101h18.5v5.4h-18.5zM2815.5 1106h6.4v5.4h-6.4zM2827.6 1111h12.5v5.4h-12.5zM2851.7 1111h6.4v5.4h-6.4zM2845.7 1116h18.5v5.4h-18.5z"/>
<path fill="#b5c7da" d="M2048.4 966h6.4v5.4h-6.4zM2060.5 966h6.4v5.4h-6.4zM2096.7 976h6.4v5.4h-6.4zM2078.6 981h6.4v5.4h-6.4zM2133 981h6.4v5.4h-6.4zM2102.8 986h6.4v5.4h-6.4zM2531.6 1041h6.4v5.4h-6.4zM2501.4 1056h6.4v5.4h-6.4zM2537.6 1061h6.4v5.4h-6.4zM2561.8 1071h6.4v5.4h-6.4zM2610.1 1071h6.4v5.4h-6.4zM2573.9 1076h6.4v5.4h-6.4zM2622.2 1076h6.4v5.4h-6.4zM2592 1081h6.4v5.4h-6.4zM2628.2 1081h6.4v5.4h-6.4zM2610.1 1086h6.4v5.4h-6.4zM2622.2 1086h12.5v5.4h-12.5zM2761.1 1086h6.4v5.4h-6.4zM2761.1 1091h36.6v5.4h-36.6zM2773.2 1096h54.8v5.4h-54.8zM2797.4 1101h48.7v5.4h-48.7zM2821.5 1106h30.6v5.4h-30.6zM2839.6 1111h12.5v5.4h-12.5z"/>
<path fill="#adc2dc" d="M2054.4 966h6.4v5.4h-6.4zM2054.4 971h6.4v5.4h-6.4zM2072.6 971h6.4v5.4h-6.4zM2066.5 976h6.4v5.4h-6.4zM2090.7 976h6.4v5.4h-6.4zM2084.6 981h6.4v5.4h-6.4zM2126.9 981h6.4v5.4h-6.4zM2108.8 986h12.5v5.4h-12.5zM2145 991h12.5v5.4h-12.5zM2495.4 1036h6.4v5.4h-6.4zM2507.4 1056h6.4v5.4h-6.4zM2579.9 1061h6.4v5.4h-6.4zM2592 1066h6.4v5.4h-6.4zM2604.1 1071h6.4v5.4h-6.4zM2610.1 1076h12.5v5.4h-12.5zM2598 1081h6.4v5.4h-6.4zM2616.2 1081h12.5v5.4h-12.5zM2616.2 1086h6.4v5.4h-6.4z"/>
<path fill="#a5bede" d="M2060.5 971h12.5v5.4h-12.5zM2072.6 976h18.5v5.4h-18.5zM2090.7 981h36.6v5.4h-36.6zM2120.9 986h42.7v5.4h-42.7zM2157.1 991h6.4v5.4h-6.4zM2483.3 1041h6.4v5.4h-6.4zM2525.6 1041h6.4v5.4h-6.4zM2549.7 1046h6.4v5.4h-6.4zM2513.5 1056h6.4v5.4h-6.4zM2567.8 1056h6.4v5.4h-6.4zM2598 1071h6.4v5.4h-6.4zM2579.9 1076h6.4v5.4h-6.4zM2598 1076h12.5v5.4h-12.5zM2604.1 1081h12.5v5.4h-12.5z"/>
<path fill="#9db9e1" d="M2519.5 1041h6.4v5.4h-6.4zM2483.3 1056h6.4v5.4h-6.4zM2519.5 1056h6.4v5.4h-6.4zM2543.7 1061h6.4v5.4h-6.4zM2555.8 1066h6.4v5.4h-6.4zM2586 1066h6.4v5.4h-6.4zM2567.8 1071h6.4v5.4h-6.4zM2586 1071h12.5v5.4h-12.5zM2586 1076h12.5v5.4h-12.5z"/>
<path fill="#94b3e4" d="M2507.4 1041h12.5v5.4h-12.5zM2543.7 1046h6.4v5.4h-6.4zM2495.4 1051h6.4v5.4h-6.4zM2555.8 1051h6.4v5.4h-6.4zM2525.6 1056h6.4v5.4h-6.4zM2549.7 1061h6.4v5.4h-6.4zM2573.9 1061h6.4v5.4h-6.4zM2573.9 1066h12.5v5.4h-12.5zM2573.9 1071h12.5v5.4h-12.5z"/>
<path fill="#8caee7" d="M2489.3 1041h18.5v5.4h-18.5zM2483.3 1046h60.8v5.4h-60.8zM2483.3 1051h12.5v5.4h-12.5zM2501.4 1051h18.5v5.4h-18.5zM2531.6 1056h12.5v5.4h-12.5zM2561.8 1056h6.4v5.4h-6.4zM2561.8 1061h12.5v5.4h-12.5zM2561.8 1066h12.5v5.4h-12.5z"/>
<path fill="#84a9eb" d="M2519.5 1051h36.6v5.4h-36.6zM2543.7 1056h18.5v5.4h-18.5zM2555.8 1061h6.4v5.4h-6.4z"/>
</g>
<g transform="translate(2923.9 1120.4) rotate(37)" shape-rendering="crispEdges">
<path fill="#dddecc" d="M-83.3 -93.1h252.4v5.4h-252.4zM-83.3 -88.1h252.4v5.4h-252.4zM-83.3 -83.1h252.4v5.4h-252.4zM-83.3 -78.1h252.4v5.4h-252.4zM-83.3 -73.1h252.4v5.4h-252.4zM-83.3 -68.1h252.4v5.4h-252.4zM-83.3 -63.1h252.4v5.4h-252.4zM-83.3 -58.1h252.4v5.4h-252.4zM-83.3 -53.1h252.4v5.4h-252.4zM-83.3 -48.1h252.4v5.4h-252.4zM-83.3 -43.1h252.4v5.4h-252.4zM-83.3 -38.1h252.4v5.4h-252.4zM-83.3 -33.1h252.4v5.4h-252.4zM-83.3 -28.1h252.4v5.4h-252.4zM-83.3 -23.1h252.4v5.4h-252.4zM-83.3 -18.1h252.4v5.4h-252.4zM-83.3 -13.1h252.4v5.4h-252.4zM-76.3 -8.1h245.4v5.4h-245.4zM-76.3 -3.1h245.4v5.4h-245.4zM-69.3 1.9h238.4v5.4h-238.4zM-62.3 6.9h231.4v5.4h-231.4zM-62.3 11.9h231.4v5.4h-231.4zM-55.3 16.9h196.4v5.4h-196.4zM147.7 16.9h21.4v5.4h-21.4zM-55.3 21.9h42.4v5.4h-42.4zM154.7 21.9h14.4v5.4h-14.4zM-48.3 26.9h14.4v5.4h-14.4zM154.7 26.9h14.4v5.4h-14.4zM161.7 31.9h7.4v5.4h-7.4zM161.7 36.9h7.4v5.4h-7.4zM161.7 56.9h7.4v5.4h-7.4zM154.7 61.9h14.4v5.4h-14.4zM154.7 66.9h14.4v5.4h-14.4zM147.7 71.9h21.4v5.4h-21.4zM140.7 76.9h28.4v5.4h-28.4zM133.7 81.9h35.4v5.4h-35.4zM126.7 86.9h42.4v5.4h-42.4zM119.7 91.9h49.4v5.4h-49.4zM112.7 96.9h56.4v5.4h-56.4zM105.7 101.9h63.4v5.4h-63.4zM98.7 106.9h70.4v5.4h-70.4zM91.7 111.9h77.4v5.4h-77.4zM84.7 116.9h84.4v5.4h-84.4zM77.7 121.9h91.4v5.4h-91.4zM70.7 126.9h98.4v5.4h-98.4zM63.7 131.9h105.4v5.4h-105.4zM56.7 136.9h112.4v5.4h-112.4zM49.7 141.9h119.4v5.4h-119.4zM42.7 146.9h126.4v5.4h-126.4zM42.7 151.9h126.4v5.4h-126.4zM49.7 156.9h119.4v5.4h-119.4z"/>
<path fill="#d7dbcf" d="M-41.3 31.9h7.4v5.4h-7.4z"/>
<path fill="#cdd5d2" d="M-34.3 31.9h7.4v5.4h-7.4zM-41.3 36.9h14.4v5.4h-14.4zM-41.3 41.9h21.4v5.4h-21.4zM-34.3 46.9h14.4v5.4h-14.4zM-34.3 51.9h21.4v5.4h-21.4zM-27.3 56.9h21.4v5.4h-21.4zM-27.3 61.9h28.4v5.4h-28.4zM-20.3 66.9h28.4v5.4h-28.4zM-13.3 71.9h21.4v5.4h-21.4zM-13.3 76.9h56.4v5.4h-56.4zM-6.3 81.9h98.4v5.4h-98.4zM-6.3 86.9h112.4v5.4h-112.4zM0.7 91.9h119.4v5.4h-119.4zM0.7 96.9h112.4v5.4h-112.4zM7.7 101.9h98.4v5.4h-98.4zM7.7 106.9h91.4v5.4h-91.4zM14.7 111.9h77.4v5.4h-77.4zM14.7 116.9h70.4v5.4h-70.4zM21.7 121.9h56.4v5.4h-56.4zM21.7 126.9h49.4v5.4h-49.4zM28.7 131.9h35.4v5.4h-35.4zM35.7 136.9h21.4v5.4h-21.4zM35.7 141.9h14.4v5.4h-14.4z"/>
<path fill="#c4cfd5" d="M-34.3 26.9h7.4v5.4h-7.4zM-48.3 31.9h7.4v5.4h-7.4zM-20.3 46.9h7.4v5.4h-7.4zM7.7 71.9h49.4v5.4h-49.4zM42.7 76.9h49.4v5.4h-49.4zM91.7 81.9h14.4v5.4h-14.4zM105.7 86.9h7.4v5.4h-7.4z"/>
<path fill="#bdcbd7" d="M-27.3 36.9h7.4v5.4h-7.4zM-13.3 51.9h7.4v5.4h-7.4zM-6.3 56.9h7.4v5.4h-7.4zM0.7 61.9h7.4v5.4h-7.4zM7.7 66.9h49.4v5.4h-49.4zM56.7 71.9h28.4v5.4h-28.4zM91.7 76.9h7.4v5.4h-7.4zM105.7 81.9h7.4v5.4h-7.4zM112.7 86.9h14.4v5.4h-14.4z"/>
<path fill="#b5c7da" d="M7.7 61.9h35.4v5.4h-35.4zM56.7 66.9h28.4v5.4h-28.4zM84.7 71.9h7.4v5.4h-7.4zM98.7 76.9h7.4v5.4h-7.4zM112.7 81.9h14.4v5.4h-14.4z"/>
<path fill="#adc2dc" d="M-20.3 41.9h7.4v5.4h-7.4zM0.7 56.9h21.4v5.4h-21.4zM42.7 61.9h28.4v5.4h-28.4zM84.7 66.9h7.4v5.4h-7.4zM91.7 71.9h7.4v5.4h-7.4zM105.7 76.9h14.4v5.4h-14.4zM126.7 81.9h7.4v5.4h-7.4z"/>
<path fill="#a5bede" d="M-27.3 31.9h7.4v5.4h-7.4zM-13.3 46.9h7.4v5.4h-7.4zM-6.3 51.9h14.4v5.4h-14.4zM21.7 56.9h35.4v5.4h-35.4zM70.7 61.9h14.4v5.4h-14.4zM98.7 71.9h7.4v5.4h-7.4zM119.7 76.9h14.4v5.4h-14.4z"/>
<path fill="#9db9e1" d="M63.7 21.9h7.4v5.4h-7.4zM-27.3 26.9h7.4v5.4h-7.4zM7.7 51.9h28.4v5.4h-28.4zM56.7 56.9h21.4v5.4h-21.4zM91.7 66.9h7.4v5.4h-7.4zM105.7 71.9h14.4v5.4h-14.4zM133.7 76.9h7.4v5.4h-7.4z"/>
<path fill="#94b3e4" d="M-13.3 21.9h7.4v5.4h-7.4zM56.7 21.9h7.4v5.4h-7.4zM-6.3 46.9h14.4v5.4h-14.4zM35.7 51.9h21.4v5.4h-21.4zM84.7 61.9h7.4v5.4h-7.4zM98.7 66.9h7.4v5.4h-7.4zM119.7 71.9h14.4v5.4h-14.4z"/>
<path fill="#8caee7" d="M-6.3 21.9h21.4v5.4h-21.4zM21.7 21.9h35.4v5.4h-35.4zM70.7 21.9h7.4v5.4h-7.4zM-20.3 26.9h7.4v5.4h-7.4zM7.7 46.9h28.4v5.4h-28.4zM56.7 51.9h14.4v5.4h-14.4zM77.7 56.9h7.4v5.4h-7.4zM105.7 66.9h14.4v5.4h-14.4zM133.7 71.9h7.4v5.4h-7.4z"/>
<path fill="#84a9eb" d="M14.7 21.9h7.4v5.4h-7.4zM-20.3 36.9h7.4v5.4h-7.4zM-13.3 41.9h14.4v5.4h-14.4zM35.7 46.9h14.4v5.4h-14.4zM70.7 51.9h7.4v5.4h-7.4zM91.7 61.9h7.4v5.4h-7.4zM119.7 66.9h7.4v5.4h-7.4zM140.7 71.9h7.4v5.4h-7.4z"/>
<path fill="#7ba4ef" d="M77.7 21.9h7.4v5.4h-7.4zM-13.3 26.9h7.4v5.4h-7.4zM-20.3 31.9h7.4v5.4h-7.4zM0.7 41.9h14.4v5.4h-14.4zM49.7 46.9h14.4v5.4h-14.4zM84.7 56.9h7.4v5.4h-7.4zM98.7 61.9h14.4v5.4h-14.4zM126.7 66.9h7.4v5.4h-7.4z"/>
<path fill="#729ef3" d="M-6.3 26.9h21.4v5.4h-21.4zM-13.3 31.9h7.4v5.4h-7.4zM-13.3 36.9h7.4v5.4h-7.4zM14.7 41.9h28.4v5.4h-28.4zM63.7 46.9h7.4v5.4h-7.4zM77.7 51.9h7.4v5.4h-7.4zM112.7 61.9h7.4v5.4h-7.4zM133.7 66.9h7.4v5.4h-7.4z"/>
<path fill="#6899f7" d="M84.7 21.9h7.4v5.4h-7.4zM14.7 26.9h63.4v5.4h-63.4zM-6.3 36.9h7.4v5.4h-7.4zM42.7 41.9h14.4v5.4h-14.4zM91.7 56.9h7.4v5.4h-7.4zM119.7 61.9h7.4v5.4h-7.4zM140.7 66.9h14.4v5.4h-14.4z"/>
<path fill="#5f95fb" d="M-6.3 31.9h14.4v5.4h-14.4zM0.7 36.9h21.4v5.4h-21.4zM56.7 41.9h7.4v5.4h-7.4zM70.7 46.9h7.4v5.4h-7.4zM98.7 56.9h7.4v5.4h-7.4z"/>
<path fill="#5591ff" d="M7.7 31.9h28.4v5.4h-28.4zM21.7 36.9h14.4v5.4h-14.4zM84.7 51.9h7.4v5.4h-7.4zM105.7 56.9h7.4v5.4h-7.4zM126.7 61.9h14.4v5.4h-14.4z"/>
<path fill="#4f88f3" d="M77.7 26.9h7.4v5.4h-7.4zM35.7 31.9h28.4v5.4h-28.4zM35.7 36.9h14.4v5.4h-14.4zM63.7 41.9h7.4v5.4h-7.4zM91.7 51.9h7.4v5.4h-7.4zM112.7 56.9h7.4v5.4h-7.4zM140.7 61.9h7.4v5.4h-7.4z"/>
<path fill="#497fe7" d="M91.7 21.9h7.4v5.4h-7.4zM63.7 31.9h14.4v5.4h-14.4zM49.7 36.9h14.4v5.4h-14.4zM77.7 46.9h7.4v5.4h-7.4zM119.7 56.9h7.4v5.4h-7.4zM147.7 61.9h7.4v5.4h-7.4z"/>
<path fill="#4276d9" d="M98.7 51.9h7.4v5.4h-7.4z"/>
<path fill="#3b6ccb" d="M84.7 26.9h7.4v5.4h-7.4zM63.7 36.9h7.4v5.4h-7.4zM70.7 41.9h7.4v5.4h-7.4zM105.7 51.9h7.4v5.4h-7.4zM126.7 56.9h14.4v5.4h-14.4z"/>
<path fill="#3463bd" d="M98.7 21.9h7.4v5.4h-7.4zM77.7 31.9h7.4v5.4h-7.4zM84.7 46.9h7.4v5.4h-7.4zM112.7 51.9h7.4v5.4h-7.4zM140.7 56.9h7.4v5.4h-7.4z"/>
<path fill="#2d5aaf" d="M70.7 36.9h7.4v5.4h-7.4zM91.7 46.9h7.4v5.4h-7.4zM147.7 56.9h14.4v5.4h-14.4z"/>
<path fill="#2651a4" d="M105.7 21.9h21.4v5.4h-21.4zM91.7 26.9h7.4v5.4h-7.4zM77.7 36.9h7.4v5.4h-7.4zM98.7 46.9h7.4v5.4h-7.4zM119.7 51.9h7.4v5.4h-7.4z"/>
<path fill="#1f4999" d="M84.7 31.9h7.4v5.4h-7.4zM77.7 41.9h7.4v5.4h-7.4zM126.7 51.9h7.4v5.4h-7.4z"/>
<path fill="#1a418f" d="M140.7 16.9h7.4v5.4h-7.4zM126.7 21.9h7.4v5.4h-7.4zM105.7 46.9h7.4v5.4h-7.4zM133.7 51.9h7.4v5.4h-7.4zM161.7 51.9h7.4v5.4h-7.4z"/>
<path fill="#153984" d="M133.7 21.9h7.4v5.4h-7.4zM84.7 36.9h7.4v5.4h-7.4zM84.7 41.9h7.4v5.4h-7.4zM140.7 51.9h21.4v5.4h-21.4z"/>
<path fill="#10327a" d="M98.7 26.9h7.4v5.4h-7.4zM91.7 31.9h7.4v5.4h-7.4zM91.7 41.9h7.4v5.4h-7.4zM112.7 46.9h7.4v5.4h-7.4z"/>
<path fill="#0a2b70" d="M161.7 46.9h7.4v5.4h-7.4z"/>
<path fill="#062567" d="M91.7 36.9h7.4v5.4h-7.4zM98.7 41.9h7.4v5.4h-7.4zM119.7 46.9h7.4v5.4h-7.4z"/>
<path fill="#022060" d="M140.7 21.9h14.4v5.4h-14.4zM105.7 26.9h49.4v5.4h-49.4zM98.7 31.9h63.4v5.4h-63.4zM98.7 36.9h63.4v5.4h-63.4zM105.7 41.9h63.4v5.4h-63.4zM126.7 46.9h35.4v5.4h-35.4z"/>
</g>
<polygon points="2870.1,1092.5 2883.5,1097.8 2883.5,1122.8 2870.1,1117.5" fill="#ecb88e"/>
<polygon points="2883.5,1097.8 2898.5,1103.8 2898.5,1128.8 2883.5,1122.8" fill="#f3a069"/>
<polygon points="2898.5,1103.8 2911.9,1112 2911.9,1137 2898.5,1128.8" fill="#e1d4bc"/>
<polygon points="2911.9,1112 2923.9,1119.4 2923.9,1145.4 2911.9,1137" fill="#ecb88e"/>
<polygon points="2923.9,1119.4 2935.8,1128.4 2935.8,1154.4 2923.9,1145.4" fill="#f2a571"/>
<polygon points="2935.8,1128.4 2947.8,1137.4 2947.8,1163.4 2935.8,1154.4" fill="#fc8841"/>
<polygon points="2947.8,1137.4 2959.7,1146.5 2959.7,1172.5 2947.8,1163.4" fill="#da6326"/>
<polygon points="2959.7,1146.5 2971.7,1155.5 2971.7,1181.5 2959.7,1172.5" fill="#b54719"/>
<polygon points="2971.7,1155.5 2985.1,1165.7 2985.1,1191.7 2971.7,1181.5" fill="#a03910"/>
<polygon points="2985.1,1165.7 2997.1,1174.7 2997.1,1200.7 2985.1,1191.7" fill="#ab4015"/>
<polygon points="3007.6,1183.6 3022.5,1191.7 3022.5,1214.7 3007.6,1206.6" fill="#3b6ccb"/>
<polygon points="2935.8,1154.4 2997.1,1200.7 2997.1,1206.7 2935.8,1159.4" fill="#f79455"/>
<polygon points="2917.9,1140.7 2935.8,1154.4 2935.8,1159.4 2917.9,1144.7" fill="#e9be99"/>
<polygon points="2611.5,1042 2638.4,1053.5 2637,1075.5 2608.5,1065" fill="#f2a571"/>
<polygon points="2638.4,1053.5 2669.8,1056.5 2669.8,1074 2637.5,1074" fill="#e4caac"/>
<polygon points="2472,1047 2495,1028.5 2495,1052 2470,1067" fill="#e6c4a3"/>
<polygon points="2495,1028.5 2554.7,1020.5 2554.7,1047 2495,1052" fill="#e4caac"/>
<polygon points="2526,1036 2554.7,1033 2554.7,1047 2526,1049" fill="#e9be99"/>
<polygon points="1810,909 1825,917.5 1825,937 1810,930" fill="#e2cfb4"/>
<polygon points="1883,911 1913,915.4 1913,928 1883,924" fill="#e1d4bc"/>
<polygon points="2080.5,949.5 2110.4,954 2110.4,971 2080.5,966" fill="#e4caac"/>
<polygon points="2137,959 2155,962 2155,981.5 2137,978" fill="#e2cfb4"/>
<polygon points="2194,982.5 2236,991 2236,1017 2194,1008" fill="#e1d4bc"/>
<polygon points="2681.8,1052 2696.7,1046.5 2696.7,1068 2681.8,1070" fill="#e1d4bc"/>
<polygon points="2725,1053 2756.5,1054.8 2756.5,1072.5 2725,1071" fill="#dfdac5"/>
<polygon points="2814.8,1067.6 2844.7,1077.4 2844.7,1105.4 2814.8,1096" fill="#cdd5d2"/>
<polygon points="1715.9,867 1730,871.5 1724,905 1707,900" fill="#b5c7da"/>
<polygon points="1730,871.5 1745.8,876.5 1742,912 1724,905" fill="#c4cfd5"/>
<polygon points="1745.8,876.5 1760,882 1757,916 1742,912" fill="#cdd5d2"/>
<polygon points="1711,888 1728,893 1726,904 1708,899" fill="#8caee7"/>
<polygon points="2164,963.5 2170.2,964 2194.1,982.5 2188,1011.4 2164,995" fill="#94b3e4"/>
<polygon points="2165.7,985 2190,999 2188,1010 2165.7,996" fill="#5f95fb"/>
</g>
<path d="M1686.6 867.4L1686.6 1259.8L3046 1259.8M1716.5 1259.8v14M1837.3 1259.8v14M1958.1 1259.8v14M2078.9 1259.8v14M2199.7 1259.8v14M2320.6 1259.8v14M2441.4 1259.8v14M2562.2 1259.8v14M2683 1259.8v14M2803.8 1259.8v14M2924.6 1259.8v14M3045.4 1259.8v14M1686.6 867.4h-14M1686.6 988.1h-14M1686.6 1108.8h-14M1686.6 1229.5h-14" stroke="#262626" stroke-width="2.1" fill="none" stroke-linecap="butt"/>
<text x="1716.5" y="1327.8" font-size="37.5" text-anchor="middle" fill="#262626">0</text>
<text x="1837.3" y="1327.8" font-size="37.5" text-anchor="middle" fill="#262626">20</text>
<text x="1958.1" y="1327.8" font-size="37.5" text-anchor="middle" fill="#262626">40</text>
<text x="2078.9" y="1327.8" font-size="37.5" text-anchor="middle" fill="#262626">60</text>
<text x="2199.7" y="1327.8" font-size="37.5" text-anchor="middle" fill="#262626">80</text>
<text x="2320.6" y="1327.8" font-size="37.5" text-anchor="middle" fill="#262626">100</text>
<text x="2441.4" y="1327.8" font-size="37.5" text-anchor="middle" fill="#262626">120</text>
<text x="2562.2" y="1327.8" font-size="37.5" text-anchor="middle" fill="#262626">140</text>
<text x="2683" y="1327.8" font-size="37.5" text-anchor="middle" fill="#262626">160</text>
<text x="2803.8" y="1327.8" font-size="37.5" text-anchor="middle" fill="#262626">180</text>
<text x="2924.6" y="1327.8" font-size="37.5" text-anchor="middle" fill="#262626">200</text>
<text x="3045.4" y="1327.8" font-size="37.5" text-anchor="middle" fill="#262626">220</text>
<text x="1656.6" y="882.9" font-size="37.5" text-anchor="end" fill="#262626">0</text>
<text x="1656.6" y="1003.6" font-size="37.5" text-anchor="end" fill="#262626">-20</text>
<text x="1656.6" y="1124.3" font-size="37.5" text-anchor="end" fill="#262626">-40</text>
<text x="1656.6" y="1245" font-size="37.5" text-anchor="end" fill="#262626">-60</text>
<path d="M2051.8 941L2051.8 1259.8" stroke="#000" stroke-width="3.4" fill="none"/>
<path d="M2028.4 960.7L2075.2 960.7" stroke="#fff" stroke-width="3.2" fill="none"/>
<path d="M2028.4 966.1L2075.2 966.1" stroke="#000" stroke-width="3.2" fill="none"/>
<text x="2110.5" y="942" font-size="37.5" text-anchor="middle" fill="#000">COR-0287</text>
<text x="1917.7" y="978.6" font-size="37.5" text-anchor="start" fill="#000">-0.8</text>
<text y="825.9" font-weight="bold" fill="#000"><tspan x="1687.5" font-size="45">MCO </tspan><tspan x="1818.1" font-size="50">24-08-2017 / 17-08-2006</tspan></text>
<text y="841.5" font-size="45.2" fill="#000"><tspan x="2642.7" letter-spacing="1.8">Err. </tspan><tspan x="2735">10.4 %</tspan></text>
<g clip-path="url(#c5)">
<rect x="1909.5" y="1477.4" width="961.1" height="602.8" fill="#dddecc"/>
<g transform="translate(2400 1800) rotate(-41)" shape-rendering="crispEdges">
<path fill="#eb712c" d="M114.7 -31.8h8.4v8.4h-8.4z"/>
<path fill="#fc8841" d="M-213.3 -55.8h8.4v8.4h-8.4z"/>
<path fill="#f59a5f" d="M330.7 -23.8h8.4v8.4h-8.4zM202.7 -15.8h16.4v8.4h-16.4z"/>
<path fill="#f3a069" d="M-213.3 -63.8h24.4v8.4h-24.4zM-205.3 -55.8h16.4v8.4h-16.4z"/>
<path fill="#f2a571" d="M-493.3 -103.8h8.4v8.4h-8.4zM-493.3 -95.8h8.4v8.4h-8.4zM82.7 -39.8h32.4v8.4h-32.4zM82.7 -31.8h32.4v8.4h-32.4zM258.7 -23.8h16.4v8.4h-16.4zM258.7 -15.8h16.4v8.4h-16.4zM386.7 8.2h16.4v8.4h-16.4zM-101.3 16.2h72.4v8.4h-72.4zM378.7 16.2h24.4v8.4h-24.4zM-93.3 24.2h88.4v8.4h-88.4zM370.7 24.2h32.4v8.4h-32.4zM-69.3 32.2h72.4v8.4h-72.4zM378.7 32.2h16.4v8.4h-16.4z"/>
<path fill="#f0aa79" d="M-501.3 -95.8h8.4v8.4h-8.4zM-189.3 -63.8h8.4v8.4h-8.4zM-189.3 -55.8h8.4v8.4h-8.4zM378.7 -7.8h16.4v8.4h-16.4zM370.7 0.2h32.4v8.4h-32.4zM-109.3 8.2h96.4v8.4h-96.4zM370.7 8.2h16.4v8.4h-16.4zM402.7 8.2h8.4v8.4h-8.4zM-109.3 16.2h8.4v8.4h-8.4zM-29.3 16.2h40.4v8.4h-40.4zM362.7 16.2h16.4v8.4h-16.4zM402.7 16.2h8.4v8.4h-8.4zM-101.3 24.2h8.4v8.4h-8.4zM-5.3 24.2h24.4v8.4h-24.4zM402.7 24.2h8.4v8.4h-8.4zM-85.3 32.2h16.4v8.4h-16.4zM2.7 32.2h24.4v8.4h-24.4zM370.7 32.2h8.4v8.4h-8.4zM394.7 32.2h8.4v8.4h-8.4zM-53.3 40.2h64.4v8.4h-64.4zM378.7 40.2h16.4v8.4h-16.4z"/>
<path fill="#eeb184" d="M-501.3 -103.8h8.4v8.4h-8.4zM-389.3 -63.8h8.4v8.4h-8.4zM-229.3 -63.8h16.4v8.4h-16.4zM-181.3 -63.8h8.4v8.4h-8.4zM-109.3 -63.8h16.4v8.4h-16.4zM-181.3 -55.8h8.4v8.4h-8.4zM26.7 -39.8h16.4v8.4h-16.4zM26.7 -31.8h16.4v8.4h-16.4zM58.7 -31.8h24.4v8.4h-24.4zM314.7 -31.8h32.4v8.4h-32.4zM58.7 -23.8h32.4v8.4h-32.4zM130.7 -23.8h32.4v8.4h-32.4zM178.7 -23.8h40.4v8.4h-40.4zM242.7 -23.8h16.4v8.4h-16.4zM274.7 -23.8h8.4v8.4h-8.4zM314.7 -23.8h16.4v8.4h-16.4zM338.7 -23.8h8.4v8.4h-8.4zM130.7 -15.8h32.4v8.4h-32.4zM178.7 -15.8h24.4v8.4h-24.4zM242.7 -15.8h16.4v8.4h-16.4zM274.7 -15.8h8.4v8.4h-8.4zM242.7 -7.8h40.4v8.4h-40.4zM370.7 -7.8h8.4v8.4h-8.4zM394.7 -7.8h8.4v8.4h-8.4zM-101.3 0.2h56.4v8.4h-56.4zM362.7 0.2h8.4v8.4h-8.4zM402.7 0.2h8.4v8.4h-8.4zM-117.3 8.2h8.4v8.4h-8.4zM-13.3 8.2h8.4v8.4h-8.4zM362.7 8.2h8.4v8.4h-8.4zM-117.3 16.2h8.4v8.4h-8.4zM10.7 16.2h8.4v8.4h-8.4zM-109.3 24.2h8.4v8.4h-8.4zM18.7 24.2h8.4v8.4h-8.4zM362.7 24.2h8.4v8.4h-8.4zM-93.3 32.2h8.4v8.4h-8.4zM26.7 32.2h8.4v8.4h-8.4zM402.7 32.2h8.4v8.4h-8.4zM-69.3 40.2h16.4v8.4h-16.4zM10.7 40.2h16.4v8.4h-16.4zM370.7 40.2h8.4v8.4h-8.4zM394.7 40.2h8.4v8.4h-8.4zM386.7 48.2h8.4v8.4h-8.4z"/>
<path fill="#ecb88e" d="M-485.3 -95.8h8.4v8.4h-8.4zM-221.3 -71.8h16.4v8.4h-16.4zM-397.3 -63.8h8.4v8.4h-8.4zM-381.3 -63.8h8.4v8.4h-8.4zM-237.3 -63.8h8.4v8.4h-8.4zM-229.3 -55.8h16.4v8.4h-16.4zM-197.3 -47.8h8.4v8.4h-8.4zM378.7 -15.8h16.4v8.4h-16.4zM362.7 -7.8h8.4v8.4h-8.4zM402.7 -7.8h8.4v8.4h-8.4zM-117.3 0.2h16.4v8.4h-16.4zM-45.3 0.2h24.4v8.4h-24.4zM-125.3 8.2h8.4v8.4h-8.4zM-5.3 8.2h16.4v8.4h-16.4zM410.7 8.2h8.4v8.4h-8.4zM-125.3 16.2h8.4v8.4h-8.4zM18.7 16.2h8.4v8.4h-8.4zM410.7 16.2h8.4v8.4h-8.4zM-125.3 24.2h16.4v8.4h-16.4zM26.7 24.2h16.4v8.4h-16.4zM410.7 24.2h8.4v8.4h-8.4zM-109.3 32.2h16.4v8.4h-16.4zM34.7 32.2h8.4v8.4h-8.4zM362.7 32.2h8.4v8.4h-8.4zM-85.3 40.2h16.4v8.4h-16.4zM26.7 40.2h16.4v8.4h-16.4zM362.7 40.2h8.4v8.4h-8.4zM402.7 40.2h8.4v8.4h-8.4zM-45.3 48.2h72.4v8.4h-72.4zM370.7 48.2h16.4v8.4h-16.4zM394.7 48.2h8.4v8.4h-8.4z"/>
<path fill="#e9be99" d="M-485.3 -103.8h8.4v8.4h-8.4zM-493.3 -87.8h8.4v8.4h-8.4zM-381.3 -71.8h8.4v8.4h-8.4zM-229.3 -71.8h8.4v8.4h-8.4zM-205.3 -71.8h8.4v8.4h-8.4zM-405.3 -63.8h8.4v8.4h-8.4zM-373.3 -63.8h16.4v8.4h-16.4zM-349.3 -63.8h48.4v8.4h-48.4zM-253.3 -63.8h16.4v8.4h-16.4zM-173.3 -63.8h8.4v8.4h-8.4zM-397.3 -55.8h16.4v8.4h-16.4zM-237.3 -55.8h8.4v8.4h-8.4zM-173.3 -55.8h8.4v8.4h-8.4zM-205.3 -47.8h8.4v8.4h-8.4zM-189.3 -47.8h16.4v8.4h-16.4zM370.7 -15.8h8.4v8.4h-8.4zM394.7 -15.8h8.4v8.4h-8.4zM-101.3 -7.8h40.4v8.4h-40.4zM-133.3 0.2h16.4v8.4h-16.4zM-21.3 0.2h16.4v8.4h-16.4zM354.7 0.2h8.4v8.4h-8.4zM410.7 0.2h8.4v8.4h-8.4zM-133.3 8.2h8.4v8.4h-8.4zM10.7 8.2h8.4v8.4h-8.4zM354.7 8.2h8.4v8.4h-8.4zM-141.3 16.2h16.4v8.4h-16.4zM26.7 16.2h8.4v8.4h-8.4zM354.7 16.2h8.4v8.4h-8.4zM-133.3 24.2h8.4v8.4h-8.4zM42.7 24.2h8.4v8.4h-8.4zM354.7 24.2h8.4v8.4h-8.4zM-117.3 32.2h8.4v8.4h-8.4zM42.7 32.2h16.4v8.4h-16.4zM410.7 32.2h8.4v8.4h-8.4zM-101.3 40.2h16.4v8.4h-16.4zM42.7 40.2h16.4v8.4h-16.4zM410.7 40.2h8.4v8.4h-8.4zM-69.3 48.2h24.4v8.4h-24.4zM26.7 48.2h16.4v8.4h-16.4zM402.7 48.2h8.4v8.4h-8.4zM370.7 56.2h32.4v8.4h-32.4z"/>
<path fill="#e6c4a3" d="M-493.3 -111.8h8.4v8.4h-8.4zM-501.3 -87.8h8.4v8.4h-8.4zM-397.3 -71.8h16.4v8.4h-16.4zM-373.3 -71.8h16.4v8.4h-16.4zM-245.3 -71.8h16.4v8.4h-16.4zM-421.3 -63.8h16.4v8.4h-16.4zM-357.3 -63.8h8.4v8.4h-8.4zM-301.3 -63.8h24.4v8.4h-24.4zM-261.3 -63.8h8.4v8.4h-8.4zM-413.3 -55.8h16.4v8.4h-16.4zM-381.3 -55.8h16.4v8.4h-16.4zM-253.3 -55.8h16.4v8.4h-16.4zM-221.3 -47.8h16.4v8.4h-16.4zM-173.3 -47.8h8.4v8.4h-8.4zM370.7 -23.8h8.4v8.4h-8.4zM458.7 -23.8h8.4v8.4h-8.4zM362.7 -15.8h8.4v8.4h-8.4zM402.7 -15.8h8.4v8.4h-8.4zM458.7 -15.8h16.4v8.4h-16.4zM-125.3 -7.8h24.4v8.4h-24.4zM-61.3 -7.8h32.4v8.4h-32.4zM354.7 -7.8h8.4v8.4h-8.4zM410.7 -7.8h8.4v8.4h-8.4zM-5.3 0.2h8.4v8.4h-8.4zM-141.3 8.2h8.4v8.4h-8.4zM18.7 8.2h8.4v8.4h-8.4zM418.7 8.2h8.4v8.4h-8.4zM-149.3 16.2h8.4v8.4h-8.4zM34.7 16.2h16.4v8.4h-16.4zM418.7 16.2h8.4v8.4h-8.4zM-141.3 24.2h8.4v8.4h-8.4zM50.7 24.2h8.4v8.4h-8.4zM418.7 24.2h8.4v8.4h-8.4zM-133.3 32.2h16.4v8.4h-16.4zM58.7 32.2h8.4v8.4h-8.4zM354.7 32.2h8.4v8.4h-8.4zM-109.3 40.2h8.4v8.4h-8.4zM58.7 40.2h8.4v8.4h-8.4zM354.7 40.2h8.4v8.4h-8.4zM-85.3 48.2h16.4v8.4h-16.4zM42.7 48.2h16.4v8.4h-16.4zM362.7 48.2h8.4v8.4h-8.4zM410.7 48.2h8.4v8.4h-8.4zM-37.3 56.2h72.4v8.4h-72.4zM402.7 56.2h8.4v8.4h-8.4zM370.7 64.2h32.4v8.4h-32.4z"/>
<path fill="#e4caac" d="M-501.3 -111.8h8.4v8.4h-8.4zM-485.3 -111.8h8.4v8.4h-8.4zM-509.3 -103.8h8.4v8.4h-8.4zM-509.3 -95.8h8.4v8.4h-8.4zM-485.3 -87.8h8.4v8.4h-8.4zM-405.3 -71.8h8.4v8.4h-8.4zM-357.3 -71.8h88.4v8.4h-88.4zM-253.3 -71.8h8.4v8.4h-8.4zM-429.3 -63.8h8.4v8.4h-8.4zM-277.3 -63.8h16.4v8.4h-16.4zM-165.3 -63.8h8.4v8.4h-8.4zM-421.3 -55.8h8.4v8.4h-8.4zM-365.3 -55.8h80.4v8.4h-80.4zM-269.3 -55.8h16.4v8.4h-16.4zM-165.3 -55.8h8.4v8.4h-8.4zM-229.3 -47.8h8.4v8.4h-8.4zM-189.3 -39.8h8.4v8.4h-8.4zM450.7 -31.8h16.4v8.4h-16.4zM362.7 -23.8h8.4v8.4h-8.4zM450.7 -23.8h8.4v8.4h-8.4zM466.7 -23.8h8.4v8.4h-8.4zM-109.3 -15.8h32.4v8.4h-32.4zM354.7 -15.8h8.4v8.4h-8.4zM410.7 -15.8h8.4v8.4h-8.4zM450.7 -15.8h8.4v8.4h-8.4zM474.7 -15.8h8.4v8.4h-8.4zM-133.3 -7.8h8.4v8.4h-8.4zM-29.3 -7.8h16.4v8.4h-16.4zM466.7 -7.8h16.4v8.4h-16.4zM-141.3 0.2h8.4v8.4h-8.4zM2.7 0.2h16.4v8.4h-16.4zM346.7 0.2h8.4v8.4h-8.4zM418.7 0.2h8.4v8.4h-8.4zM-149.3 8.2h8.4v8.4h-8.4zM26.7 8.2h16.4v8.4h-16.4zM346.7 8.2h8.4v8.4h-8.4zM-157.3 16.2h8.4v8.4h-8.4zM50.7 16.2h8.4v8.4h-8.4zM346.7 16.2h8.4v8.4h-8.4zM-149.3 24.2h8.4v8.4h-8.4zM58.7 24.2h16.4v8.4h-16.4zM-141.3 32.2h8.4v8.4h-8.4zM66.7 32.2h16.4v8.4h-16.4zM418.7 32.2h8.4v8.4h-8.4zM-125.3 40.2h16.4v8.4h-16.4zM66.7 40.2h16.4v8.4h-16.4zM418.7 40.2h8.4v8.4h-8.4zM-101.3 48.2h16.4v8.4h-16.4zM58.7 48.2h16.4v8.4h-16.4zM354.7 48.2h8.4v8.4h-8.4zM418.7 48.2h8.4v8.4h-8.4zM-69.3 56.2h32.4v8.4h-32.4zM34.7 56.2h24.4v8.4h-24.4zM362.7 56.2h8.4v8.4h-8.4zM410.7 56.2h8.4v8.4h-8.4zM362.7 64.2h8.4v8.4h-8.4zM402.7 64.2h16.4v8.4h-16.4zM370.7 72.2h40.4v8.4h-40.4zM378.7 80.2h32.4v8.4h-32.4zM386.7 88.2h16.4v8.4h-16.4z"/>
<path fill="#e2cfb4" d="M-477.3 -103.8h8.4v8.4h-8.4zM-477.3 -95.8h8.4v8.4h-8.4zM-509.3 -87.8h8.4v8.4h-8.4zM-493.3 -79.8h8.4v8.4h-8.4zM-229.3 -79.8h40.4v8.4h-40.4zM-437.3 -71.8h32.4v8.4h-32.4zM-269.3 -71.8h16.4v8.4h-16.4zM-437.3 -63.8h8.4v8.4h-8.4zM-429.3 -55.8h8.4v8.4h-8.4zM-285.3 -55.8h16.4v8.4h-16.4zM-405.3 -47.8h16.4v8.4h-16.4zM-245.3 -47.8h16.4v8.4h-16.4zM-213.3 -39.8h24.4v8.4h-24.4zM-181.3 -39.8h8.4v8.4h-8.4zM450.7 -39.8h8.4v8.4h-8.4zM370.7 -31.8h8.4v8.4h-8.4zM442.7 -31.8h8.4v8.4h-8.4zM466.7 -31.8h8.4v8.4h-8.4zM354.7 -23.8h8.4v8.4h-8.4zM410.7 -23.8h8.4v8.4h-8.4zM442.7 -23.8h8.4v8.4h-8.4zM474.7 -23.8h8.4v8.4h-8.4zM-125.3 -15.8h16.4v8.4h-16.4zM-77.3 -15.8h40.4v8.4h-40.4zM418.7 -15.8h8.4v8.4h-8.4zM-13.3 -7.8h24.4v8.4h-24.4zM346.7 -7.8h8.4v8.4h-8.4zM418.7 -7.8h8.4v8.4h-8.4zM458.7 -7.8h8.4v8.4h-8.4zM482.7 -7.8h8.4v8.4h-8.4zM-149.3 0.2h8.4v8.4h-8.4zM18.7 0.2h16.4v8.4h-16.4zM-181.3 8.2h32.4v8.4h-32.4zM42.7 8.2h16.4v8.4h-16.4zM426.7 8.2h8.4v8.4h-8.4zM-173.3 16.2h16.4v8.4h-16.4zM58.7 16.2h16.4v8.4h-16.4zM426.7 16.2h8.4v8.4h-8.4zM-165.3 24.2h16.4v8.4h-16.4zM74.7 24.2h8.4v8.4h-8.4zM346.7 24.2h8.4v8.4h-8.4zM426.7 24.2h8.4v8.4h-8.4zM-157.3 32.2h16.4v8.4h-16.4zM82.7 32.2h8.4v8.4h-8.4zM346.7 32.2h8.4v8.4h-8.4zM426.7 32.2h8.4v8.4h-8.4zM-141.3 40.2h16.4v8.4h-16.4zM82.7 40.2h16.4v8.4h-16.4zM346.7 40.2h8.4v8.4h-8.4zM426.7 40.2h8.4v8.4h-8.4zM-125.3 48.2h24.4v8.4h-24.4zM74.7 48.2h16.4v8.4h-16.4zM-93.3 56.2h24.4v8.4h-24.4zM58.7 56.2h24.4v8.4h-24.4zM354.7 56.2h8.4v8.4h-8.4zM418.7 56.2h8.4v8.4h-8.4zM-53.3 64.2h112.4v8.4h-112.4zM354.7 64.2h8.4v8.4h-8.4zM418.7 64.2h8.4v8.4h-8.4zM362.7 72.2h8.4v8.4h-8.4zM410.7 72.2h8.4v8.4h-8.4zM362.7 80.2h16.4v8.4h-16.4zM410.7 80.2h8.4v8.4h-8.4zM370.7 88.2h16.4v8.4h-16.4zM402.7 88.2h16.4v8.4h-16.4zM370.7 96.2h48.4v8.4h-48.4zM370.7 104.2h48.4v8.4h-48.4zM370.7 112.2h48.4v8.4h-48.4zM378.7 120.2h40.4v8.4h-40.4zM378.7 128.2h40.4v8.4h-40.4zM378.7 136.2h32.4v8.4h-32.4zM378.7 144.2h32.4v8.4h-32.4zM386.7 152.2h16.4v8.4h-16.4z"/>
<path fill="#e1d4bc" d="M-501.3 -119.8h24.4v8.4h-24.4zM-509.3 -111.8h8.4v8.4h-8.4zM-477.3 -111.8h8.4v8.4h-8.4zM-477.3 -87.8h8.4v8.4h-8.4zM-501.3 -79.8h8.4v8.4h-8.4zM-485.3 -79.8h8.4v8.4h-8.4zM-437.3 -79.8h24.4v8.4h-24.4zM-389.3 -79.8h120.4v8.4h-120.4zM-245.3 -79.8h16.4v8.4h-16.4zM-189.3 -79.8h16.4v8.4h-16.4zM-445.3 -71.8h8.4v8.4h-8.4zM-445.3 -63.8h8.4v8.4h-8.4zM-437.3 -55.8h8.4v8.4h-8.4zM-157.3 -55.8h8.4v8.4h-8.4zM-429.3 -47.8h24.4v8.4h-24.4zM-389.3 -47.8h88.4v8.4h-88.4zM-269.3 -47.8h24.4v8.4h-24.4zM-165.3 -47.8h8.4v8.4h-8.4zM-221.3 -39.8h8.4v8.4h-8.4zM370.7 -39.8h32.4v8.4h-32.4zM434.7 -39.8h16.4v8.4h-16.4zM-197.3 -31.8h16.4v8.4h-16.4zM354.7 -31.8h16.4v8.4h-16.4zM410.7 -31.8h8.4v8.4h-8.4zM426.7 -31.8h16.4v8.4h-16.4zM-125.3 -23.8h72.4v8.4h-72.4zM346.7 -23.8h8.4v8.4h-8.4zM418.7 -23.8h24.4v8.4h-24.4zM-133.3 -15.8h8.4v8.4h-8.4zM-37.3 -15.8h32.4v8.4h-32.4zM346.7 -15.8h8.4v8.4h-8.4zM426.7 -15.8h24.4v8.4h-24.4zM482.7 -15.8h8.4v8.4h-8.4zM-189.3 -7.8h8.4v8.4h-8.4zM-141.3 -7.8h8.4v8.4h-8.4zM10.7 -7.8h16.4v8.4h-16.4zM426.7 -7.8h8.4v8.4h-8.4zM450.7 -7.8h8.4v8.4h-8.4zM-197.3 0.2h32.4v8.4h-32.4zM-157.3 0.2h8.4v8.4h-8.4zM34.7 0.2h16.4v8.4h-16.4zM426.7 0.2h8.4v8.4h-8.4zM466.7 0.2h24.4v8.4h-24.4zM-197.3 8.2h16.4v8.4h-16.4zM58.7 8.2h16.4v8.4h-16.4zM-197.3 16.2h24.4v8.4h-24.4zM74.7 16.2h16.4v8.4h-16.4zM434.7 16.2h8.4v8.4h-8.4zM-189.3 24.2h24.4v8.4h-24.4zM82.7 24.2h16.4v8.4h-16.4zM434.7 24.2h8.4v8.4h-8.4zM-173.3 32.2h16.4v8.4h-16.4zM90.7 32.2h16.4v8.4h-16.4zM-165.3 40.2h24.4v8.4h-24.4zM98.7 40.2h16.4v8.4h-16.4zM-141.3 48.2h16.4v8.4h-16.4zM90.7 48.2h24.4v8.4h-24.4zM346.7 48.2h8.4v8.4h-8.4zM426.7 48.2h8.4v8.4h-8.4zM-125.3 56.2h32.4v8.4h-32.4zM82.7 56.2h24.4v8.4h-24.4zM346.7 56.2h8.4v8.4h-8.4zM426.7 56.2h8.4v8.4h-8.4zM-93.3 64.2h40.4v8.4h-40.4zM58.7 64.2h32.4v8.4h-32.4zM346.7 64.2h8.4v8.4h-8.4zM426.7 64.2h8.4v8.4h-8.4zM-53.3 72.2h112.4v8.4h-112.4zM354.7 72.2h8.4v8.4h-8.4zM418.7 72.2h16.4v8.4h-16.4zM354.7 80.2h8.4v8.4h-8.4zM418.7 80.2h16.4v8.4h-16.4zM354.7 88.2h16.4v8.4h-16.4zM418.7 88.2h16.4v8.4h-16.4zM354.7 96.2h16.4v8.4h-16.4zM418.7 96.2h16.4v8.4h-16.4zM362.7 104.2h8.4v8.4h-8.4zM418.7 104.2h16.4v8.4h-16.4zM362.7 112.2h8.4v8.4h-8.4zM418.7 112.2h8.4v8.4h-8.4zM362.7 120.2h16.4v8.4h-16.4zM418.7 120.2h8.4v8.4h-8.4zM362.7 128.2h16.4v8.4h-16.4zM418.7 128.2h8.4v8.4h-8.4zM362.7 136.2h16.4v8.4h-16.4zM410.7 136.2h16.4v8.4h-16.4zM362.7 144.2h16.4v8.4h-16.4zM410.7 144.2h16.4v8.4h-16.4zM370.7 152.2h16.4v8.4h-16.4zM402.7 152.2h24.4v8.4h-24.4zM370.7 160.2h48.4v8.4h-48.4zM370.7 168.2h48.4v8.4h-48.4zM378.7 176.2h40.4v8.4h-40.4zM386.7 184.2h24.4v8.4h-24.4z"/>
<path fill="#dfdac5" d="M-509.3 -119.8h8.4v8.4h-8.4zM-517.3 -103.8h8.4v8.4h-8.4zM-517.3 -95.8h8.4v8.4h-8.4zM-509.3 -79.8h8.4v8.4h-8.4zM-477.3 -79.8h8.4v8.4h-8.4zM-453.3 -79.8h16.4v8.4h-16.4zM-413.3 -79.8h24.4v8.4h-24.4zM-269.3 -79.8h24.4v8.4h-24.4zM-173.3 -79.8h16.4v8.4h-16.4zM-493.3 -71.8h8.4v8.4h-8.4zM-461.3 -71.8h16.4v8.4h-16.4zM-157.3 -71.8h8.4v8.4h-8.4zM-453.3 -63.8h8.4v8.4h-8.4zM-445.3 -55.8h8.4v8.4h-8.4zM-437.3 -47.8h8.4v8.4h-8.4zM-301.3 -47.8h32.4v8.4h-32.4zM370.7 -47.8h40.4v8.4h-40.4zM426.7 -47.8h24.4v8.4h-24.4zM-237.3 -39.8h16.4v8.4h-16.4zM-173.3 -39.8h8.4v8.4h-8.4zM354.7 -39.8h16.4v8.4h-16.4zM402.7 -39.8h32.4v8.4h-32.4zM-213.3 -31.8h16.4v8.4h-16.4zM-181.3 -31.8h8.4v8.4h-8.4zM-125.3 -31.8h56.4v8.4h-56.4zM346.7 -31.8h8.4v8.4h-8.4zM418.7 -31.8h8.4v8.4h-8.4zM-205.3 -23.8h24.4v8.4h-24.4zM-133.3 -23.8h8.4v8.4h-8.4zM-53.3 -23.8h16.4v8.4h-16.4zM-205.3 -15.8h32.4v8.4h-32.4zM-5.3 -15.8h32.4v8.4h-32.4zM338.7 -15.8h8.4v8.4h-8.4zM-205.3 -7.8h16.4v8.4h-16.4zM-181.3 -7.8h16.4v8.4h-16.4zM-149.3 -7.8h8.4v8.4h-8.4zM26.7 -7.8h24.4v8.4h-24.4zM338.7 -7.8h8.4v8.4h-8.4zM434.7 -7.8h16.4v8.4h-16.4zM490.7 -7.8h8.4v8.4h-8.4zM-205.3 0.2h8.4v8.4h-8.4zM-165.3 0.2h8.4v8.4h-8.4zM50.7 0.2h24.4v8.4h-24.4zM338.7 0.2h8.4v8.4h-8.4zM434.7 0.2h32.4v8.4h-32.4zM490.7 0.2h8.4v8.4h-8.4zM-213.3 8.2h16.4v8.4h-16.4zM74.7 8.2h16.4v8.4h-16.4zM338.7 8.2h8.4v8.4h-8.4zM434.7 8.2h16.4v8.4h-16.4zM474.7 8.2h16.4v8.4h-16.4zM-213.3 16.2h16.4v8.4h-16.4zM90.7 16.2h16.4v8.4h-16.4zM338.7 16.2h8.4v8.4h-8.4zM-205.3 24.2h16.4v8.4h-16.4zM98.7 24.2h24.4v8.4h-24.4zM338.7 24.2h8.4v8.4h-8.4zM-197.3 32.2h24.4v8.4h-24.4zM106.7 32.2h24.4v8.4h-24.4zM338.7 32.2h8.4v8.4h-8.4zM434.7 32.2h8.4v8.4h-8.4zM-189.3 40.2h24.4v8.4h-24.4zM114.7 40.2h16.4v8.4h-16.4zM434.7 40.2h8.4v8.4h-8.4zM-173.3 48.2h32.4v8.4h-32.4zM114.7 48.2h16.4v8.4h-16.4zM434.7 48.2h8.4v8.4h-8.4zM-157.3 56.2h32.4v8.4h-32.4zM106.7 56.2h24.4v8.4h-24.4zM338.7 56.2h8.4v8.4h-8.4zM434.7 56.2h8.4v8.4h-8.4zM-133.3 64.2h40.4v8.4h-40.4zM90.7 64.2h32.4v8.4h-32.4zM434.7 64.2h8.4v8.4h-8.4zM-109.3 72.2h56.4v8.4h-56.4zM58.7 72.2h48.4v8.4h-48.4zM346.7 72.2h8.4v8.4h-8.4zM434.7 72.2h8.4v8.4h-8.4zM-69.3 80.2h152.4v8.4h-152.4zM346.7 80.2h8.4v8.4h-8.4zM434.7 80.2h8.4v8.4h-8.4zM346.7 88.2h8.4v8.4h-8.4zM434.7 88.2h8.4v8.4h-8.4zM346.7 96.2h8.4v8.4h-8.4zM434.7 96.2h8.4v8.4h-8.4zM346.7 104.2h16.4v8.4h-16.4zM434.7 104.2h8.4v8.4h-8.4zM346.7 112.2h16.4v8.4h-16.4zM426.7 112.2h16.4v8.4h-16.4zM346.7 120.2h16.4v8.4h-16.4zM426.7 120.2h16.4v8.4h-16.4zM346.7 128.2h16.4v8.4h-16.4zM426.7 128.2h16.4v8.4h-16.4zM346.7 136.2h16.4v8.4h-16.4zM426.7 136.2h16.4v8.4h-16.4zM346.7 144.2h16.4v8.4h-16.4zM426.7 144.2h16.4v8.4h-16.4zM354.7 152.2h16.4v8.4h-16.4zM426.7 152.2h16.4v8.4h-16.4zM354.7 160.2h16.4v8.4h-16.4zM418.7 160.2h16.4v8.4h-16.4zM354.7 168.2h16.4v8.4h-16.4zM418.7 168.2h16.4v8.4h-16.4zM354.7 176.2h24.4v8.4h-24.4zM418.7 176.2h16.4v8.4h-16.4zM362.7 184.2h24.4v8.4h-24.4zM410.7 184.2h24.4v8.4h-24.4zM362.7 192.2h64.4v8.4h-64.4zM370.7 200.2h56.4v8.4h-56.4zM378.7 208.2h40.4v8.4h-40.4zM386.7 216.2h24.4v8.4h-24.4z"/>
<path fill="#d7dbcf" d="M-253.3 -23.8h8.4v8.4h-8.4zM-269.3 -15.8h24.4v8.4h-24.4zM-269.3 -7.8h16.4v8.4h-16.4zM282.7 -7.8h16.4v8.4h-16.4zM-269.3 0.2h16.4v8.4h-16.4zM258.7 0.2h8.4v8.4h-8.4zM306.7 0.2h8.4v8.4h-8.4zM-261.3 8.2h8.4v8.4h-8.4zM242.7 8.2h16.4v8.4h-16.4zM314.7 8.2h8.4v8.4h-8.4zM242.7 16.2h8.4v8.4h-8.4zM-349.3 24.2h8.4v8.4h-8.4zM-333.3 24.2h16.4v8.4h-16.4zM242.7 24.2h8.4v8.4h-8.4zM322.7 24.2h8.4v8.4h-8.4zM-357.3 32.2h8.4v8.4h-8.4zM-325.3 32.2h16.4v8.4h-16.4zM242.7 32.2h8.4v8.4h-8.4zM322.7 32.2h8.4v8.4h-8.4zM-317.3 40.2h8.4v8.4h-8.4zM242.7 40.2h8.4v8.4h-8.4zM538.7 40.2h8.4v8.4h-8.4zM-317.3 48.2h8.4v8.4h-8.4zM250.7 48.2h16.4v8.4h-16.4zM314.7 48.2h8.4v8.4h-8.4zM554.7 48.2h8.4v8.4h-8.4zM-357.3 56.2h8.4v8.4h-8.4zM266.7 56.2h40.4v8.4h-40.4zM-349.3 64.2h24.4v8.4h-24.4zM530.7 64.2h8.4v8.4h-8.4zM538.7 72.2h16.4v8.4h-16.4z"/>
<path fill="#cdd5d2" d="M-469.3 -95.8h24.4v8.4h-24.4zM266.7 0.2h40.4v8.4h-40.4zM258.7 8.2h8.4v8.4h-8.4zM250.7 16.2h8.4v8.4h-8.4zM314.7 16.2h8.4v8.4h-8.4zM-341.3 24.2h8.4v8.4h-8.4zM-349.3 32.2h24.4v8.4h-24.4zM250.7 32.2h8.4v8.4h-8.4zM-357.3 40.2h40.4v8.4h-40.4zM250.7 40.2h8.4v8.4h-8.4zM314.7 40.2h8.4v8.4h-8.4zM-357.3 48.2h40.4v8.4h-40.4zM266.7 48.2h8.4v8.4h-8.4zM306.7 48.2h8.4v8.4h-8.4zM530.7 48.2h24.4v8.4h-24.4zM-349.3 56.2h32.4v8.4h-32.4zM530.7 56.2h32.4v8.4h-32.4zM538.7 64.2h24.4v8.4h-24.4z"/>
<path fill="#c4cfd5" d="M-453.3 -103.8h24.4v8.4h-24.4zM-445.3 -95.8h16.4v8.4h-16.4zM74.7 -7.8h24.4v8.4h-24.4zM266.7 8.2h8.4v8.4h-8.4zM298.7 8.2h16.4v8.4h-16.4zM258.7 16.2h8.4v8.4h-8.4zM250.7 24.2h8.4v8.4h-8.4zM314.7 24.2h8.4v8.4h-8.4zM314.7 32.2h8.4v8.4h-8.4zM258.7 40.2h8.4v8.4h-8.4zM306.7 40.2h8.4v8.4h-8.4zM274.7 48.2h32.4v8.4h-32.4z"/>
<path fill="#bdcbd7" d="M274.7 8.2h24.4v8.4h-24.4zM266.7 16.2h8.4v8.4h-8.4zM306.7 16.2h8.4v8.4h-8.4zM258.7 24.2h8.4v8.4h-8.4zM306.7 24.2h8.4v8.4h-8.4zM258.7 32.2h8.4v8.4h-8.4zM306.7 32.2h8.4v8.4h-8.4zM266.7 40.2h16.4v8.4h-16.4zM298.7 40.2h8.4v8.4h-8.4z"/>
<path fill="#b5c7da" d="M274.7 16.2h32.4v8.4h-32.4zM266.7 24.2h40.4v8.4h-40.4zM266.7 32.2h40.4v8.4h-40.4zM282.7 40.2h16.4v8.4h-16.4z"/>
<path fill="#a5bede" d="M378.7 -31.8h32.4v8.4h-32.4zM378.7 -23.8h32.4v8.4h-32.4zM82.7 -15.8h32.4v8.4h-32.4zM98.7 -7.8h16.4v8.4h-16.4z"/>
<path fill="#9db9e1" d="M-173.3 -71.8h16.4v8.4h-16.4zM218.7 -23.8h24.4v8.4h-24.4zM162.7 -7.8h24.4v8.4h-24.4zM162.7 0.2h24.4v8.4h-24.4z"/>
<path fill="#84a9eb" d="M26.7 -23.8h16.4v8.4h-16.4zM26.7 -15.8h16.4v8.4h-16.4z"/>
<path fill="#7ba4ef" d="M-197.3 -71.8h24.4v8.4h-24.4z"/>
<path fill="#729ef3" d="M-157.3 -63.8h8.4v8.4h-8.4z"/>
<path fill="#5591ff" d="M-37.3 -31.8h40.4v8.4h-40.4zM-37.3 -23.8h40.4v8.4h-40.4z"/>
</g>
<polygon points="1911.5,2037.5 1925.6,2037.5 1939,2058 1925,2058" fill="#bdcbd7"/>
<polygon points="1925,2058 1939,2058 1952.5,2078.5 1939.2,2078.5" fill="#8caee7"/>
</g>
<path d="M1863.3 1479.5L1863.3 2078.3L2868.6 2078.3M1911.2 2078.3v10.5M2070.7 2078.3v10.5M2230.3 2078.3v10.5M2389.8 2078.3v10.5M2549.4 2078.3v10.5M2708.9 2078.3v10.5M2868.4 2078.3v10.5M1863.3 1479.5h-10.5M1863.3 1559.3h-10.5M1863.3 1639.1h-10.5M1863.3 1718.9h-10.5M1863.3 1798.7h-10.5M1863.3 1878.5h-10.5M1863.3 1958.3h-10.5M1863.3 2038.2h-10.5" stroke="#262626" stroke-width="2.1" fill="none" stroke-linecap="butt"/>
<text x="1911.2" y="2142.8" font-size="37.5" text-anchor="middle" fill="#262626">0</text>
<text x="2070.7" y="2142.8" font-size="37.5" text-anchor="middle" fill="#262626">20</text>
<text x="2230.3" y="2142.8" font-size="37.5" text-anchor="middle" fill="#262626">40</text>
<text x="2389.8" y="2142.8" font-size="37.5" text-anchor="middle" fill="#262626">60</text>
<text x="2549.4" y="2142.8" font-size="37.5" text-anchor="middle" fill="#262626">80</text>
<text x="2708.9" y="2142.8" font-size="37.5" text-anchor="middle" fill="#262626">100</text>
<text x="2868.4" y="2142.8" font-size="37.5" text-anchor="middle" fill="#262626">120</text>
<text x="1836.8" y="1495" font-size="37.5" text-anchor="end" fill="#262626">70</text>
<text x="1836.8" y="1574.8" font-size="37.5" text-anchor="end" fill="#262626">60</text>
<text x="1836.8" y="1654.6" font-size="37.5" text-anchor="end" fill="#262626">50</text>
<text x="1836.8" y="1734.4" font-size="37.5" text-anchor="end" fill="#262626">40</text>
<text x="1836.8" y="1814.2" font-size="37.5" text-anchor="end" fill="#262626">30</text>
<text x="1836.8" y="1894" font-size="37.5" text-anchor="end" fill="#262626">20</text>
<text x="1836.8" y="1973.8" font-size="37.5" text-anchor="end" fill="#262626">10</text>
<text x="1836.8" y="2053.7" font-size="37.5" text-anchor="end" fill="#262626">0</text>
<path d="M2269.4 1824.4L2269.4 1938.7" stroke="#000" stroke-width="3.4" fill="none"/>
<text x="2316.8" y="1821.8" font-size="37.5" text-anchor="middle" fill="#000">DRE-0104</text>
<text x="2360.7" y="2202.6" font-size="45.5" text-anchor="middle" fill="#262626">Distance [m]</text>
<text y="1576.7" font-weight="bold" fill="#000"><tspan x="1888.1" font-size="45">DRE </tspan><tspan x="2009" font-size="50">21-10-2015 / 18-10-2007</tspan></text>
<text y="1672.3" font-size="45.2" fill="#000"><tspan x="1903.4" letter-spacing="1.8">Err. </tspan><tspan x="1994.5">13.7 %</tspan></text>
<rect x="3146" y="1890.7" width="85.5" height="24.3" fill="#7c1e03" shape-rendering="crispEdges"/>
<rect x="3146" y="1867" width="85.5" height="24.3" fill="#852306" shape-rendering="crispEdges"/>
<rect x="3146" y="1843.4" width="85.5" height="24.3" fill="#8d2909" shape-rendering="crispEdges"/>
<rect x="3146" y="1819.7" width="85.5" height="24.3" fill="#97310c" shape-rendering="crispEdges"/>
<rect x="3146" y="1796" width="85.5" height="24.3" fill="#a03910" shape-rendering="crispEdges"/>
<rect x="3146" y="1772.3" width="85.5" height="24.3" fill="#ab4015" shape-rendering="crispEdges"/>
<rect x="3146" y="1748.6" width="85.5" height="24.3" fill="#b54719" shape-rendering="crispEdges"/>
<rect x="3146" y="1724.9" width="85.5" height="24.3" fill="#be4e1d" shape-rendering="crispEdges"/>
<rect x="3146" y="1701.3" width="85.5" height="24.3" fill="#c85520" shape-rendering="crispEdges"/>
<rect x="3146" y="1677.6" width="85.5" height="24.3" fill="#d15c23" shape-rendering="crispEdges"/>
<rect x="3146" y="1653.9" width="85.5" height="24.3" fill="#da6326" shape-rendering="crispEdges"/>
<rect x="3146" y="1630.2" width="85.5" height="24.3" fill="#e36a29" shape-rendering="crispEdges"/>
<rect x="3146" y="1606.5" width="85.5" height="24.3" fill="#eb712c" shape-rendering="crispEdges"/>
<rect x="3146" y="1582.8" width="85.5" height="24.3" fill="#f57931" shape-rendering="crispEdges"/>
<rect x="3146" y="1559.2" width="85.5" height="24.3" fill="#ff8237" shape-rendering="crispEdges"/>
<rect x="3146" y="1535.5" width="85.5" height="24.3" fill="#fc8841" shape-rendering="crispEdges"/>
<rect x="3146" y="1511.8" width="85.5" height="24.3" fill="#fa8e4a" shape-rendering="crispEdges"/>
<rect x="3146" y="1488.1" width="85.5" height="24.3" fill="#f79455" shape-rendering="crispEdges"/>
<rect x="3146" y="1464.4" width="85.5" height="24.3" fill="#f59a5f" shape-rendering="crispEdges"/>
<rect x="3146" y="1440.7" width="85.5" height="24.3" fill="#f3a069" shape-rendering="crispEdges"/>
<rect x="3146" y="1417.1" width="85.5" height="24.3" fill="#f2a571" shape-rendering="crispEdges"/>
<rect x="3146" y="1393.4" width="85.5" height="24.3" fill="#f0aa79" shape-rendering="crispEdges"/>
<rect x="3146" y="1369.7" width="85.5" height="24.3" fill="#eeb184" shape-rendering="crispEdges"/>
<rect x="3146" y="1346" width="85.5" height="24.3" fill="#ecb88e" shape-rendering="crispEdges"/>
<rect x="3146" y="1322.3" width="85.5" height="24.3" fill="#e9be99" shape-rendering="crispEdges"/>
<rect x="3146" y="1298.6" width="85.5" height="24.3" fill="#e6c4a3" shape-rendering="crispEdges"/>
<rect x="3146" y="1275" width="85.5" height="24.3" fill="#e4caac" shape-rendering="crispEdges"/>
<rect x="3146" y="1251.3" width="85.5" height="24.3" fill="#e2cfb4" shape-rendering="crispEdges"/>
<rect x="3146" y="1227.6" width="85.5" height="24.3" fill="#e1d4bc" shape-rendering="crispEdges"/>
<rect x="3146" y="1203.9" width="85.5" height="24.3" fill="#dfdac5" shape-rendering="crispEdges"/>
<rect x="3146" y="1180.2" width="85.5" height="24.3" fill="#dddecc" shape-rendering="crispEdges"/>
<rect x="3146" y="1156.6" width="85.5" height="24.3" fill="#dddecc" shape-rendering="crispEdges"/>
<rect x="3146" y="1132.9" width="85.5" height="24.3" fill="#dddecc" shape-rendering="crispEdges"/>
<rect x="3146" y="1109.2" width="85.5" height="24.3" fill="#dddecc" shape-rendering="crispEdges"/>
<rect x="3146" y="1085.5" width="85.5" height="24.3" fill="#d7dbcf" shape-rendering="crispEdges"/>
<rect x="3146" y="1061.8" width="85.5" height="24.3" fill="#cdd5d2" shape-rendering="crispEdges"/>
<rect x="3146" y="1038.1" width="85.5" height="24.3" fill="#c4cfd5" shape-rendering="crispEdges"/>
<rect x="3146" y="1014.5" width="85.5" height="24.3" fill="#bdcbd7" shape-rendering="crispEdges"/>
<rect x="3146" y="990.8" width="85.5" height="24.3" fill="#b5c7da" shape-rendering="crispEdges"/>
<rect x="3146" y="967.1" width="85.5" height="24.3" fill="#adc2dc" shape-rendering="crispEdges"/>
<rect x="3146" y="943.4" width="85.5" height="24.3" fill="#a5bede" shape-rendering="crispEdges"/>
<rect x="3146" y="919.7" width="85.5" height="24.3" fill="#9db9e1" shape-rendering="crispEdges"/>
<rect x="3146" y="896" width="85.5" height="24.3" fill="#94b3e4" shape-rendering="crispEdges"/>
<rect x="3146" y="872.4" width="85.5" height="24.3" fill="#8caee7" shape-rendering="crispEdges"/>
<rect x="3146" y="848.7" width="85.5" height="24.3" fill="#84a9eb" shape-rendering="crispEdges"/>
<rect x="3146" y="825" width="85.5" height="24.3" fill="#7ba4ef" shape-rendering="crispEdges"/>
<rect x="3146" y="801.3" width="85.5" height="24.3" fill="#729ef3" shape-rendering="crispEdges"/>
<rect x="3146" y="777.6" width="85.5" height="24.3" fill="#6899f7" shape-rendering="crispEdges"/>
<rect x="3146" y="753.9" width="85.5" height="24.3" fill="#5f95fb" shape-rendering="crispEdges"/>
<rect x="3146" y="730.3" width="85.5" height="24.3" fill="#5591ff" shape-rendering="crispEdges"/>
<rect x="3146" y="706.6" width="85.5" height="24.3" fill="#4f88f3" shape-rendering="crispEdges"/>
<rect x="3146" y="682.9" width="85.5" height="24.3" fill="#497fe7" shape-rendering="crispEdges"/>
<rect x="3146" y="659.2" width="85.5" height="24.3" fill="#4276d9" shape-rendering="crispEdges"/>
<rect x="3146" y="635.5" width="85.5" height="24.3" fill="#3b6ccb" shape-rendering="crispEdges"/>
<rect x="3146" y="611.8" width="85.5" height="24.3" fill="#3463bd" shape-rendering="crispEdges"/>
<rect x="3146" y="588.2" width="85.5" height="24.3" fill="#2d5aaf" shape-rendering="crispEdges"/>
<rect x="3146" y="564.5" width="85.5" height="24.3" fill="#2651a4" shape-rendering="crispEdges"/>
<rect x="3146" y="540.8" width="85.5" height="24.3" fill="#1f4999" shape-rendering="crispEdges"/>
<rect x="3146" y="517.1" width="85.5" height="24.3" fill="#1a418f" shape-rendering="crispEdges"/>
<rect x="3146" y="493.4" width="85.5" height="24.3" fill="#153984" shape-rendering="crispEdges"/>
<rect x="3146" y="469.7" width="85.5" height="24.3" fill="#10327a" shape-rendering="crispEdges"/>
<rect x="3146" y="446.1" width="85.5" height="24.3" fill="#0a2b70" shape-rendering="crispEdges"/>
<rect x="3146" y="422.4" width="85.5" height="24.3" fill="#062567" shape-rendering="crispEdges"/>
<rect x="3146" y="398.7" width="85.5" height="24.3" fill="#022060" shape-rendering="crispEdges"/>
<text x="3248.5" y="668.4" font-size="45" text-anchor="start" fill="#262626">20</text>
<text x="3248.5" y="920.8" font-size="45" text-anchor="start" fill="#262626">10</text>
<text x="3248.5" y="1173.2" font-size="45" text-anchor="start" fill="#262626">0</text>
<text x="3248.5" y="1425.6" font-size="45" text-anchor="start" fill="#262626">-10</text>
<text x="3248.5" y="1678" font-size="45" text-anchor="start" fill="#262626">-20</text>
<path d="M3146 398.7H3231.5V1914.4H3146ZM3231.5 651.9h-17M3231.5 904.3h-17M3231.5 1156.7h-17M3231.5 1409.1h-17M3231.5 1661.5h-17" stroke="#262626" stroke-width="2.1" fill="none"/>
<text x="3189" y="373" font-size="45" text-anchor="middle" fill="#000">%</text>
</svg>
</body></html>
